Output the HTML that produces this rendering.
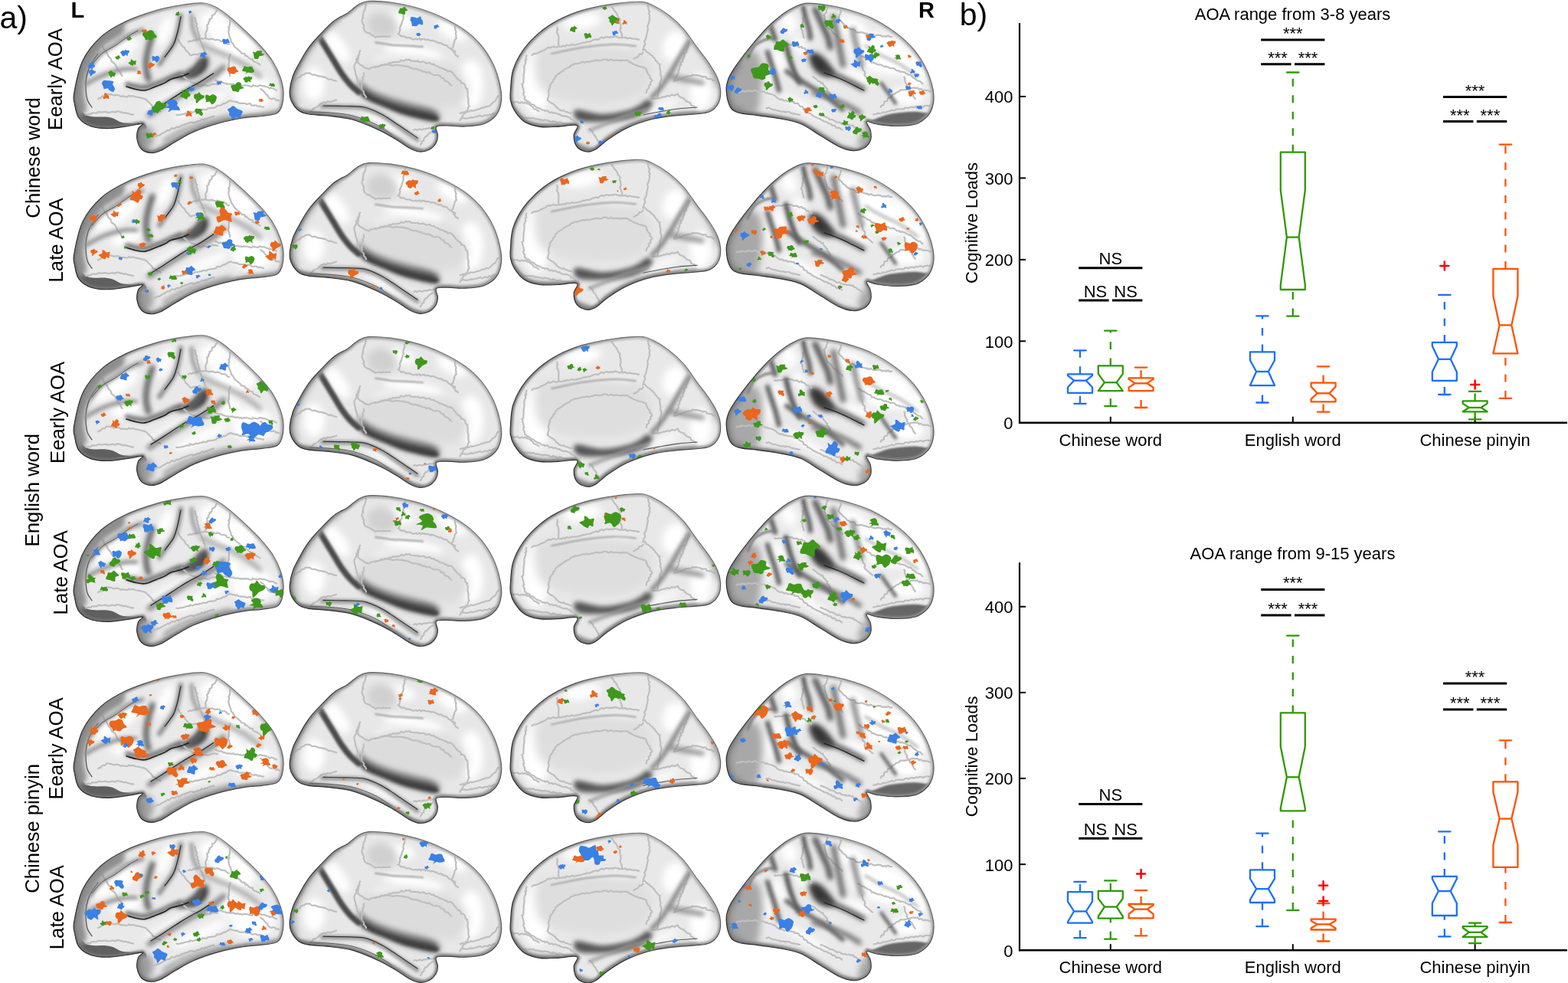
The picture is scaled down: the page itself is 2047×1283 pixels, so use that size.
<!DOCTYPE html>
<html><head><meta charset="utf-8"><title>AOA cognitive loads figure</title>
<style>html,body{margin:0;padding:0;background:#fff;overflow:hidden}svg{display:block}</style>
</head><body>
<svg width="2047" height="1283" viewBox="0 0 2047 1283">
<defs><linearGradient id="edgegrad" x1="0" y1="1" x2="1" y2="0"><stop offset="0" stop-color="#222"/><stop offset="0.55" stop-color="#444"/><stop offset="1" stop-color="#9a9a9a"/></linearGradient>
<linearGradient id="rimgrad" x1="0" y1="1" x2="1" y2="0"><stop offset="0" stop-color="#6a6a6a"/><stop offset="0.5" stop-color="#8a8a8a"/><stop offset="1" stop-color="#c8c8c8"/></linearGradient>
<path id="bt0" d="M0.249 -0.743C0.392 -0.748 0.577 -0.672 0.676 -0.579C0.775 -0.486 0.754 -0.321 0.844 -0.185C0.935 -0.049 1.237 0.138 1.221 0.238C1.205 0.338 0.889 0.332 0.747 0.414C0.605 0.496 0.511 0.696 0.368 0.730C0.224 0.764 0.017 0.621 -0.114 0.618C-0.244 0.616 -0.347 0.751 -0.417 0.716C-0.488 0.681 -0.457 0.536 -0.535 0.410C-0.614 0.283 -0.851 0.101 -0.890 -0.043C-0.928 -0.187 -0.833 -0.371 -0.766 -0.454C-0.698 -0.537 -0.582 -0.527 -0.484 -0.542C-0.387 -0.558 -0.303 -0.516 -0.181 -0.549C-0.059 -0.583 0.106 -0.738 0.249 -0.743Z"/>
<path id="bt1" d="M-0.880 -0.799C-0.719 -0.873 -0.424 -0.771 -0.230 -0.760C-0.035 -0.749 0.125 -0.771 0.288 -0.735C0.451 -0.698 0.704 -0.632 0.749 -0.542C0.793 -0.452 0.557 -0.309 0.556 -0.193C0.554 -0.077 0.677 0.020 0.740 0.151C0.803 0.282 0.955 0.434 0.934 0.592C0.914 0.749 0.774 1.064 0.619 1.096C0.464 1.127 0.145 0.883 0.003 0.783C-0.138 0.683 -0.094 0.527 -0.231 0.496C-0.368 0.466 -0.693 0.652 -0.817 0.600C-0.942 0.548 -0.914 0.335 -0.978 0.183C-1.041 0.031 -1.213 -0.149 -1.197 -0.312C-1.180 -0.476 -1.041 -0.724 -0.880 -0.799Z"/>
<path id="bt2" d="M-1.258 0.011C-1.189 -0.082 -0.720 -0.147 -0.606 -0.295C-0.492 -0.443 -0.632 -0.791 -0.573 -0.879C-0.514 -0.966 -0.384 -0.891 -0.251 -0.820C-0.117 -0.749 0.048 -0.495 0.227 -0.453C0.406 -0.412 0.727 -0.613 0.824 -0.572C0.920 -0.530 0.820 -0.331 0.805 -0.204C0.790 -0.078 0.754 0.054 0.734 0.189C0.714 0.325 0.777 0.567 0.684 0.609C0.591 0.651 0.294 0.404 0.175 0.440C0.057 0.475 0.090 0.785 -0.027 0.821C-0.143 0.858 -0.359 0.750 -0.524 0.657C-0.689 0.564 -0.896 0.371 -1.018 0.263C-1.141 0.155 -1.327 0.104 -1.258 0.011Z"/>
<path id="bt3" d="M0.468 0.564C0.269 0.564 0.119 0.438 -0.062 0.478C-0.243 0.517 -0.553 0.823 -0.616 0.800C-0.680 0.776 -0.324 0.450 -0.442 0.338C-0.560 0.226 -1.210 0.233 -1.325 0.126C-1.440 0.019 -1.210 -0.133 -1.129 -0.306C-1.049 -0.480 -0.999 -0.847 -0.842 -0.913C-0.685 -0.980 -0.383 -0.718 -0.189 -0.704C0.006 -0.691 0.154 -0.818 0.323 -0.832C0.493 -0.846 0.710 -0.868 0.828 -0.788C0.947 -0.708 0.954 -0.513 1.033 -0.352C1.111 -0.191 1.282 0.042 1.299 0.180C1.315 0.318 1.268 0.411 1.129 0.475C0.991 0.539 0.666 0.563 0.468 0.564Z"/>
<path id="bt4" d="M-1.200 0.150C-1.160 -0.007 -0.766 0.050 -0.699 -0.096C-0.633 -0.242 -0.844 -0.550 -0.802 -0.728C-0.759 -0.905 -0.596 -1.162 -0.442 -1.160C-0.289 -1.159 -0.010 -0.836 0.118 -0.718C0.245 -0.599 0.200 -0.518 0.323 -0.448C0.446 -0.379 0.791 -0.377 0.855 -0.301C0.918 -0.225 0.719 -0.121 0.702 0.007C0.686 0.135 0.742 0.341 0.758 0.468C0.773 0.596 0.917 0.757 0.794 0.773C0.672 0.789 0.204 0.600 0.023 0.566C-0.158 0.533 -0.134 0.524 -0.294 0.572C-0.454 0.619 -0.788 0.921 -0.939 0.850C-1.090 0.780 -1.240 0.308 -1.200 0.150Z"/>
<path id="bt5" d="M0.751 0.855C0.629 0.940 0.424 1.213 0.260 1.163C0.096 1.114 -0.015 0.635 -0.233 0.559C-0.452 0.483 -0.927 0.753 -1.053 0.708C-1.178 0.663 -0.967 0.459 -0.985 0.288C-1.003 0.117 -1.162 -0.112 -1.160 -0.319C-1.157 -0.526 -1.130 -0.885 -0.970 -0.953C-0.811 -1.021 -0.358 -0.757 -0.203 -0.727C-0.048 -0.698 -0.171 -0.727 -0.041 -0.776C0.089 -0.826 0.357 -1.063 0.576 -1.027C0.795 -0.990 1.165 -0.742 1.274 -0.556C1.383 -0.369 1.276 -0.107 1.229 0.094C1.182 0.295 1.070 0.524 0.991 0.651C0.911 0.778 0.873 0.769 0.751 0.855Z"/>
<path id="bt6" d="M0.008 -0.786C0.100 -0.796 0.180 -0.636 0.344 -0.591C0.509 -0.547 0.896 -0.620 0.995 -0.520C1.094 -0.420 1.004 -0.129 0.938 0.009C0.872 0.147 0.649 0.156 0.598 0.306C0.548 0.457 0.723 0.866 0.634 0.912C0.545 0.957 0.230 0.573 0.062 0.580C-0.106 0.586 -0.210 0.939 -0.375 0.952C-0.541 0.965 -0.834 0.749 -0.931 0.658C-1.029 0.566 -0.895 0.521 -0.961 0.403C-1.026 0.284 -1.365 0.105 -1.324 -0.054C-1.283 -0.214 -0.900 -0.474 -0.714 -0.554C-0.527 -0.633 -0.326 -0.493 -0.205 -0.532C-0.085 -0.571 -0.083 -0.776 0.008 -0.786Z"/>
<path id="bt7" d="M-0.987 -0.018C-0.959 -0.136 -0.906 -0.090 -0.845 -0.225C-0.784 -0.361 -0.747 -0.738 -0.624 -0.831C-0.500 -0.924 -0.277 -0.730 -0.105 -0.783C0.068 -0.836 0.273 -1.126 0.413 -1.147C0.552 -1.168 0.575 -1.053 0.732 -0.909C0.888 -0.766 1.351 -0.439 1.353 -0.285C1.354 -0.131 0.852 -0.126 0.740 0.013C0.629 0.152 0.710 0.408 0.684 0.549C0.658 0.690 0.691 0.819 0.583 0.858C0.476 0.897 0.193 0.824 0.039 0.782C-0.114 0.739 -0.160 0.652 -0.336 0.603C-0.512 0.554 -0.908 0.591 -1.016 0.487C-1.125 0.384 -1.016 0.101 -0.987 -0.018Z"/>
<path id="bt8" d="M-0.642 -0.153C-0.556 -0.248 -0.557 -0.275 -0.494 -0.377C-0.431 -0.479 -0.393 -0.675 -0.265 -0.764C-0.137 -0.854 0.139 -0.941 0.276 -0.914C0.413 -0.888 0.405 -0.671 0.558 -0.603C0.710 -0.535 1.066 -0.605 1.191 -0.508C1.316 -0.412 1.394 -0.183 1.310 -0.022C1.226 0.139 0.844 0.360 0.685 0.458C0.526 0.555 0.478 0.455 0.357 0.562C0.236 0.669 0.064 1.030 -0.040 1.100C-0.143 1.171 -0.126 1.037 -0.265 0.987C-0.405 0.936 -0.754 0.930 -0.879 0.798C-1.003 0.665 -1.053 0.350 -1.014 0.191C-0.975 0.033 -0.729 -0.059 -0.642 -0.153Z"/>
<path id="bt9" d="M-0.262 -0.652C-0.174 -0.725 -0.075 -1.002 0.093 -1.038C0.261 -1.074 0.631 -0.993 0.747 -0.868C0.862 -0.743 0.689 -0.437 0.786 -0.288C0.884 -0.139 1.380 -0.078 1.332 0.024C1.284 0.126 0.649 0.223 0.497 0.323C0.346 0.423 0.496 0.546 0.423 0.624C0.349 0.701 0.160 0.780 0.055 0.788C-0.051 0.795 -0.068 0.701 -0.210 0.668C-0.352 0.635 -0.669 0.672 -0.797 0.590C-0.925 0.507 -0.922 0.340 -0.979 0.174C-1.037 0.007 -1.233 -0.282 -1.142 -0.410C-1.052 -0.539 -0.585 -0.558 -0.438 -0.598C-0.291 -0.638 -0.351 -0.579 -0.262 -0.652Z"/>
<path id="bt10" d="M-0.302 -0.754C-0.124 -0.723 -0.078 -0.581 0.110 -0.608C0.297 -0.634 0.685 -0.942 0.821 -0.912C0.956 -0.883 0.862 -0.555 0.921 -0.429C0.980 -0.303 1.126 -0.334 1.173 -0.157C1.220 0.020 1.314 0.516 1.201 0.630C1.087 0.744 0.678 0.487 0.492 0.527C0.305 0.567 0.214 0.808 0.081 0.869C-0.053 0.929 -0.167 0.894 -0.310 0.890C-0.453 0.886 -0.677 0.967 -0.777 0.843C-0.877 0.720 -0.852 0.321 -0.908 0.148C-0.964 -0.026 -1.104 -0.042 -1.113 -0.199C-1.122 -0.355 -1.099 -0.699 -0.964 -0.791C-0.829 -0.884 -0.481 -0.785 -0.302 -0.754Z"/>
<path id="bt11" d="M0.991 0.504C0.919 0.585 0.570 0.527 0.384 0.526C0.198 0.526 0.055 0.458 -0.124 0.500C-0.303 0.542 -0.620 0.817 -0.689 0.778C-0.759 0.738 -0.449 0.367 -0.540 0.264C-0.632 0.161 -1.226 0.235 -1.238 0.158C-1.249 0.081 -0.659 -0.056 -0.608 -0.196C-0.558 -0.337 -1.016 -0.545 -0.934 -0.685C-0.852 -0.825 -0.344 -1.006 -0.117 -1.035C0.111 -1.064 0.300 -0.957 0.430 -0.859C0.560 -0.761 0.639 -0.558 0.665 -0.447C0.691 -0.335 0.562 -0.269 0.587 -0.188C0.612 -0.106 0.748 -0.073 0.815 0.042C0.883 0.158 1.063 0.423 0.991 0.504Z"/>
<path id="bt12" d="M0.924 0.053C0.944 0.165 0.768 0.429 0.686 0.511C0.604 0.593 0.516 0.463 0.432 0.543C0.347 0.624 0.324 0.971 0.181 0.994C0.038 1.018 -0.236 0.755 -0.428 0.682C-0.621 0.608 -0.911 0.666 -0.973 0.553C-1.035 0.440 -0.865 0.136 -0.801 0.003C-0.738 -0.130 -0.614 -0.116 -0.591 -0.245C-0.568 -0.374 -0.721 -0.730 -0.663 -0.771C-0.604 -0.812 -0.381 -0.458 -0.240 -0.491C-0.100 -0.524 0.032 -0.948 0.179 -0.971C0.327 -0.994 0.583 -0.763 0.647 -0.628C0.711 -0.494 0.520 -0.277 0.566 -0.163C0.612 -0.050 0.904 -0.060 0.924 0.053Z"/>
<path id="bt13" d="M1.128 0.116C1.129 0.201 0.825 0.302 0.671 0.350C0.518 0.397 0.327 0.308 0.206 0.401C0.085 0.494 0.094 0.828 -0.055 0.907C-0.204 0.987 -0.558 0.961 -0.687 0.880C-0.815 0.800 -0.793 0.571 -0.826 0.424C-0.860 0.278 -0.852 0.132 -0.887 0.000C-0.921 -0.132 -1.102 -0.316 -1.032 -0.366C-0.962 -0.417 -0.590 -0.278 -0.467 -0.304C-0.343 -0.330 -0.381 -0.478 -0.291 -0.524C-0.201 -0.570 -0.090 -0.571 0.073 -0.578C0.237 -0.584 0.591 -0.634 0.689 -0.565C0.787 -0.495 0.588 -0.274 0.661 -0.161C0.735 -0.047 1.126 0.031 1.128 0.116Z"/>
<path id="bt14" d="M-0.516 0.685C-0.619 0.531 -0.826 0.425 -0.880 0.299C-0.934 0.173 -0.798 0.071 -0.841 -0.072C-0.884 -0.215 -1.158 -0.438 -1.137 -0.559C-1.117 -0.679 -0.873 -0.701 -0.718 -0.795C-0.563 -0.889 -0.384 -1.134 -0.207 -1.124C-0.030 -1.114 0.198 -0.829 0.346 -0.734C0.494 -0.640 0.519 -0.637 0.682 -0.554C0.846 -0.472 1.267 -0.409 1.327 -0.240C1.387 -0.071 1.112 0.279 1.043 0.460C0.974 0.641 1.039 0.814 0.914 0.846C0.790 0.878 0.493 0.590 0.297 0.652C0.101 0.715 -0.124 1.217 -0.260 1.222C-0.395 1.227 -0.413 0.838 -0.516 0.685Z"/>
<path id="bt15" d="M0.264 0.597C0.159 0.695 0.043 0.863 -0.074 0.955C-0.192 1.047 -0.367 1.257 -0.442 1.151C-0.517 1.045 -0.474 0.478 -0.526 0.321C-0.577 0.164 -0.680 0.303 -0.750 0.208C-0.819 0.113 -0.947 -0.075 -0.945 -0.247C-0.943 -0.418 -0.873 -0.713 -0.738 -0.823C-0.604 -0.933 -0.284 -0.837 -0.138 -0.908C0.007 -0.979 -0.008 -1.288 0.136 -1.249C0.281 -1.210 0.530 -0.800 0.728 -0.676C0.927 -0.551 1.240 -0.612 1.326 -0.500C1.412 -0.387 1.375 -0.144 1.246 0.001C1.117 0.145 0.716 0.268 0.553 0.367C0.389 0.467 0.368 0.499 0.264 0.597Z"/>
<filter id="b0_5" filterUnits="userSpaceOnUse" x="-100" y="-100" width="1500" height="500"><feGaussianBlur stdDeviation="0.5"/></filter>
<filter id="b1" filterUnits="userSpaceOnUse" x="-100" y="-100" width="1500" height="500"><feGaussianBlur stdDeviation="1"/></filter>
<filter id="b1_2" filterUnits="userSpaceOnUse" x="-100" y="-100" width="1500" height="500"><feGaussianBlur stdDeviation="1.2"/></filter>
<filter id="b1_5" filterUnits="userSpaceOnUse" x="-100" y="-100" width="1500" height="500"><feGaussianBlur stdDeviation="1.5"/></filter>
<filter id="b2" filterUnits="userSpaceOnUse" x="-100" y="-100" width="1500" height="500"><feGaussianBlur stdDeviation="2"/></filter>
<filter id="b2_5" filterUnits="userSpaceOnUse" x="-100" y="-100" width="1500" height="500"><feGaussianBlur stdDeviation="2.5"/></filter>
<filter id="b3" filterUnits="userSpaceOnUse" x="-100" y="-100" width="1500" height="500"><feGaussianBlur stdDeviation="3"/></filter>
<filter id="b3_5" filterUnits="userSpaceOnUse" x="-100" y="-100" width="1500" height="500"><feGaussianBlur stdDeviation="3.5"/></filter>
<filter id="b4" filterUnits="userSpaceOnUse" x="-100" y="-100" width="1500" height="500"><feGaussianBlur stdDeviation="4"/></filter>
<filter id="b5" filterUnits="userSpaceOnUse" x="-100" y="-100" width="1500" height="500"><feGaussianBlur stdDeviation="5"/></filter>
<filter id="b6" filterUnits="userSpaceOnUse" x="-100" y="-100" width="1500" height="500"><feGaussianBlur stdDeviation="6"/></filter>
<clipPath id="clip_latL"><path d="M96.8 121.0C95.0 130.5 96.5 130.5 97.5 136.0C98.5 141.5 99.4 149.2 103.0 154.0C106.6 158.8 112.3 162.8 119.0 165.0C125.7 167.2 134.5 167.7 143.0 167.5C151.5 167.3 162.8 165.0 170.0 164.0C177.2 163.0 184.8 160.8 186.5 161.5C188.2 162.2 181.8 164.6 180.5 168.0C179.2 171.4 178.2 177.5 179.0 182.0C179.8 186.5 182.0 192.1 185.0 195.0C188.0 197.9 192.8 199.2 197.0 199.5C201.2 199.8 204.7 198.9 210.0 196.5C215.3 194.1 221.8 189.1 229.0 185.0C236.2 180.9 243.7 176.0 253.0 172.0C262.3 168.0 274.3 164.0 285.0 161.0C295.7 158.0 307.5 155.6 317.0 154.0C326.5 152.4 334.7 152.5 342.0 151.5C349.3 150.5 356.7 150.2 361.0 148.0C365.3 145.8 366.5 142.7 368.0 138.0C369.5 133.3 370.3 126.2 370.0 120.0C369.7 113.8 368.3 107.7 366.0 101.0C363.7 94.3 360.2 86.7 356.0 80.0C351.8 73.3 346.8 67.5 341.0 61.0C335.2 54.5 327.7 47.3 321.0 41.0C314.3 34.7 307.2 28.1 301.0 23.0C294.8 17.9 289.8 13.7 284.0 10.5C278.2 7.3 273.8 4.7 266.0 4.0C258.2 3.3 247.3 4.9 237.0 6.5C226.7 8.1 216.2 9.9 204.0 13.5C191.8 17.1 176.0 22.2 164.0 28.0C152.0 33.8 141.3 39.5 132.0 48.0C122.7 56.5 113.9 66.8 108.0 79.0C102.1 91.2 98.5 111.5 96.8 121.0Z"/></clipPath>
<path id="edge_latL" d="M96.8 121.0C95.0 130.5 96.5 130.5 97.5 136.0C98.5 141.5 99.4 149.2 103.0 154.0C106.6 158.8 112.3 162.8 119.0 165.0C125.7 167.2 134.5 167.7 143.0 167.5C151.5 167.3 162.8 165.0 170.0 164.0C177.2 163.0 184.8 160.8 186.5 161.5C188.2 162.2 181.8 164.6 180.5 168.0C179.2 171.4 178.2 177.5 179.0 182.0C179.8 186.5 182.0 192.1 185.0 195.0C188.0 197.9 192.8 199.2 197.0 199.5C201.2 199.8 204.7 198.9 210.0 196.5C215.3 194.1 221.8 189.1 229.0 185.0C236.2 180.9 243.7 176.0 253.0 172.0C262.3 168.0 274.3 164.0 285.0 161.0C295.7 158.0 307.5 155.6 317.0 154.0C326.5 152.4 334.7 152.5 342.0 151.5C349.3 150.5 356.7 150.2 361.0 148.0C365.3 145.8 366.5 142.7 368.0 138.0C369.5 133.3 370.3 126.2 370.0 120.0C369.7 113.8 368.3 107.7 366.0 101.0C363.7 94.3 360.2 86.7 356.0 80.0C351.8 73.3 346.8 67.5 341.0 61.0C335.2 54.5 327.7 47.3 321.0 41.0C314.3 34.7 307.2 28.1 301.0 23.0C294.8 17.9 289.8 13.7 284.0 10.5C278.2 7.3 273.8 4.7 266.0 4.0C258.2 3.3 247.3 4.9 237.0 6.5C226.7 8.1 216.2 9.9 204.0 13.5C191.8 17.1 176.0 22.2 164.0 28.0C152.0 33.8 141.3 39.5 132.0 48.0C122.7 56.5 113.9 66.8 108.0 79.0C102.1 91.2 98.5 111.5 96.8 121.0Z" fill="none" stroke="url(#edgegrad)" stroke-width="1.2"/>
<g id="body_latL">
<path d="M96.8 121.0C95.0 130.5 96.5 130.5 97.5 136.0C98.5 141.5 99.4 149.2 103.0 154.0C106.6 158.8 112.3 162.8 119.0 165.0C125.7 167.2 134.5 167.7 143.0 167.5C151.5 167.3 162.8 165.0 170.0 164.0C177.2 163.0 184.8 160.8 186.5 161.5C188.2 162.2 181.8 164.6 180.5 168.0C179.2 171.4 178.2 177.5 179.0 182.0C179.8 186.5 182.0 192.1 185.0 195.0C188.0 197.9 192.8 199.2 197.0 199.5C201.2 199.8 204.7 198.9 210.0 196.5C215.3 194.1 221.8 189.1 229.0 185.0C236.2 180.9 243.7 176.0 253.0 172.0C262.3 168.0 274.3 164.0 285.0 161.0C295.7 158.0 307.5 155.6 317.0 154.0C326.5 152.4 334.7 152.5 342.0 151.5C349.3 150.5 356.7 150.2 361.0 148.0C365.3 145.8 366.5 142.7 368.0 138.0C369.5 133.3 370.3 126.2 370.0 120.0C369.7 113.8 368.3 107.7 366.0 101.0C363.7 94.3 360.2 86.7 356.0 80.0C351.8 73.3 346.8 67.5 341.0 61.0C335.2 54.5 327.7 47.3 321.0 41.0C314.3 34.7 307.2 28.1 301.0 23.0C294.8 17.9 289.8 13.7 284.0 10.5C278.2 7.3 273.8 4.7 266.0 4.0C258.2 3.3 247.3 4.9 237.0 6.5C226.7 8.1 216.2 9.9 204.0 13.5C191.8 17.1 176.0 22.2 164.0 28.0C152.0 33.8 141.3 39.5 132.0 48.0C122.7 56.5 113.9 66.8 108.0 79.0C102.1 91.2 98.5 111.5 96.8 121.0Z" fill="#e9e9e9"/>
<ellipse cx="150.0" cy="70.0" rx="35.0" ry="12.0" transform="rotate(-30 150.0 70.0)" fill="#ffffff" filter="url(#b5)"/>
<ellipse cx="165.0" cy="100.0" rx="22.0" ry="9.0" transform="rotate(-20 165.0 100.0)" fill="#ffffff" filter="url(#b5)"/>
<ellipse cx="222.0" cy="128.0" rx="38.0" ry="7.0" transform="rotate(-30 222.0 128.0)" fill="#ffffff" filter="url(#b5)"/>
<ellipse cx="262.0" cy="137.0" rx="40.0" ry="7.0" transform="rotate(-25 262.0 137.0)" fill="#ffffff" filter="url(#b5)"/>
<ellipse cx="305.0" cy="55.0" rx="30.0" ry="20.0" transform="rotate(20 305.0 55.0)" fill="#ffffff" filter="url(#b5)"/>
<ellipse cx="330.0" cy="120.0" rx="28.0" ry="22.0" transform="rotate(0 330.0 120.0)" fill="#ffffff" filter="url(#b5)"/>
<ellipse cx="280.0" cy="30.0" rx="20.0" ry="15.0" transform="rotate(20 280.0 30.0)" fill="#ffffff" filter="url(#b5)"/>
<ellipse cx="215.0" cy="40.0" rx="8.0" ry="22.0" transform="rotate(25 215.0 40.0)" fill="#ffffff" filter="url(#b5)"/>
<ellipse cx="300.0" cy="100.0" rx="15.0" ry="15.0" transform="rotate(0 300.0 100.0)" fill="#ffffff" filter="url(#b5)"/>
<path d="M96.0 122.0C96.7 119.0 97.7 129.2 99.0 132.0C100.3 134.8 102.7 136.8 104.0 139.0C105.3 141.2 105.5 143.1 107.0 145.0C108.5 146.9 110.2 149.2 113.0 150.5C115.8 151.8 119.8 152.2 124.0 152.5C128.2 152.8 134.0 152.2 138.0 152.5C142.0 152.8 144.7 153.3 148.0 154.5C151.3 155.7 154.3 158.4 158.0 159.5C161.7 160.6 165.0 160.8 170.0 161.0C175.0 161.2 185.0 159.5 188.0 161.0C191.0 162.5 194.3 168.2 188.0 170.0C181.7 171.8 163.0 172.3 150.0 172.0C137.0 171.7 119.2 171.7 110.0 168.0C100.8 164.3 97.3 157.7 95.0 150.0C92.7 142.3 95.3 125.0 96.0 122.0Z" fill="#5f5f5f" filter="url(#b1_0)"/>
<path d="M178.0 170.0C180.3 166.3 186.3 162.7 190.0 163.0C193.7 163.3 198.7 167.5 200.0 172.0C201.3 176.5 200.5 185.3 198.0 190.0C195.5 194.7 188.7 200.8 185.0 200.0C181.3 199.2 177.2 190.0 176.0 185.0C174.8 180.0 175.7 173.7 178.0 170.0Z" fill="#a0a0a0" filter="url(#b4)"/>
<path d="M246.0 96.0C247.2 93.7 252.3 91.0 255.0 88.0C257.7 85.0 259.8 80.7 262.0 78.0C264.2 75.3 266.3 71.7 268.0 72.0C269.7 72.3 272.0 76.7 272.0 80.0C272.0 83.3 270.3 88.8 268.0 92.0C265.7 95.2 261.3 97.3 258.0 99.0C254.7 100.7 250.0 102.5 248.0 102.0C246.0 101.5 244.8 98.3 246.0 96.0Z" fill="#2e2e2e" filter="url(#b3_5)"/>
<path d="M228.0 101.0C228.8 99.0 240.3 94.8 245.0 92.0C249.7 89.2 253.2 86.7 256.0 84.0C258.8 81.3 260.3 76.0 262.0 76.0C263.7 76.0 266.7 80.7 266.0 84.0C265.3 87.3 262.3 92.7 258.0 96.0C253.7 99.3 245.0 103.2 240.0 104.0C235.0 104.8 227.2 103.0 228.0 101.0Z" fill="#5a5a5a" filter="url(#b3)"/>
<path d="M127.3 129.8L130.2 128.0L131.0 128.3L132.7 126.4L134.2 125.1L136.9 125.2L138.9 122.9L140.3 122.4L141.9 122.7L143.7 123.3L145.2 123.1L147.9 124.4L150.3 124.4L152.1 123.9L154.0 124.2L156.4 124.9L158.1 126.1L159.8 125.4L161.6 125.7L164.7 126.3L166.7 126.1L168.2 124.7L170.1 125.6L173.2 125.4L174.5 125.4L177.1 126.5L178.8 126.7L181.6 127.1L184.1 127.9L186.4 128.4L187.0 128.4L190.0 129.4L191.7 130.9L193.5 132.8L195.0 134.1L196.0 135.3L198.0 136.9L199.0 139.3L200.5 140.5L202.6 141.1L204.1 142.6L205.6 144.0L208.1 143.9L210.0 146.0" fill="none" stroke="#bfbfbf" stroke-width="2.2"/>
<path d="M110.8 149.9L112.2 149.4L114.4 149.5L115.2 148.9L118.6 149.1L119.7 147.6L121.8 147.3L123.2 147.5L126.1 147.6L128.6 145.9L129.8 146.1L131.9 146.5L134.9 146.2L136.6 145.9L139.1 146.0L139.5 146.7L142.0 146.8L144.6 146.3L147.0 145.8L149.2 146.4L150.3 146.8L152.8 145.2L155.8 145.7L157.4 146.6L158.8 146.2L161.4 147.6L163.5 146.9L165.3 147.8L166.4 147.9L169.1 148.7L171.6 149.5L173.2 149.4L175.0 150.0" fill="none" stroke="#bfbfbf" stroke-width="2.2"/>
<path d="M254.2 22.4L254.5 23.5L255.0 25.3L255.2 27.2L256.1 30.1L257.3 31.2L256.4 34.3L257.7 36.3L258.2 37.1L257.5 39.6L259.2 42.0L259.2 44.7L260.2 46.0L260.5 48.1L260.1 51.1L261.1 52.1L262.6 55.3L263.3 56.8L264.2 58.5L264.5 61.3L265.9 62.0L266.0 65.2L267.4 65.6L267.4 67.8L268.0 70.0" fill="none" stroke="#bfbfbf" stroke-width="2.2"/>
<path d="M283.7 11.6L283.2 13.8L281.8 15.3L280.8 17.6L278.8 19.5L276.9 19.8L276.7 22.8L275.7 24.3L273.5 25.3L273.9 26.7L272.2 28.9L272.5 30.8L270.1 32.8L270.8 35.2L270.4 37.6L270.1 40.2L269.4 40.6L268.1 44.3L268.7 46.6L268.5 48.7L268.0 50.0" fill="none" stroke="#bfbfbf" stroke-width="2.2"/>
<path d="M300.0 24.9L300.4 27.5L300.1 28.8L300.2 30.4L299.7 33.3L298.4 35.8L299.1 36.2L299.1 39.3L298.4 40.1L298.5 43.8L298.7 44.6L299.2 46.3L299.8 48.3L300.7 50.0L301.4 52.3L302.0 55.1L304.0 56.4L304.6 58.3L305.5 59.5L306.3 61.0L308.3 62.7L310.7 64.6L311.4 65.1L313.7 67.1L314.2 67.9L315.8 69.7L319.2 70.1L320.1 72.8L321.5 72.4L323.8 74.5L325.7 76.2L327.1 76.9L329.9 77.3L330.1 79.2L332.1 80.8L335.2 81.7L336.7 83.0L337.3 83.0L340.0 85.0" fill="none" stroke="#bfbfbf" stroke-width="2.2"/>
<path d="M280.6 104.3L282.3 105.3L284.1 105.8L285.8 106.8L288.6 106.4L290.5 107.7L292.0 108.3L294.5 108.8L296.0 109.6L298.5 109.5L299.4 109.6L301.6 110.0L304.8 109.7L306.4 110.7L307.6 111.1L309.8 110.5L312.3 111.5L314.5 111.3L316.1 112.2L318.6 111.3L319.9 111.5L321.3 111.3L324.6 111.8L325.9 112.6L329.0 112.8L329.9 111.3L331.7 111.8L335.1 112.6L336.9 112.6L338.9 111.4L340.0 111.3L342.3 112.3L345.1 112.2L346.8 113.0L348.9 113.7L350.5 114.1L351.7 115.4L354.3 114.8L356.8 115.4L357.8 116.1L359.3 117.1L362.0 118.0" fill="none" stroke="#bfbfbf" stroke-width="2.2"/>
<path d="M229.5 149.7L232.6 150.3L235.0 149.6L236.2 149.6L239.0 149.0L240.9 148.6L242.3 147.8L245.4 147.4L247.4 147.4L248.1 145.6L251.3 146.7L253.1 146.0L255.4 144.9L257.6 145.0L260.0 144.6L260.4 144.1L263.9 143.7L265.0 142.6L267.3 143.2L269.9 142.9L271.0 141.7L274.4 141.1L276.6 140.9L278.0 140.8L280.0 140.5L282.1 139.6L283.3 137.8L285.2 138.0L288.8 137.2L290.4 136.0L292.4 135.0L293.9 135.2L296.3 133.4L297.7 132.5L300.0 131.3L302.0 131.5L303.4 132.3L306.4 132.7L308.2 133.4L309.3 132.8L311.7 134.5L313.6 134.9L315.6 134.8L317.5 134.9L319.4 134.8L322.4 136.2L324.1 135.3L327.0 135.4L327.9 137.3L330.7 137.8L333.1 137.3L335.2 137.7L336.4 138.8L339.5 138.5L340.6 139.3L342.7 139.5L345.0 140.0" fill="none" stroke="#bfbfbf" stroke-width="2.2"/>
<path d="M199.3 179.8L201.0 178.3L204.0 177.9L205.6 176.5L208.4 176.6L209.6 175.4L211.0 174.6L213.9 173.0L214.7 172.6L216.6 171.5L218.8 170.0L220.9 170.4L223.2 168.4L224.2 167.3L227.8 167.9L229.0 166.9L231.4 165.5L233.2 166.1L234.2 165.3L236.2 164.6L238.0 163.1L241.3 162.6L241.8 162.0L244.2 161.3L245.3 161.0L248.0 159.7L250.9 159.3L252.0 160.3L254.5 159.6L256.8 158.7L258.1 158.0L259.6 158.1L261.9 157.2L263.4 155.5L266.1 156.6L267.9 154.8L269.8 155.5L271.5 154.0L274.3 153.2L275.9 152.5L278.6 151.8L280.0 152.0" fill="none" stroke="#bfbfbf" stroke-width="2.2"/>
<path d="M234.2 95.8L236.8 97.0L238.5 98.1L239.6 98.6L240.5 100.9L241.7 101.6L243.3 102.7L245.0 105.1L246.5 105.2L249.3 106.9L250.3 107.4L252.6 108.1L255.3 108.7L256.7 110.1L258.1 110.7L260.2 111.5L261.5 112.7L264.4 111.4L267.1 110.9L268.3 111.1L269.5 112.0L273.4 111.6L274.3 111.1L277.2 109.8L279.0 109.9L280.0 109.6L283.8 110.3L285.0 110.0" fill="none" stroke="#bfbfbf" stroke-width="2.2"/>
<path d="M244.9 54.9L246.8 54.1L248.3 53.2L250.3 54.2L252.7 52.3L255.9 52.7L256.8 51.4L259.8 51.8L261.8 50.5L263.6 50.4L265.0 50.9L267.7 49.6L268.2 50.2L271.6 51.0L273.3 51.4L274.9 50.9L277.2 50.7L279.5 51.7L281.5 52.3L283.8 51.6L284.6 52.0L286.5 52.2L288.2 53.7L289.9 54.2L293.1 54.2L294.6 55.0L296.4 57.1L297.4 57.8L300.0 58.0" fill="none" stroke="#bfbfbf" stroke-width="2.2"/>
<path d="M232.3 51.3L233.9 53.7L234.4 55.8L236.3 57.0L236.6 58.8L239.2 61.1L240.7 62.0L241.3 63.2L242.2 65.2L243.5 66.6L245.8 68.8L247.3 70.6L247.5 71.4L249.8 72.3L251.3 71.6L254.8 70.6L255.6 70.7L257.4 71.4L260.5 69.7L262.0 70.0" fill="none" stroke="#bfbfbf" stroke-width="2.2"/>
<path d="M300.5 69.9L300.5 71.7L299.6 74.2L298.7 75.7L299.3 78.6L298.7 81.3L298.8 82.4L298.4 85.8L299.0 86.3L298.0 88.6L298.0 90.9L299.3 93.2L299.4 95.6L300.3 97.0L300.0 100.0" fill="none" stroke="#bfbfbf" stroke-width="2.2"/>
<path d="M130.6 55.1L130.5 57.4L132.5 58.2L134.2 60.5L133.9 60.9L135.3 62.8L136.0 65.1L137.2 67.5L138.8 67.8L140.1 70.2L140.8 72.2L142.0 74.2L142.9 74.8L144.6 76.4L145.2 79.1L146.2 80.7L147.7 81.5L149.3 82.9L150.7 84.3L152.0 87.5L152.5 88.1L153.1 90.5L155.1 92.2L156.0 93.3L157.6 95.0L157.6 96.1L158.4 97.5L160.0 100.0" fill="none" stroke="#bfbfbf" stroke-width="2.2"/>
<path d="M339.4 115.8L340.6 116.3L343.9 118.6L344.4 119.3L345.4 120.7L348.2 123.7L349.3 124.0L349.9 126.5L351.9 128.4L355.0 129.3L356.2 128.4L359.3 129.3L360.3 130.9L362.7 130.6L365.0 132.0" fill="none" stroke="#bfbfbf" stroke-width="2.2"/>
<path d="M150.0 36.0C146.0 38.7 133.0 45.0 126.0 52.0C119.0 59.0 112.7 69.2 108.0 78.0C103.3 86.8 99.8 97.2 98.0 105.0C96.2 112.8 96.7 119.2 97.0 125.0C97.3 130.8 99.5 137.5 100.0 140.0" fill="none" stroke="#8e8e8e" stroke-width="26.0" stroke-linecap="round" filter="url(#b3)"/>
<path d="M128.0 70.0C126.3 72.5 120.5 80.0 118.0 85.0C115.5 90.0 114.0 95.0 113.0 100.0C112.0 105.0 111.8 110.0 112.0 115.0C112.2 120.0 112.7 125.8 114.0 130.0C115.3 134.2 119.0 138.3 120.0 140.0" fill="none" stroke="#5a5a5a" stroke-width="1.3" stroke-linecap="round" filter="url(#b0_5)"/>
<path d="M182.0 172.0C182.3 175.3 181.3 187.2 184.0 192.0C186.7 196.8 191.2 201.7 198.0 201.0C204.8 200.3 215.5 192.7 225.0 188.0C234.5 183.3 244.5 177.3 255.0 173.0C265.5 168.7 277.2 165.0 288.0 162.0C298.8 159.0 310.5 156.7 320.0 155.0C329.5 153.3 338.0 153.0 345.0 152.0C352.0 151.0 359.2 149.5 362.0 149.0" fill="none" stroke="#8c8c8c" stroke-width="9.0" stroke-linecap="round" filter="url(#b3)"/>
<path d="M199.0 46.0C198.2 48.7 195.3 56.7 194.0 62.0C192.7 67.3 191.5 73.0 191.0 78.0C190.5 83.0 190.5 87.7 191.0 92.0C191.5 96.3 193.5 102.0 194.0 104.0" fill="none" stroke="#5a5a5a" stroke-width="7.0" stroke-linecap="round" filter="url(#b3)"/>
<path d="M166.0 110.0C168.0 110.5 174.0 112.3 178.0 113.0C182.0 113.7 186.0 114.5 190.0 114.0C194.0 113.5 197.8 111.5 202.0 110.0C206.2 108.5 211.2 106.7 215.0 105.0C218.8 103.3 221.5 101.5 225.0 100.0C228.5 98.5 234.2 96.7 236.0 96.0" fill="none" stroke="#707070" stroke-width="6.0" stroke-linecap="round" filter="url(#b2_5)"/>
<path d="M165.0 113.0C166.8 113.5 172.1 115.5 176.0 116.3C179.9 117.1 184.4 118.4 188.6 118.0C192.8 117.6 197.1 115.3 201.4 113.7C205.7 112.1 210.7 110.3 214.3 108.6C217.9 106.9 219.4 104.8 223.0 103.4C226.6 102.0 231.9 101.2 235.7 100.0C239.5 98.8 244.3 96.7 246.0 96.0" fill="none" stroke="#1e1e1e" stroke-width="1.6" stroke-linecap="round"/>
<path d="M236.0 20.0C235.5 23.0 234.2 32.7 233.0 38.0C231.8 43.3 230.7 47.8 229.0 52.0C227.3 56.2 225.3 59.3 223.0 63.0C220.7 66.7 217.5 70.5 215.0 74.0C212.5 77.5 209.2 82.3 208.0 84.0" fill="none" stroke="#888" stroke-width="6.0" stroke-linecap="round" filter="url(#b2_5)"/>
<path d="M236.0 22.0C235.4 25.0 233.8 34.1 232.3 40.0C230.8 45.9 229.1 52.5 227.1 57.1C225.1 61.7 222.3 64.5 220.3 67.4C218.3 70.3 216.0 73.2 215.1 74.3" fill="none" stroke="#2a2a2a" stroke-width="1.3" stroke-linecap="round"/>
<path d="M195.0 150.0C198.0 148.0 206.5 142.2 213.0 138.0C219.5 133.8 228.0 128.7 234.0 125.0C240.0 121.3 244.3 118.7 249.0 116.0C253.7 113.3 256.8 112.0 262.0 109.0C267.2 106.0 275.0 101.5 280.0 98.0C285.0 94.5 290.0 89.7 292.0 88.0" fill="none" stroke="#7a7a7a" stroke-width="7.0" stroke-linecap="round" filter="url(#b3)"/>
<path d="M197.0 146.3C200.0 144.4 208.6 139.2 215.0 135.0C221.4 130.8 229.9 125.1 235.7 121.4C241.5 117.7 245.7 115.4 250.0 113.0C254.3 110.6 256.6 109.8 261.4 106.9C266.2 104.0 275.7 97.6 278.6 95.7" fill="none" stroke="#2a2a2a" stroke-width="1.3" stroke-linecap="round"/>
<path d="M118.0 86.0C120.3 83.3 126.7 74.7 132.0 70.0C137.3 65.3 144.0 62.0 150.0 58.0C156.0 54.0 162.0 49.2 168.0 46.0C174.0 42.8 183.0 40.2 186.0 39.0" fill="none" stroke="#8a8a8a" stroke-width="5.0" stroke-linecap="round" filter="url(#b2_5)"/>
<path d="M120.0 84.0C122.3 81.5 129.0 73.0 134.0 69.0C139.0 65.0 144.3 63.4 150.0 59.7C155.7 56.0 163.0 50.3 168.0 47.0C173.0 43.7 178.0 41.2 180.0 40.0" fill="none" stroke="#555" stroke-width="1.0" stroke-linecap="round"/>
<path d="M112.0 110.0C114.7 108.5 122.3 103.7 128.0 101.0C133.7 98.3 140.0 95.8 146.0 94.0C152.0 92.2 158.7 90.7 164.0 90.0C169.3 89.3 175.7 90.0 178.0 90.0" fill="none" stroke="#8e8e8e" stroke-width="5.0" stroke-linecap="round" filter="url(#b2_5)"/>
<path d="M250.0 20.0C250.3 23.0 250.7 32.7 252.0 38.0C253.3 43.3 257.0 49.7 258.0 52.0" fill="none" stroke="#999" stroke-width="5.0" stroke-linecap="round" filter="url(#b2_5)"/>
<path d="M262.0 58.0C265.0 59.3 273.7 63.3 280.0 66.0C286.3 68.7 293.0 70.7 300.0 74.0C307.0 77.3 315.3 81.7 322.0 86.0C328.7 90.3 337.0 97.7 340.0 100.0" fill="none" stroke="#a0a0a0" stroke-width="5.0" stroke-linecap="round" filter="url(#b3)"/>
<path d="M215.0 184.0C219.2 181.7 230.8 174.0 240.0 170.0C249.2 166.0 260.0 163.0 270.0 160.0C280.0 157.0 295.0 153.3 300.0 152.0" fill="none" stroke="#999" stroke-width="5.0" stroke-linecap="round" filter="url(#b3)"/>
<path d="M96.8 121.0C95.0 130.5 96.5 130.5 97.5 136.0C98.5 141.5 99.4 149.2 103.0 154.0C106.6 158.8 112.3 162.8 119.0 165.0C125.7 167.2 134.5 167.7 143.0 167.5C151.5 167.3 162.8 165.0 170.0 164.0C177.2 163.0 184.8 160.8 186.5 161.5C188.2 162.2 181.8 164.6 180.5 168.0C179.2 171.4 178.2 177.5 179.0 182.0C179.8 186.5 182.0 192.1 185.0 195.0C188.0 197.9 192.8 199.2 197.0 199.5C201.2 199.8 204.7 198.9 210.0 196.5C215.3 194.1 221.8 189.1 229.0 185.0C236.2 180.9 243.7 176.0 253.0 172.0C262.3 168.0 274.3 164.0 285.0 161.0C295.7 158.0 307.5 155.6 317.0 154.0C326.5 152.4 334.7 152.5 342.0 151.5C349.3 150.5 356.7 150.2 361.0 148.0C365.3 145.8 366.5 142.7 368.0 138.0C369.5 133.3 370.3 126.2 370.0 120.0C369.7 113.8 368.3 107.7 366.0 101.0C363.7 94.3 360.2 86.7 356.0 80.0C351.8 73.3 346.8 67.5 341.0 61.0C335.2 54.5 327.7 47.3 321.0 41.0C314.3 34.7 307.2 28.1 301.0 23.0C294.8 17.9 289.8 13.7 284.0 10.5C278.2 7.3 273.8 4.7 266.0 4.0C258.2 3.3 247.3 4.9 237.0 6.5C226.7 8.1 216.2 9.9 204.0 13.5C191.8 17.1 176.0 22.2 164.0 28.0C152.0 33.8 141.3 39.5 132.0 48.0C122.7 56.5 113.9 66.8 108.0 79.0C102.1 91.2 98.5 111.5 96.8 121.0Z" fill="none" stroke="url(#rimgrad)" stroke-width="6" filter="url(#b1_5)"/>
</g>
<clipPath id="clip_latR"><path d="M948.2 117.8C947.9 111.5 949.3 107.0 951.5 101.5C953.7 96.0 957.2 91.1 961.3 85.1C965.4 79.1 970.8 72.0 976.0 65.5C981.2 59.0 986.7 52.1 992.4 45.8C998.1 39.5 1004.1 33.2 1010.4 27.8C1016.7 22.4 1023.2 17.0 1030.0 13.1C1036.8 9.2 1043.1 5.4 1051.3 4.3C1059.5 3.2 1070.4 5.3 1079.1 6.5C1087.8 7.7 1094.2 8.8 1103.7 11.5C1113.2 14.2 1125.5 17.7 1136.4 22.9C1147.3 28.1 1159.5 35.5 1169.1 42.6C1178.6 49.7 1186.9 57.3 1193.7 65.5C1200.5 73.7 1205.9 83.0 1210.0 91.7C1214.1 100.4 1216.8 110.4 1218.2 117.8C1219.6 125.2 1219.3 130.3 1218.2 135.8C1217.1 141.3 1215.5 146.2 1211.7 150.6C1207.9 155.0 1202.4 159.7 1195.3 162.0C1188.2 164.3 1177.5 164.5 1169.1 164.5C1160.6 164.5 1150.9 162.9 1144.6 162.0C1138.3 161.1 1132.9 157.4 1131.5 158.8C1130.1 160.2 1135.6 166.1 1136.4 170.2C1137.2 174.3 1137.8 179.5 1136.4 183.3C1135.0 187.1 1132.0 190.9 1128.2 193.1C1124.4 195.3 1119.0 196.9 1113.5 196.6C1108.0 196.3 1102.6 194.8 1095.5 191.5C1088.4 188.2 1079.1 181.7 1070.9 176.8C1062.7 171.9 1054.6 165.6 1046.4 162.0C1038.2 158.4 1031.3 157.4 1021.8 155.5C1012.2 153.6 998.6 152.0 989.1 150.6C979.6 149.2 970.5 149.2 964.5 147.3C958.5 145.4 955.8 144.0 953.1 139.1C950.4 134.2 948.5 124.1 948.2 117.8Z"/></clipPath>
<path id="edge_latR" d="M948.2 117.8C947.9 111.5 949.3 107.0 951.5 101.5C953.7 96.0 957.2 91.1 961.3 85.1C965.4 79.1 970.8 72.0 976.0 65.5C981.2 59.0 986.7 52.1 992.4 45.8C998.1 39.5 1004.1 33.2 1010.4 27.8C1016.7 22.4 1023.2 17.0 1030.0 13.1C1036.8 9.2 1043.1 5.4 1051.3 4.3C1059.5 3.2 1070.4 5.3 1079.1 6.5C1087.8 7.7 1094.2 8.8 1103.7 11.5C1113.2 14.2 1125.5 17.7 1136.4 22.9C1147.3 28.1 1159.5 35.5 1169.1 42.6C1178.6 49.7 1186.9 57.3 1193.7 65.5C1200.5 73.7 1205.9 83.0 1210.0 91.7C1214.1 100.4 1216.8 110.4 1218.2 117.8C1219.6 125.2 1219.3 130.3 1218.2 135.8C1217.1 141.3 1215.5 146.2 1211.7 150.6C1207.9 155.0 1202.4 159.7 1195.3 162.0C1188.2 164.3 1177.5 164.5 1169.1 164.5C1160.6 164.5 1150.9 162.9 1144.6 162.0C1138.3 161.1 1132.9 157.4 1131.5 158.8C1130.1 160.2 1135.6 166.1 1136.4 170.2C1137.2 174.3 1137.8 179.5 1136.4 183.3C1135.0 187.1 1132.0 190.9 1128.2 193.1C1124.4 195.3 1119.0 196.9 1113.5 196.6C1108.0 196.3 1102.6 194.8 1095.5 191.5C1088.4 188.2 1079.1 181.7 1070.9 176.8C1062.7 171.9 1054.6 165.6 1046.4 162.0C1038.2 158.4 1031.3 157.4 1021.8 155.5C1012.2 153.6 998.6 152.0 989.1 150.6C979.6 149.2 970.5 149.2 964.5 147.3C958.5 145.4 955.8 144.0 953.1 139.1C950.4 134.2 948.5 124.1 948.2 117.8Z" fill="none" stroke="url(#edgegrad)" stroke-width="1.2"/>
<g id="body_latR">
<path d="M948.2 117.8C947.9 111.5 949.3 107.0 951.5 101.5C953.7 96.0 957.2 91.1 961.3 85.1C965.4 79.1 970.8 72.0 976.0 65.5C981.2 59.0 986.7 52.1 992.4 45.8C998.1 39.5 1004.1 33.2 1010.4 27.8C1016.7 22.4 1023.2 17.0 1030.0 13.1C1036.8 9.2 1043.1 5.4 1051.3 4.3C1059.5 3.2 1070.4 5.3 1079.1 6.5C1087.8 7.7 1094.2 8.8 1103.7 11.5C1113.2 14.2 1125.5 17.7 1136.4 22.9C1147.3 28.1 1159.5 35.5 1169.1 42.6C1178.6 49.7 1186.9 57.3 1193.7 65.5C1200.5 73.7 1205.9 83.0 1210.0 91.7C1214.1 100.4 1216.8 110.4 1218.2 117.8C1219.6 125.2 1219.3 130.3 1218.2 135.8C1217.1 141.3 1215.5 146.2 1211.7 150.6C1207.9 155.0 1202.4 159.7 1195.3 162.0C1188.2 164.3 1177.5 164.5 1169.1 164.5C1160.6 164.5 1150.9 162.9 1144.6 162.0C1138.3 161.1 1132.9 157.4 1131.5 158.8C1130.1 160.2 1135.6 166.1 1136.4 170.2C1137.2 174.3 1137.8 179.5 1136.4 183.3C1135.0 187.1 1132.0 190.9 1128.2 193.1C1124.4 195.3 1119.0 196.9 1113.5 196.6C1108.0 196.3 1102.6 194.8 1095.5 191.5C1088.4 188.2 1079.1 181.7 1070.9 176.8C1062.7 171.9 1054.6 165.6 1046.4 162.0C1038.2 158.4 1031.3 157.4 1021.8 155.5C1012.2 153.6 998.6 152.0 989.1 150.6C979.6 149.2 970.5 149.2 964.5 147.3C958.5 145.4 955.8 144.0 953.1 139.1C950.4 134.2 948.5 124.1 948.2 117.8Z" fill="#e9e9e9"/>
<ellipse cx="1150.0" cy="70.0" rx="45.0" ry="25.0" transform="rotate(20 1150.0 70.0)" fill="#ffffff" filter="url(#b5)"/>
<ellipse cx="1110.0" cy="35.0" rx="22.0" ry="12.0" transform="rotate(15 1110.0 35.0)" fill="#ffffff" filter="url(#b5)"/>
<ellipse cx="1185.0" cy="125.0" rx="22.0" ry="12.0" transform="rotate(0 1185.0 125.0)" fill="#ffffff" filter="url(#b5)"/>
<ellipse cx="1085.0" cy="130.0" rx="35.0" ry="5.0" transform="rotate(30 1085.0 130.0)" fill="#ffffff" filter="url(#b5)"/>
<ellipse cx="1050.0" cy="140.0" rx="35.0" ry="5.0" transform="rotate(30 1050.0 140.0)" fill="#ffffff" filter="url(#b5)"/>
<ellipse cx="985.0" cy="110.0" rx="14.0" ry="20.0" transform="rotate(0 985.0 110.0)" fill="#ffffff" filter="url(#b5)"/>
<ellipse cx="1030.0" cy="30.0" rx="10.0" ry="14.0" transform="rotate(-20 1030.0 30.0)" fill="#ffffff" filter="url(#b5)"/>
<ellipse cx="1120.0" cy="100.0" rx="20.0" ry="6.0" transform="rotate(25 1120.0 100.0)" fill="#ffffff" filter="url(#b5)"/>
<ellipse cx="1018.0" cy="80.0" rx="6.0" ry="18.0" transform="rotate(-20 1018.0 80.0)" fill="#ffffff" filter="url(#b5)"/>
<ellipse cx="1002.0" cy="100.0" rx="5.0" ry="16.0" transform="rotate(-20 1002.0 100.0)" fill="#ffffff" filter="url(#b5)"/>
<ellipse cx="1044.0" cy="60.0" rx="6.0" ry="14.0" transform="rotate(-25 1044.0 60.0)" fill="#ffffff" filter="url(#b5)"/>
<ellipse cx="1195.0" cy="95.0" rx="14.0" ry="20.0" transform="rotate(0 1195.0 95.0)" fill="#ffffff" filter="url(#b5)"/>
<path d="M1131.5 154.9C1131.8 153.8 1133.0 157.7 1138.0 156.7C1143.0 155.7 1152.3 150.7 1161.4 148.9C1170.5 147.1 1183.9 146.1 1192.5 145.8C1201.1 145.5 1208.2 148.3 1212.8 147.3C1217.4 146.3 1219.1 138.2 1220.0 140.0C1220.9 141.8 1219.9 154.3 1218.0 158.0C1216.1 161.7 1213.8 160.7 1208.4 162.0C1203.0 163.3 1193.4 165.3 1185.5 166.0C1177.6 166.7 1169.2 166.5 1161.0 166.0C1152.8 165.5 1141.3 164.8 1136.4 163.0C1131.5 161.2 1131.2 156.0 1131.5 154.9Z" fill="#666666" filter="url(#b1_2)"/>
<path d="M1057.0 70.0C1058.7 68.0 1064.5 68.7 1068.0 70.0C1071.5 71.3 1075.0 75.0 1078.0 78.0C1081.0 81.0 1084.0 84.8 1086.0 88.0C1088.0 91.2 1091.0 95.0 1090.0 97.0C1089.0 99.0 1084.0 100.5 1080.0 100.0C1076.0 99.5 1069.7 97.0 1066.0 94.0C1062.3 91.0 1059.5 86.0 1058.0 82.0C1056.5 78.0 1055.3 72.0 1057.0 70.0Z" fill="#353535" filter="url(#b3_5)"/>
<path d="M1128.0 168.0C1131.0 163.8 1136.0 162.2 1138.0 165.0C1140.0 167.8 1141.3 179.8 1140.0 185.0C1138.7 190.2 1133.3 195.2 1130.0 196.0C1126.7 196.8 1120.3 194.7 1120.0 190.0C1119.7 185.3 1125.0 172.2 1128.0 168.0Z" fill="#a5a5a5" filter="url(#b4)"/>
<path d="M948.0 100.0C949.7 91.3 954.0 85.7 958.0 80.0C962.0 74.3 966.7 67.3 972.0 66.0C977.3 64.7 986.0 66.3 990.0 72.0C994.0 77.7 995.5 90.7 996.0 100.0C996.5 109.3 994.8 119.7 993.0 128.0C991.2 136.3 990.5 146.7 985.0 150.0C979.5 153.3 966.2 151.0 960.0 148.0C953.8 145.0 950.0 140.0 948.0 132.0C946.0 124.0 946.3 108.7 948.0 100.0Z" fill="#a8a8a8" filter="url(#b5)"/>
<path d="M1047.5 5.7L1048.8 8.7L1049.5 10.4L1048.8 12.9L1049.8 14.6L1049.9 16.7L1049.5 18.3L1050.8 20.3L1050.1 22.9L1048.2 23.7L1048.7 27.3L1047.9 29.1L1047.6 30.6L1047.1 33.3L1046.8 35.4L1045.7 37.5L1047.7 39.7L1047.3 41.2L1048.0 44.2L1049.1 46.6L1048.7 47.9L1050.0 50.0" fill="none" stroke="#bfbfbf" stroke-width="2.2"/>
<path d="M1081.3 7.8L1080.1 9.3L1080.2 11.7L1078.8 13.3L1078.7 16.3L1077.0 18.1L1075.4 20.2L1077.0 21.6L1076.5 24.3L1077.1 26.3L1077.9 27.8L1078.6 31.3L1079.5 32.3L1079.2 34.3L1082.3 36.9L1083.0 37.9L1084.9 38.6L1086.2 41.3L1086.8 42.6L1088.2 43.9L1089.6 44.5L1092.3 45.9L1092.4 47.4L1094.3 48.7L1094.9 50.5L1097.1 51.3L1099.4 52.9L1100.0 55.0" fill="none" stroke="#bfbfbf" stroke-width="2.2"/>
<path d="M1097.2 12.8L1097.9 14.8L1097.6 16.5L1096.8 17.8L1095.8 20.8L1095.0 22.3L1094.7 24.1L1096.5 26.5L1097.5 27.2L1099.8 29.7L1100.4 30.7L1102.2 32.1L1104.4 33.4L1105.3 35.4L1106.7 36.2L1108.9 37.0L1110.1 38.4L1112.8 38.1L1115.3 38.6L1116.3 39.9L1117.3 41.9L1120.9 42.5L1121.8 42.6L1124.5 41.9L1126.2 42.6L1127.2 42.9L1130.9 44.1L1131.7 43.7L1133.9 45.3L1136.8 44.3L1137.4 44.8L1140.7 46.2L1141.8 46.3L1143.8 46.1L1146.6 45.7L1148.7 45.9L1150.1 46.3L1152.1 47.5L1155.5 47.2L1156.7 47.9L1159.4 46.6L1161.6 48.2L1162.7 48.0L1165.0 48.0" fill="none" stroke="#bfbfbf" stroke-width="2.2"/>
<path d="M1119.9 69.9L1121.6 70.7L1122.9 71.4L1124.8 74.0L1126.9 73.7L1130.0 75.7L1130.8 75.9L1133.5 78.0L1135.3 78.2L1137.0 79.7L1138.2 81.8L1140.7 81.4L1141.2 82.4L1144.6 83.6L1146.3 84.4L1147.9 84.3L1150.2 84.5L1152.5 85.9L1154.5 86.9L1156.8 86.6L1157.6 87.4L1159.6 87.5L1161.3 88.8L1163.1 89.2L1166.4 89.0L1167.9 89.7L1169.8 91.7L1170.8 92.2L1174.1 92.5L1174.7 93.8L1177.5 93.5L1180.0 94.3L1181.8 94.7L1182.4 95.7L1184.1 96.3L1186.6 98.0L1188.4 97.5L1190.8 99.8L1190.8 100.4L1193.2 102.1L1194.2 102.5L1196.3 104.3L1198.7 105.7L1200.9 105.9L1202.1 107.1L1204.2 109.3L1205.0 110.0" fill="none" stroke="#bfbfbf" stroke-width="2.2"/>
<path d="M1010.3 59.3L1012.6 59.9L1013.8 60.0L1016.3 59.4L1017.2 59.3L1020.5 59.7L1022.7 58.8L1023.9 58.1L1025.5 58.2L1027.5 57.8L1030.5 58.1L1032.6 58.8L1033.5 58.2L1035.8 59.9L1037.3 59.9L1040.8 59.7L1041.6 60.6L1043.4 61.9L1046.5 60.9L1047.2 62.5L1050.1 62.9L1050.6 63.5L1052.9 66.2L1054.9 66.0L1056.1 67.9L1057.9 68.6L1060.0 70.0" fill="none" stroke="#bfbfbf" stroke-width="2.2"/>
<path d="M1060.5 99.9L1062.5 100.6L1063.5 102.1L1064.6 102.6L1067.1 104.5L1068.5 106.1L1070.5 106.2L1072.0 108.6L1074.1 108.1L1074.4 109.3L1075.3 111.2L1077.4 113.0L1078.3 114.8L1080.0 115.8L1079.7 118.7L1080.9 119.1L1083.4 122.2L1083.5 124.2L1085.0 125.0" fill="none" stroke="#bfbfbf" stroke-width="2.2"/>
<path d="M960.6 120.1L961.5 120.6L964.4 119.5L967.1 120.0L967.8 118.6L970.2 118.7L971.9 119.1L974.0 119.6L976.6 118.1L978.9 118.7L980.6 118.9L982.7 119.1L984.6 117.8L987.1 118.1L988.6 119.5L990.5 119.9L992.9 119.4L995.4 119.5L997.7 119.7L999.8 121.7L1001.3 121.0L1002.7 122.1L1005.6 122.6L1007.3 123.0L1009.6 124.0L1010.4 124.5L1012.0 125.1L1014.5 127.8L1016.5 128.8L1017.8 129.9L1020.1 129.6L1021.7 130.0L1023.5 131.6L1026.1 131.1L1028.7 132.4L1030.7 132.4L1032.9 132.7L1034.5 133.2L1036.5 133.2L1037.2 134.9L1040.7 134.9L1042.4 135.4L1043.2 137.3L1044.6 138.7L1047.4 139.3L1048.8 141.2L1049.4 143.3L1052.2 144.1L1053.7 145.2L1054.2 146.9L1056.3 147.7L1058.7 148.8L1060.4 150.6L1062.4 151.6L1064.4 152.7L1066.1 153.3L1066.9 154.1L1069.8 155.0L1070.7 155.3L1073.3 157.2L1075.1 157.4L1075.7 158.8L1078.3 158.9L1080.7 160.0L1081.0 161.0L1084.3 161.3L1085.7 162.9L1086.9 164.0L1089.2 163.7L1090.6 165.3L1092.0 166.9L1095.4 166.7L1096.5 167.3L1099.0 169.4L1100.0 170.0" fill="none" stroke="#bfbfbf" stroke-width="2.2"/>
<path d="M1149.4 140.8L1150.6 138.0L1153.7 136.9L1154.2 134.3L1155.1 132.3L1157.8 132.0L1158.9 129.0L1159.4 128.1L1161.6 127.3L1164.1 126.4L1164.8 123.8L1167.4 122.8L1168.0 122.7L1169.9 120.6L1172.5 119.8L1174.0 119.1L1175.1 117.6L1176.6 117.1L1178.3 117.5L1181.9 116.9L1182.2 117.3L1185.6 116.0L1187.9 116.6L1188.4 115.2L1191.7 114.8L1192.1 114.5L1195.1 114.9L1197.8 114.7L1199.9 116.7L1200.5 116.1L1203.0 116.4L1205.3 118.2L1207.5 117.6L1209.0 118.1L1211.2 118.1L1212.7 118.8L1215.0 120.0" fill="none" stroke="#bfbfbf" stroke-width="2.2"/>
<path d="M1139.5 149.7L1142.2 149.0L1144.7 148.8L1145.5 147.6L1148.8 148.3L1150.5 148.0L1152.4 146.5L1154.7 146.7L1156.4 146.4L1158.4 145.7L1159.2 145.5L1162.2 144.7L1164.1 143.5L1165.3 144.3L1168.0 144.0L1169.6 142.6L1171.7 142.6L1174.2 142.3L1176.6 142.3L1177.7 142.7L1180.3 142.2L1181.3 140.8L1184.0 140.5L1186.1 141.3L1187.8 140.3L1190.5 139.5L1191.2 139.7L1193.4 140.4L1195.5 139.0L1198.5 139.5L1200.6 138.5L1202.6 138.4L1205.2 139.7L1206.8 138.2L1208.9 138.2L1210.8 137.7L1212.2 138.1L1215.0 138.0" fill="none" stroke="#bfbfbf" stroke-width="2.2"/>
<path d="M999.6 140.4L1001.2 141.4L1003.3 140.4L1005.5 141.5L1007.2 142.4L1009.7 143.3L1012.0 143.3L1013.6 144.0L1015.8 144.7L1017.7 144.7L1019.5 145.8L1022.5 145.3L1025.0 146.5L1025.4 145.9L1027.7 146.1L1030.2 146.2L1032.8 147.7L1034.9 148.3L1036.7 148.2L1038.1 149.0L1041.2 149.2L1042.0 149.7L1045.0 150.0" fill="none" stroke="#bfbfbf" stroke-width="2.2"/>
<path d="M1070.6 150.2L1071.9 150.0L1074.2 151.2L1076.1 151.7L1078.2 152.7L1079.7 153.4L1082.1 154.7L1083.4 156.2L1084.8 155.8L1086.9 156.3L1088.9 157.4L1090.4 158.2L1092.8 160.1L1095.7 159.5L1097.5 160.5L1098.2 161.5L1100.7 162.3L1103.8 162.2L1105.0 163.1L1107.3 163.0L1108.9 162.8L1111.1 163.9L1113.7 163.7L1114.6 165.7L1117.0 166.1L1118.0 167.0L1120.4 168.9L1121.8 169.3L1122.9 170.3L1125.4 172.2L1127.1 172.2L1128.1 173.7L1130.0 175.0" fill="none" stroke="#bfbfbf" stroke-width="2.2"/>
<path d="M1179.9 99.7L1181.5 102.6L1180.9 103.9L1181.4 106.0L1182.9 109.4L1184.4 111.1L1183.6 112.6L1185.7 115.9L1185.7 116.1L1187.4 118.0L1188.0 119.9L1190.1 120.8L1191.3 123.6L1192.2 124.4L1192.6 126.6L1194.1 127.7L1195.0 130.0" fill="none" stroke="#bfbfbf" stroke-width="2.2"/>
<path d="M1125.5 84.5L1125.3 86.6L1126.5 89.8L1126.4 91.5L1128.7 93.0L1129.4 96.2L1128.4 97.3L1129.4 99.3L1131.6 101.2L1132.8 102.3L1135.3 104.5L1137.2 106.1L1138.2 107.1L1140.0 108.0" fill="none" stroke="#bfbfbf" stroke-width="2.2"/>
<path d="M961.0 85.0C959.3 87.7 953.2 95.5 951.0 101.0C948.8 106.5 947.7 111.7 948.0 118.0C948.3 124.3 950.2 134.0 953.0 139.0C955.8 144.0 963.0 146.5 965.0 148.0" fill="none" stroke="#8c8c8c" stroke-width="14.0" stroke-linecap="round" filter="url(#b3_5)"/>
<path d="M964.5 149.0C968.6 149.5 979.4 150.7 989.0 152.0C998.6 153.3 1012.5 155.0 1022.0 157.0C1031.5 159.0 1037.8 160.5 1046.0 164.0C1054.2 167.5 1062.8 173.2 1071.0 178.0C1079.2 182.8 1088.0 189.7 1095.0 193.0C1102.0 196.3 1110.0 197.2 1113.0 198.0" fill="none" stroke="#8a8a8a" stroke-width="8.0" stroke-linecap="round" filter="url(#b3)"/>
<path d="M1004.0 30.0C1004.7 31.7 1006.7 36.3 1008.0 40.0C1009.3 43.7 1011.3 50.0 1012.0 52.0" fill="none" stroke="#555" stroke-width="6.0" stroke-linecap="round" filter="url(#b2_5)"/>
<path d="M976.0 76.0C977.5 73.3 981.3 64.0 985.0 60.0C988.7 56.0 993.8 53.7 998.0 52.0C1002.2 50.3 1008.0 50.3 1010.0 50.0" fill="none" stroke="#777" stroke-width="3.0" stroke-linecap="round" filter="url(#b1_5)"/>
<path d="M1026.0 58.0C1026.7 60.7 1028.5 68.8 1030.0 74.0C1031.5 79.2 1033.3 84.5 1035.0 89.0C1036.7 93.5 1038.5 97.8 1040.0 101.0C1041.5 104.2 1043.3 106.8 1044.0 108.0" fill="none" stroke="#4a4a4a" stroke-width="6.0" stroke-linecap="round" filter="url(#b2_5)"/>
<path d="M1048.5 9.0C1049.1 11.5 1050.8 19.3 1052.0 24.0C1053.2 28.7 1055.0 32.7 1056.0 37.0C1057.0 41.3 1057.7 47.8 1058.0 50.0" fill="none" stroke="#5a5a5a" stroke-width="6.0" stroke-linecap="round" filter="url(#b2_5)"/>
<path d="M1064.0 12.0C1065.0 14.2 1068.0 20.7 1070.0 25.0C1072.0 29.3 1074.2 34.0 1076.0 38.0C1077.8 42.0 1079.7 45.0 1081.0 49.0C1082.3 53.0 1083.5 59.8 1084.0 62.0" fill="none" stroke="#4a4a4a" stroke-width="7.0" stroke-linecap="round" filter="url(#b3)"/>
<path d="M1002.0 68.0C1002.8 70.7 1005.3 78.8 1007.0 84.0C1008.7 89.2 1010.3 93.3 1012.0 99.0C1013.7 104.7 1016.2 114.8 1017.0 118.0" fill="none" stroke="#5a5a5a" stroke-width="6.0" stroke-linecap="round" filter="url(#b2_5)"/>
<path d="M1027.0 93.0C1030.0 95.0 1038.7 101.0 1045.0 105.0C1051.3 109.0 1059.7 113.8 1065.0 117.0C1070.3 120.2 1071.2 119.7 1077.0 124.0C1082.8 128.3 1096.2 139.8 1100.0 143.0" fill="none" stroke="#606060" stroke-width="6.0" stroke-linecap="round" filter="url(#b2_5)"/>
<path d="M1075.6 92.8C1078.8 94.0 1088.9 97.5 1095.0 100.0C1101.1 102.5 1106.7 105.3 1112.0 108.0C1117.3 110.7 1124.5 114.8 1127.0 116.2" fill="none" stroke="#4a4a4a" stroke-width="6.0" stroke-linecap="round" filter="url(#b3)"/>
<path d="M1076.0 95.0C1079.2 96.2 1089.0 99.5 1095.0 102.0C1101.0 104.5 1106.5 107.3 1112.0 110.0C1117.5 112.7 1125.3 116.7 1128.0 118.0" fill="none" stroke="#222" stroke-width="1.3" stroke-linecap="round"/>
<path d="M1088.0 22.6C1089.0 27.8 1092.2 43.4 1094.3 53.8C1096.4 64.2 1099.5 79.8 1100.5 85.0" fill="none" stroke="#6a6a6a" stroke-width="7.0" stroke-linecap="round" filter="url(#b3)"/>
<path d="M1113.0 38.0C1113.8 41.7 1116.0 52.2 1118.0 60.0C1120.0 67.8 1123.8 80.8 1125.0 85.0" fill="none" stroke="#7a7a7a" stroke-width="6.0" stroke-linecap="round" filter="url(#b3)"/>
<path d="M1150.4 108.4C1152.0 110.7 1156.9 117.6 1160.0 122.0C1163.1 126.4 1167.7 132.8 1169.2 134.9" fill="none" stroke="#555" stroke-width="4.0" stroke-linecap="round" filter="url(#b2)"/>
<path d="M1062.0 121.0C1065.8 122.2 1077.8 125.3 1085.0 128.0C1092.2 130.7 1098.8 133.8 1105.0 137.0C1111.2 140.2 1119.2 145.3 1122.0 147.0" fill="none" stroke="#6a6a6a" stroke-width="6.0" stroke-linecap="round" filter="url(#b3)"/>
<path d="M1130.0 60.0C1133.3 62.0 1142.5 68.0 1150.0 72.0C1157.5 76.0 1167.0 79.3 1175.0 84.0C1183.0 88.7 1194.2 97.3 1198.0 100.0" fill="none" stroke="#aaa" stroke-width="3.0" stroke-linecap="round" filter="url(#b2)"/>
<path d="M948.2 117.8C947.9 111.5 949.3 107.0 951.5 101.5C953.7 96.0 957.2 91.1 961.3 85.1C965.4 79.1 970.8 72.0 976.0 65.5C981.2 59.0 986.7 52.1 992.4 45.8C998.1 39.5 1004.1 33.2 1010.4 27.8C1016.7 22.4 1023.2 17.0 1030.0 13.1C1036.8 9.2 1043.1 5.4 1051.3 4.3C1059.5 3.2 1070.4 5.3 1079.1 6.5C1087.8 7.7 1094.2 8.8 1103.7 11.5C1113.2 14.2 1125.5 17.7 1136.4 22.9C1147.3 28.1 1159.5 35.5 1169.1 42.6C1178.6 49.7 1186.9 57.3 1193.7 65.5C1200.5 73.7 1205.9 83.0 1210.0 91.7C1214.1 100.4 1216.8 110.4 1218.2 117.8C1219.6 125.2 1219.3 130.3 1218.2 135.8C1217.1 141.3 1215.5 146.2 1211.7 150.6C1207.9 155.0 1202.4 159.7 1195.3 162.0C1188.2 164.3 1177.5 164.5 1169.1 164.5C1160.6 164.5 1150.9 162.9 1144.6 162.0C1138.3 161.1 1132.9 157.4 1131.5 158.8C1130.1 160.2 1135.6 166.1 1136.4 170.2C1137.2 174.3 1137.8 179.5 1136.4 183.3C1135.0 187.1 1132.0 190.9 1128.2 193.1C1124.4 195.3 1119.0 196.9 1113.5 196.6C1108.0 196.3 1102.6 194.8 1095.5 191.5C1088.4 188.2 1079.1 181.7 1070.9 176.8C1062.7 171.9 1054.6 165.6 1046.4 162.0C1038.2 158.4 1031.3 157.4 1021.8 155.5C1012.2 153.6 998.6 152.0 989.1 150.6C979.6 149.2 970.5 149.2 964.5 147.3C958.5 145.4 955.8 144.0 953.1 139.1C950.4 134.2 948.5 124.1 948.2 117.8Z" fill="none" stroke="url(#rimgrad)" stroke-width="6" filter="url(#b1_5)"/>
</g>
<clipPath id="clip_medL"><path d="M481.0 1.5C488.0 1.0 499.8 1.7 510.0 3.0C520.2 4.3 531.2 6.4 542.0 9.5C552.8 12.6 564.2 16.5 575.0 21.5C585.8 26.5 598.2 33.2 607.0 39.5C615.8 45.8 621.8 51.6 628.0 59.0C634.2 66.4 639.9 75.5 644.0 84.0C648.1 92.5 650.8 102.2 652.5 110.0C654.2 117.8 655.2 124.3 654.5 131.0C653.8 137.7 651.8 144.9 648.0 150.0C644.2 155.1 638.8 159.0 632.0 161.5C625.2 164.0 615.2 164.6 607.0 165.0C598.8 165.4 589.2 163.9 583.0 164.0C576.8 164.1 571.4 163.3 569.5 165.5C567.6 167.7 571.6 173.4 571.5 177.0C571.4 180.6 570.9 183.9 569.0 187.0C567.1 190.1 563.7 193.7 560.0 195.5C556.3 197.3 551.3 198.4 547.0 198.0C542.7 197.6 539.0 195.7 534.0 193.0C529.0 190.3 523.8 186.0 517.0 182.0C510.2 178.0 502.5 173.3 493.0 169.0C483.5 164.7 471.0 159.0 460.0 156.0C449.0 153.0 436.5 152.2 427.0 151.0C417.5 149.8 409.2 150.2 403.0 149.0C396.8 147.8 393.3 147.0 389.5 144.0C385.7 141.0 381.9 135.3 380.0 131.0C378.1 126.7 377.9 123.3 378.3 118.0C378.7 112.7 380.4 105.0 382.5 99.0C384.6 93.0 388.2 87.2 391.0 82.0C393.8 76.8 396.3 72.2 399.0 68.0C401.7 63.8 403.7 61.0 407.0 57.0C410.3 53.0 414.6 48.6 419.0 44.0C423.4 39.4 429.5 32.9 433.6 29.3C437.7 25.7 440.2 24.4 443.4 22.5C446.6 20.6 448.9 20.4 453.0 17.6C457.1 14.9 463.3 8.7 468.0 6.0C472.7 3.3 474.0 2.0 481.0 1.5Z"/></clipPath>
<path id="edge_medL" d="M481.0 1.5C488.0 1.0 499.8 1.7 510.0 3.0C520.2 4.3 531.2 6.4 542.0 9.5C552.8 12.6 564.2 16.5 575.0 21.5C585.8 26.5 598.2 33.2 607.0 39.5C615.8 45.8 621.8 51.6 628.0 59.0C634.2 66.4 639.9 75.5 644.0 84.0C648.1 92.5 650.8 102.2 652.5 110.0C654.2 117.8 655.2 124.3 654.5 131.0C653.8 137.7 651.8 144.9 648.0 150.0C644.2 155.1 638.8 159.0 632.0 161.5C625.2 164.0 615.2 164.6 607.0 165.0C598.8 165.4 589.2 163.9 583.0 164.0C576.8 164.1 571.4 163.3 569.5 165.5C567.6 167.7 571.6 173.4 571.5 177.0C571.4 180.6 570.9 183.9 569.0 187.0C567.1 190.1 563.7 193.7 560.0 195.5C556.3 197.3 551.3 198.4 547.0 198.0C542.7 197.6 539.0 195.7 534.0 193.0C529.0 190.3 523.8 186.0 517.0 182.0C510.2 178.0 502.5 173.3 493.0 169.0C483.5 164.7 471.0 159.0 460.0 156.0C449.0 153.0 436.5 152.2 427.0 151.0C417.5 149.8 409.2 150.2 403.0 149.0C396.8 147.8 393.3 147.0 389.5 144.0C385.7 141.0 381.9 135.3 380.0 131.0C378.1 126.7 377.9 123.3 378.3 118.0C378.7 112.7 380.4 105.0 382.5 99.0C384.6 93.0 388.2 87.2 391.0 82.0C393.8 76.8 396.3 72.2 399.0 68.0C401.7 63.8 403.7 61.0 407.0 57.0C410.3 53.0 414.6 48.6 419.0 44.0C423.4 39.4 429.5 32.9 433.6 29.3C437.7 25.7 440.2 24.4 443.4 22.5C446.6 20.6 448.9 20.4 453.0 17.6C457.1 14.9 463.3 8.7 468.0 6.0C472.7 3.3 474.0 2.0 481.0 1.5Z" fill="none" stroke="url(#edgegrad)" stroke-width="1.2"/>
<g id="body_medL">
<path d="M481.0 1.5C488.0 1.0 499.8 1.7 510.0 3.0C520.2 4.3 531.2 6.4 542.0 9.5C552.8 12.6 564.2 16.5 575.0 21.5C585.8 26.5 598.2 33.2 607.0 39.5C615.8 45.8 621.8 51.6 628.0 59.0C634.2 66.4 639.9 75.5 644.0 84.0C648.1 92.5 650.8 102.2 652.5 110.0C654.2 117.8 655.2 124.3 654.5 131.0C653.8 137.7 651.8 144.9 648.0 150.0C644.2 155.1 638.8 159.0 632.0 161.5C625.2 164.0 615.2 164.6 607.0 165.0C598.8 165.4 589.2 163.9 583.0 164.0C576.8 164.1 571.4 163.3 569.5 165.5C567.6 167.7 571.6 173.4 571.5 177.0C571.4 180.6 570.9 183.9 569.0 187.0C567.1 190.1 563.7 193.7 560.0 195.5C556.3 197.3 551.3 198.4 547.0 198.0C542.7 197.6 539.0 195.7 534.0 193.0C529.0 190.3 523.8 186.0 517.0 182.0C510.2 178.0 502.5 173.3 493.0 169.0C483.5 164.7 471.0 159.0 460.0 156.0C449.0 153.0 436.5 152.2 427.0 151.0C417.5 149.8 409.2 150.2 403.0 149.0C396.8 147.8 393.3 147.0 389.5 144.0C385.7 141.0 381.9 135.3 380.0 131.0C378.1 126.7 377.9 123.3 378.3 118.0C378.7 112.7 380.4 105.0 382.5 99.0C384.6 93.0 388.2 87.2 391.0 82.0C393.8 76.8 396.3 72.2 399.0 68.0C401.7 63.8 403.7 61.0 407.0 57.0C410.3 53.0 414.6 48.6 419.0 44.0C423.4 39.4 429.5 32.9 433.6 29.3C437.7 25.7 440.2 24.4 443.4 22.5C446.6 20.6 448.9 20.4 453.0 17.6C457.1 14.9 463.3 8.7 468.0 6.0C472.7 3.3 474.0 2.0 481.0 1.5Z" fill="#e7e7e7"/>
<ellipse cx="535.0" cy="95.0" rx="50.0" ry="20.0" transform="rotate(12 535.0 95.0)" fill="#ffffff" filter="url(#b5)"/>
<ellipse cx="540.0" cy="68.0" rx="40.0" ry="8.0" transform="rotate(10 540.0 68.0)" fill="#ffffff" filter="url(#b5)"/>
<ellipse cx="615.0" cy="110.0" rx="16.0" ry="32.0" transform="rotate(0 615.0 110.0)" fill="#ffffff" filter="url(#b5)"/>
<ellipse cx="410.0" cy="110.0" rx="14.0" ry="22.0" transform="rotate(0 410.0 110.0)" fill="#ffffff" filter="url(#b5)"/>
<ellipse cx="440.0" cy="60.0" rx="10.0" ry="25.0" transform="rotate(-35 440.0 60.0)" fill="#ffffff" filter="url(#b5)"/>
<ellipse cx="500.0" cy="160.0" rx="30.0" ry="4.0" transform="rotate(30 500.0 160.0)" fill="#ffffff" filter="url(#b5)"/>
<ellipse cx="520.0" cy="28.0" rx="22.0" ry="10.0" transform="rotate(8 520.0 28.0)" fill="#ffffff" filter="url(#b5)"/>
<ellipse cx="590.0" cy="40.0" rx="22.0" ry="10.0" transform="rotate(30 590.0 40.0)" fill="#ffffff" filter="url(#b5)"/>
<path d="M468.2 105.1C470.4 104.0 477.8 111.9 484.6 114.9C491.4 117.9 500.9 120.6 509.1 123.1C517.3 125.5 525.5 127.1 533.7 129.6C541.9 132.1 551.9 135.1 558.2 137.8C564.5 140.5 569.1 142.7 571.3 146.0C573.5 149.3 574.8 156.1 571.3 157.5C567.8 158.9 557.6 155.8 550.0 154.2C542.4 152.5 533.7 150.3 525.5 147.6C517.3 144.9 508.3 140.8 500.9 137.8C493.5 134.8 486.2 132.3 481.3 129.6C476.4 126.9 473.7 125.6 471.5 121.5C469.3 117.4 466.0 106.2 468.2 105.1Z" fill="#5c5c5c" filter="url(#b4)"/>
<path d="M474.0 118.0C477.0 118.3 484.0 123.5 490.0 126.0C496.0 128.5 502.5 130.5 510.0 133.0C517.5 135.5 526.7 138.5 535.0 141.0C543.3 143.5 553.8 146.0 560.0 148.0C566.2 150.0 570.3 151.3 572.0 153.0C573.7 154.7 573.7 157.7 570.0 158.0C566.3 158.3 557.4 156.6 550.0 155.0C542.6 153.4 533.7 151.3 525.5 148.6C517.3 145.9 508.3 141.8 500.9 138.8C493.5 135.8 486.1 133.1 481.3 130.6C476.5 128.1 473.2 126.1 472.0 124.0C470.8 121.9 471.0 117.7 474.0 118.0Z" fill="#3e3e3e" filter="url(#b2)"/>
<path d="M482.0 22.0C485.3 18.7 494.5 15.7 500.0 16.0C505.5 16.3 512.0 20.0 515.0 24.0C518.0 28.0 519.7 36.0 518.0 40.0C516.3 44.0 510.0 47.0 505.0 48.0C500.0 49.0 492.2 48.0 488.0 46.0C483.8 44.0 481.0 40.0 480.0 36.0C479.0 32.0 478.7 25.3 482.0 22.0Z" fill="#d0d0d0" filter="url(#b5)"/>
<path d="M470.0 90.0C473.3 84.3 488.3 80.3 500.0 78.0C511.7 75.7 526.7 74.8 540.0 76.0C553.3 77.2 569.2 81.0 580.0 85.0C590.8 89.0 600.0 93.3 605.0 100.0C610.0 106.7 612.5 118.3 610.0 125.0C607.5 131.7 600.0 137.8 590.0 140.0C580.0 142.2 563.3 140.0 550.0 138.0C536.7 136.0 521.7 132.3 510.0 128.0C498.3 123.7 486.7 118.3 480.0 112.0C473.3 105.7 466.7 95.7 470.0 90.0Z" fill="#dcdcdc" filter="url(#b6)"/>
<path d="M478.2 4.3L477.5 6.1L477.7 7.5L476.9 10.1L476.1 13.1L474.5 15.6L474.3 18.1L474.0 20.2L473.4 21.9L474.4 22.8L472.6 25.2L472.5 28.5L473.4 29.3L473.9 31.5L475.2 33.2L474.5 36.6L475.2 37.2L475.9 40.0L477.5 41.5L479.6 42.7L481.8 43.4L482.2 43.3L484.8 45.1L486.1 46.3L488.1 46.7L490.0 48.8L492.5 47.6L494.2 48.0L495.6 47.4L498.6 48.2L500.8 47.1L501.2 47.7L504.9 47.6L505.9 47.8L508.2 47.3L510.0 48.0" fill="none" stroke="#bfbfbf" stroke-width="2.2"/>
<path d="M528.9 7.2L529.1 10.7L527.7 11.8L528.5 13.7L527.9 15.8L526.7 18.5L526.4 21.4L526.8 23.5L526.5 24.4L525.4 27.0L524.8 28.3L524.2 31.8L522.9 33.2L523.1 34.4L521.7 36.3L522.4 38.6L521.6 41.6L520.7 43.6L519.8 44.2L521.3 45.0L523.6 47.3L525.7 47.0L527.7 47.5L530.6 49.3L533.3 49.2L534.9 49.2L537.0 50.3L538.7 51.1L540.4 51.3L543.1 50.4L544.9 51.6L547.7 50.2L549.4 52.0L550.8 51.0L554.1 50.8L555.1 51.8L558.0 51.6L559.6 51.9L562.6 53.2L563.4 52.6L566.2 53.0L568.2 54.3L569.3 54.2L572.8 56.4L573.6 56.1L576.2 56.2L578.5 58.3L579.3 58.2L581.9 59.0L583.6 59.5L585.5 62.1L587.0 62.9L588.9 64.1L589.5 64.4L592.4 66.2L593.8 66.6L595.0 68.0" fill="none" stroke="#bfbfbf" stroke-width="2.2"/>
<path d="M594.5 31.8L594.0 34.6L593.9 35.2L594.3 37.8L594.9 40.5L595.5 41.2L595.0 44.5L595.4 46.4L595.3 48.8L595.9 49.7L594.5 51.5L593.5 53.0L592.9 56.2L592.0 58.3L591.6 60.1L591.3 61.8L589.8 62.6L590.1 65.2L591.8 65.8L592.0 68.0L593.6 69.2L595.1 72.3L597.6 73.2L598.0 75.0" fill="none" stroke="#bfbfbf" stroke-width="2.2"/>
<path d="M470.3 65.2L469.8 67.0L468.7 69.2L469.4 70.7L468.0 73.0L468.0 74.8L467.4 78.2L467.1 79.2L467.7 82.5L469.5 83.6L470.1 84.8L472.7 85.6L474.0 86.7L476.2 88.5L478.7 89.4L479.8 89.4L481.3 90.3L484.4 88.6L485.3 88.0L487.4 87.7L490.3 86.9L492.7 87.2L494.2 86.4L495.8 86.3L497.6 84.6L500.3 85.2L502.0 83.8L504.2 84.1L505.6 84.3L507.3 82.7L509.1 82.0L511.4 82.3L513.3 80.8L515.6 81.4L518.6 80.7L519.3 80.8L521.3 80.6L524.0 78.5L525.3 79.4L527.9 79.2L530.0 77.8L531.4 78.4L534.7 77.8L536.1 79.2L537.1 79.6L540.8 79.7L542.9 79.9L544.5 79.8L545.6 79.5L547.2 81.0L550.5 80.8L551.6 80.4L553.7 80.7L555.6 82.2L558.5 82.3L560.5 81.5L562.5 83.3L564.4 84.0L566.1 83.5L566.9 84.6L568.6 85.8L571.1 86.2L573.6 88.2L575.8 88.6L576.1 88.9L578.8 89.8L581.3 91.3L582.4 91.0L584.8 93.4L586.9 92.7L588.8 93.5L590.9 94.6L592.1 96.7L592.4 97.1L594.8 99.8L595.7 101.3L596.8 101.9L597.7 103.7L600.2 104.6L602.3 107.3L602.0 108.6L604.6 108.7L606.2 109.9L607.5 112.4L607.7 114.5L609.9 115.9L609.3 116.3L610.5 118.9L610.6 121.8L610.6 123.4L610.5 125.6L611.1 127.9L611.8 130.5L611.3 131.1L611.4 134.1L611.7 136.4L612.6 138.7L611.4 139.6L611.0 141.8L610.3 143.5L608.8 146.2L607.4 148.0L605.6 148.2L603.9 151.4L603.2 152.9L602.4 153.7L601.4 155.6L600.0 158.0" fill="none" stroke="#bfbfbf" stroke-width="2.2"/>
<path d="M475.1 94.3L474.7 97.9L475.2 99.0L473.2 101.5L474.0 103.2L473.8 104.5L472.4 106.3L472.5 109.3L472.6 110.7L471.7 112.2L472.3 114.9L472.3 117.7L474.3 119.0L474.9 120.4L474.9 122.6L477.0 124.8L477.9 126.4L478.0 128.0" fill="none" stroke="#bfbfbf" stroke-width="2.2"/>
<path d="M384.0 105.8L386.0 104.2L386.9 103.5L388.5 101.7L391.7 100.9L392.4 99.3L394.5 97.8L397.1 97.2L398.1 95.9L400.2 95.3L402.7 95.5L404.1 95.2L406.7 97.3L408.1 97.6L410.4 97.5L412.4 97.8L414.6 99.1L416.1 99.2L417.5 99.7L419.9 99.6L422.1 100.7L423.5 100.5L425.7 101.4L427.5 102.7L430.2 103.9L431.7 103.2L434.9 104.6L435.5 105.0L437.2 105.3L440.0 106.0" fill="none" stroke="#bfbfbf" stroke-width="2.2"/>
<path d="M405.2 144.9L406.9 144.6L409.0 142.2L409.5 141.1L410.9 141.1L413.8 139.7L415.2 138.6L417.3 136.6L418.7 135.3L419.9 134.7L421.7 133.8L423.2 133.3L425.3 134.3L427.4 132.5L430.1 132.9L432.5 132.7L433.2 132.0L436.3 131.4L437.3 131.1L440.0 130.0" fill="none" stroke="#bfbfbf" stroke-width="2.2"/>
<path d="M599.8 147.4L601.2 148.0L604.2 146.5L605.9 147.3L607.8 145.5L610.6 146.0L612.3 145.6L614.9 144.1L616.4 144.6L619.6 144.1L621.8 143.3L623.9 142.6L625.7 142.3L627.4 141.6L630.0 140.4L632.2 140.3L633.9 139.1L636.4 138.9L638.0 138.8L639.3 138.2L641.9 135.6L643.1 134.1L645.3 132.4L646.6 132.1L647.5 130.4L648.2 128.2L650.0 125.7L652.0 125.0" fill="none" stroke="#bfbfbf" stroke-width="2.2"/>
<path d="M600.9 154.5L602.4 154.7L603.9 153.9L606.5 154.1L607.8 154.7L610.3 154.4L613.1 154.0L615.0 153.0L615.9 153.8L619.0 153.0L621.5 152.3L622.6 152.4L624.2 151.6L626.9 150.7L629.0 152.1L631.0 151.5L633.0 150.2L635.0 150.6L636.8 150.6L638.8 149.1L641.8 149.8L644.0 147.9L646.1 148.0L648.0 148.0" fill="none" stroke="#bfbfbf" stroke-width="2.2"/>
<path d="M467.8 71.1L466.6 74.8L466.8 76.9L465.1 77.2L465.5 80.7L464.1 82.5L463.1 84.6L462.4 85.5L462.6 87.8L463.0 90.5L463.6 92.6L464.1 94.0L464.2 97.1L465.2 98.6L465.7 100.7L466.2 102.3L466.9 105.8L467.4 107.8L466.5 109.2L468.0 110.8L468.2 112.9L469.5 115.4L470.0 118.0" fill="none" stroke="#bfbfbf" stroke-width="2.2"/>
<path d="M489.2 88.3L492.2 86.8L494.1 86.6L497.1 85.9L498.4 85.0L501.3 84.9L502.8 84.6L504.7 83.8L507.2 84.6L509.4 84.7L511.5 85.5L512.3 85.6L515.6 85.2L517.0 84.9L519.3 85.0L520.8 85.2L523.0 85.4L525.9 85.5L526.7 86.2L528.3 86.2L531.9 86.9L533.3 87.1L536.1 88.9L537.4 89.2L538.8 89.9L541.2 89.9L543.0 89.9L545.6 90.5L547.1 91.8L549.3 91.4L551.2 93.3L553.6 93.3L555.4 93.9L556.8 94.9L560.1 94.2L561.5 95.5L563.1 96.2L565.5 97.8L568.1 98.1L569.6 97.7L570.7 98.1L573.7 98.6L575.5 100.6L576.2 101.9L579.2 102.0L579.4 103.4L581.2 106.0L584.2 106.5L585.9 108.3L587.2 109.4L588.9 111.5L590.0 112.0" fill="none" stroke="#bfbfbf" stroke-width="2.2"/>
<path d="M539.3 169.8L542.6 168.8L543.9 170.0L546.0 169.0L547.9 168.5L551.0 169.4L553.5 168.0L555.3 168.4L557.1 167.9L559.1 167.8L560.7 166.9L563.6 167.4L566.2 166.8L568.0 166.0" fill="none" stroke="#bfbfbf" stroke-width="2.2"/>
<path d="M548.8 189.9L549.3 188.1L550.7 186.8L550.6 185.0L553.2 183.8L553.5 181.0L554.7 179.4L555.2 178.3L557.6 177.5L559.6 174.8L560.3 174.1L561.8 173.1L564.2 171.5L565.0 170.0" fill="none" stroke="#bfbfbf" stroke-width="2.2"/>
<path d="M414.0 44.0C415.7 46.7 420.5 54.3 424.0 60.0C427.5 65.7 431.3 72.0 435.0 78.0C438.7 84.0 442.3 90.7 446.0 96.0C449.7 101.3 453.3 106.0 457.0 110.0C460.7 114.0 466.2 118.3 468.0 120.0" fill="none" stroke="#4c4c4c" stroke-width="8.0" stroke-linecap="round" filter="url(#b1_5)"/>
<path d="M440.0 22.0C436.3 25.3 424.7 34.7 418.0 42.0C411.3 49.3 405.3 57.7 400.0 66.0C394.7 74.3 389.3 83.3 386.0 92.0C382.7 100.7 380.3 110.3 380.0 118.0C379.7 125.7 383.3 134.7 384.0 138.0" fill="none" stroke="#a5a5a5" stroke-width="10.0" stroke-linecap="round" filter="url(#b4)"/>
<path d="M389.0 146.0C395.3 147.0 415.2 150.2 427.0 152.0C438.8 153.8 449.0 154.0 460.0 157.0C471.0 160.0 483.5 165.7 493.0 170.0C502.5 174.3 510.2 179.0 517.0 183.0C523.8 187.0 528.8 191.3 534.0 194.0C539.2 196.7 545.7 198.2 548.0 199.0" fill="none" stroke="#7a7a7a" stroke-width="8.0" stroke-linecap="round" filter="url(#b2_5)"/>
<path d="M420.0 139.0C425.0 139.1 440.8 139.2 450.0 139.5C459.2 139.8 467.0 139.2 475.0 141.0C483.0 142.8 490.5 146.0 498.0 150.0C505.5 154.0 512.2 159.7 520.0 165.0C527.8 170.3 540.8 179.2 545.0 182.0" fill="none" stroke="#8a8a8a" stroke-width="5.0" stroke-linecap="round" filter="url(#b2)"/>
<path d="M422.0 138.0C426.7 138.1 441.0 138.2 450.0 138.5C459.0 138.8 468.0 138.2 476.0 140.0C484.0 141.8 490.7 145.2 498.0 149.0C505.3 152.8 512.2 157.8 520.0 163.0C527.8 168.2 540.8 177.2 545.0 180.0" fill="none" stroke="#333" stroke-width="1.2" stroke-linecap="round"/>
<path d="M404.0 146.0C408.3 146.2 420.7 146.2 430.0 147.0C439.3 147.8 450.0 148.5 460.0 151.0C470.0 153.5 481.3 157.8 490.0 162.0C498.7 166.2 508.3 173.7 512.0 176.0" fill="none" stroke="#555" stroke-width="1.0" stroke-linecap="round"/>
<path d="M490.0 55.5C493.3 56.0 503.3 57.8 510.0 58.5C516.7 59.2 523.0 59.1 530.0 59.5C537.0 59.9 548.3 60.8 552.0 61.0" fill="none" stroke="#9a9a9a" stroke-width="2.0" stroke-linecap="round" filter="url(#b1)"/>
<path d="M575.0 164.0C580.0 164.3 595.5 166.3 605.0 166.0C614.5 165.7 624.8 164.7 632.0 162.0C639.2 159.3 645.3 152.0 648.0 150.0" fill="none" stroke="#9a9a9a" stroke-width="6.0" stroke-linecap="round" filter="url(#b2_5)"/>
<path d="M481.0 1.5C488.0 1.0 499.8 1.7 510.0 3.0C520.2 4.3 531.2 6.4 542.0 9.5C552.8 12.6 564.2 16.5 575.0 21.5C585.8 26.5 598.2 33.2 607.0 39.5C615.8 45.8 621.8 51.6 628.0 59.0C634.2 66.4 639.9 75.5 644.0 84.0C648.1 92.5 650.8 102.2 652.5 110.0C654.2 117.8 655.2 124.3 654.5 131.0C653.8 137.7 651.8 144.9 648.0 150.0C644.2 155.1 638.8 159.0 632.0 161.5C625.2 164.0 615.2 164.6 607.0 165.0C598.8 165.4 589.2 163.9 583.0 164.0C576.8 164.1 571.4 163.3 569.5 165.5C567.6 167.7 571.6 173.4 571.5 177.0C571.4 180.6 570.9 183.9 569.0 187.0C567.1 190.1 563.7 193.7 560.0 195.5C556.3 197.3 551.3 198.4 547.0 198.0C542.7 197.6 539.0 195.7 534.0 193.0C529.0 190.3 523.8 186.0 517.0 182.0C510.2 178.0 502.5 173.3 493.0 169.0C483.5 164.7 471.0 159.0 460.0 156.0C449.0 153.0 436.5 152.2 427.0 151.0C417.5 149.8 409.2 150.2 403.0 149.0C396.8 147.8 393.3 147.0 389.5 144.0C385.7 141.0 381.9 135.3 380.0 131.0C378.1 126.7 377.9 123.3 378.3 118.0C378.7 112.7 380.4 105.0 382.5 99.0C384.6 93.0 388.2 87.2 391.0 82.0C393.8 76.8 396.3 72.2 399.0 68.0C401.7 63.8 403.7 61.0 407.0 57.0C410.3 53.0 414.6 48.6 419.0 44.0C423.4 39.4 429.5 32.9 433.6 29.3C437.7 25.7 440.2 24.4 443.4 22.5C446.6 20.6 448.9 20.4 453.0 17.6C457.1 14.9 463.3 8.7 468.0 6.0C472.7 3.3 474.0 2.0 481.0 1.5Z" fill="none" stroke="url(#rimgrad)" stroke-width="6" filter="url(#b1_5)"/>
</g>
<clipPath id="clip_medR"><path d="M666.5 117.8C667.0 111.3 667.0 100.4 669.7 91.7C672.4 83.0 677.1 73.7 682.8 65.5C688.5 57.3 696.5 49.1 704.1 42.6C711.7 36.1 719.1 31.1 728.6 26.2C738.1 21.3 749.1 16.6 761.4 13.1C773.7 9.6 790.0 6.7 802.3 4.9C814.6 3.1 826.8 2.0 835.0 2.3C843.2 2.6 845.1 3.6 851.4 6.5C857.7 9.4 865.9 14.4 872.7 19.6C879.5 24.8 886.0 30.5 892.3 37.6C898.6 44.7 904.8 54.8 910.3 62.2C915.8 69.6 920.6 75.2 925.0 81.8C929.4 88.3 933.9 95.5 936.5 101.5C939.1 107.5 940.3 112.3 940.6 117.8C940.9 123.2 940.4 129.5 938.1 134.2C935.8 138.8 931.9 143.2 926.7 145.7C921.5 148.1 914.1 148.1 907.0 148.9C899.9 149.7 893.4 149.5 884.1 150.6C874.8 151.7 862.3 152.8 851.4 155.5C840.5 158.2 828.2 162.5 818.7 166.9C809.2 171.3 800.9 177.0 794.1 181.7C787.3 186.3 782.3 192.1 777.7 194.8C773.1 197.5 770.4 198.6 766.3 198.0C762.2 197.4 756.1 195.0 753.2 191.5C750.3 188.0 749.1 181.4 749.1 176.8C749.1 172.2 756.6 165.6 753.2 163.7C749.8 161.8 736.8 165.0 728.6 165.3C720.4 165.6 711.5 166.4 704.1 165.3C696.8 164.2 690.0 162.4 684.5 158.8C679.0 155.2 674.4 148.7 671.4 144.0C668.4 139.3 667.3 135.3 666.5 130.9C665.7 126.5 666.0 124.3 666.5 117.8Z"/></clipPath>
<path id="edge_medR" d="M666.5 117.8C667.0 111.3 667.0 100.4 669.7 91.7C672.4 83.0 677.1 73.7 682.8 65.5C688.5 57.3 696.5 49.1 704.1 42.6C711.7 36.1 719.1 31.1 728.6 26.2C738.1 21.3 749.1 16.6 761.4 13.1C773.7 9.6 790.0 6.7 802.3 4.9C814.6 3.1 826.8 2.0 835.0 2.3C843.2 2.6 845.1 3.6 851.4 6.5C857.7 9.4 865.9 14.4 872.7 19.6C879.5 24.8 886.0 30.5 892.3 37.6C898.6 44.7 904.8 54.8 910.3 62.2C915.8 69.6 920.6 75.2 925.0 81.8C929.4 88.3 933.9 95.5 936.5 101.5C939.1 107.5 940.3 112.3 940.6 117.8C940.9 123.2 940.4 129.5 938.1 134.2C935.8 138.8 931.9 143.2 926.7 145.7C921.5 148.1 914.1 148.1 907.0 148.9C899.9 149.7 893.4 149.5 884.1 150.6C874.8 151.7 862.3 152.8 851.4 155.5C840.5 158.2 828.2 162.5 818.7 166.9C809.2 171.3 800.9 177.0 794.1 181.7C787.3 186.3 782.3 192.1 777.7 194.8C773.1 197.5 770.4 198.6 766.3 198.0C762.2 197.4 756.1 195.0 753.2 191.5C750.3 188.0 749.1 181.4 749.1 176.8C749.1 172.2 756.6 165.6 753.2 163.7C749.8 161.8 736.8 165.0 728.6 165.3C720.4 165.6 711.5 166.4 704.1 165.3C696.8 164.2 690.0 162.4 684.5 158.8C679.0 155.2 674.4 148.7 671.4 144.0C668.4 139.3 667.3 135.3 666.5 130.9C665.7 126.5 666.0 124.3 666.5 117.8Z" fill="none" stroke="url(#edgegrad)" stroke-width="1.2"/>
<g id="body_medR">
<path d="M666.5 117.8C667.0 111.3 667.0 100.4 669.7 91.7C672.4 83.0 677.1 73.7 682.8 65.5C688.5 57.3 696.5 49.1 704.1 42.6C711.7 36.1 719.1 31.1 728.6 26.2C738.1 21.3 749.1 16.6 761.4 13.1C773.7 9.6 790.0 6.7 802.3 4.9C814.6 3.1 826.8 2.0 835.0 2.3C843.2 2.6 845.1 3.6 851.4 6.5C857.7 9.4 865.9 14.4 872.7 19.6C879.5 24.8 886.0 30.5 892.3 37.6C898.6 44.7 904.8 54.8 910.3 62.2C915.8 69.6 920.6 75.2 925.0 81.8C929.4 88.3 933.9 95.5 936.5 101.5C939.1 107.5 940.3 112.3 940.6 117.8C940.9 123.2 940.4 129.5 938.1 134.2C935.8 138.8 931.9 143.2 926.7 145.7C921.5 148.1 914.1 148.1 907.0 148.9C899.9 149.7 893.4 149.5 884.1 150.6C874.8 151.7 862.3 152.8 851.4 155.5C840.5 158.2 828.2 162.5 818.7 166.9C809.2 171.3 800.9 177.0 794.1 181.7C787.3 186.3 782.3 192.1 777.7 194.8C773.1 197.5 770.4 198.6 766.3 198.0C762.2 197.4 756.1 195.0 753.2 191.5C750.3 188.0 749.1 181.4 749.1 176.8C749.1 172.2 756.6 165.6 753.2 163.7C749.8 161.8 736.8 165.0 728.6 165.3C720.4 165.6 711.5 166.4 704.1 165.3C696.8 164.2 690.0 162.4 684.5 158.8C679.0 155.2 674.4 148.7 671.4 144.0C668.4 139.3 667.3 135.3 666.5 130.9C665.7 126.5 666.0 124.3 666.5 117.8Z" fill="#e8e8e8"/>
<ellipse cx="790.0" cy="95.0" rx="50.0" ry="20.0" transform="rotate(-10 790.0 95.0)" fill="#ffffff" filter="url(#b5)"/>
<ellipse cx="700.0" cy="110.0" rx="18.0" ry="40.0" transform="rotate(0 700.0 110.0)" fill="#ffffff" filter="url(#b5)"/>
<ellipse cx="915.0" cy="120.0" rx="14.0" ry="25.0" transform="rotate(0 915.0 120.0)" fill="#ffffff" filter="url(#b5)"/>
<ellipse cx="785.0" cy="68.0" rx="40.0" ry="8.0" transform="rotate(-8 785.0 68.0)" fill="#ffffff" filter="url(#b5)"/>
<ellipse cx="880.0" cy="60.0" rx="15.0" ry="20.0" transform="rotate(20 880.0 60.0)" fill="#ffffff" filter="url(#b5)"/>
<ellipse cx="760.0" cy="28.0" rx="25.0" ry="10.0" transform="rotate(-10 760.0 28.0)" fill="#ffffff" filter="url(#b5)"/>
<ellipse cx="860.0" cy="140.0" rx="30.0" ry="4.0" transform="rotate(-20 860.0 140.0)" fill="#ffffff" filter="url(#b5)"/>
<path d="M753.0 143.0C759.0 142.5 775.0 148.8 786.0 149.0C797.0 149.2 810.8 146.0 819.0 144.0C827.2 142.0 830.7 139.3 835.0 137.0C839.3 134.7 842.2 130.2 845.0 130.0C847.8 129.8 853.2 132.8 852.0 136.0C850.8 139.2 844.7 145.5 838.0 149.0C831.3 152.5 821.7 155.3 812.0 157.0C802.3 158.7 789.0 158.8 780.0 159.0C771.0 159.2 763.0 159.2 758.0 158.0C753.0 156.8 750.8 154.5 750.0 152.0C749.2 149.5 747.0 143.5 753.0 143.0Z" fill="#555555" filter="url(#b3)"/>
<path d="M700.0 70.0C705.8 60.8 725.0 62.0 740.0 60.0C755.0 58.0 775.0 57.2 790.0 58.0C805.0 58.8 820.0 60.5 830.0 65.0C840.0 69.5 847.5 76.7 850.0 85.0C852.5 93.3 850.0 107.5 845.0 115.0C840.0 122.5 830.8 126.7 820.0 130.0C809.2 133.3 793.3 135.0 780.0 135.0C766.7 135.0 752.5 133.3 740.0 130.0C727.5 126.7 711.7 125.0 705.0 115.0C698.3 105.0 694.2 79.2 700.0 70.0Z" fill="#dedede" filter="url(#b6)"/>
<path d="M727.2 34.7L727.5 37.5L728.2 38.3L727.2 40.3L727.2 43.4L728.7 45.1L728.7 47.1L729.4 48.3L729.4 50.1L729.2 52.7L729.2 54.3L729.0 56.3L729.4 59.8L730.3 61.0" fill="none" stroke="#bfbfbf" stroke-width="2.2"/>
<path d="M731.7 60.4L733.1 61.1L736.1 59.7L737.8 60.6L739.6 58.8L742.5 59.5L744.1 59.2L746.7 57.8L748.3 58.6L751.5 58.3L753.8 57.8L755.8 57.3L757.6 57.1L759.3 56.5L761.9 55.5L764.0 55.6L765.6 54.6L768.1 54.6L769.7 54.6L770.9 54.0L774.1 52.4L775.8 51.9L778.6 51.2L780.4 52.0L781.9 51.2L783.0 50.0L785.4 48.6L787.9 50.0L789.7 48.6L792.7 48.1L793.9 48.2L795.5 49.1L798.4 47.9L800.2 48.8L801.7 47.7L803.8 47.6L806.7 48.4L809.0 49.4L809.6 48.9L812.8 49.2L814.4 49.3L816.1 48.5L818.9 50.3L821.1 49.7L822.2 49.6L825.1 50.3L827.7 50.7L829.4 50.6L831.4 50.9L832.8 51.9L835.0 51.2" fill="none" stroke="#bfbfbf" stroke-width="2.2"/>
<path d="M693.5 72.0L694.8 71.7L696.0 70.4L698.4 70.0L699.5 70.1L701.8 69.3L704.4 68.4L706.0 66.9L706.8 67.2L709.5 65.8L711.9 64.7L712.7 64.2L714.1 62.9L716.6 61.6L718.4 62.6L720.2 61.6L722.4 60.6L724.6 61.4L726.6 61.8L728.8 60.6L731.9 61.0" fill="none" stroke="#bfbfbf" stroke-width="2.2"/>
<path d="M687.5 71.6L686.6 75.5L687.1 77.8L685.6 78.3L686.3 82.0L685.2 84.0L684.6 86.2L684.1 87.3L684.6 89.8L684.3 92.4L684.2 94.3L684.0 95.6L683.4 98.6L683.7 100.0L683.5 101.9L683.3 103.4L683.3 106.8L683.0 108.6L681.2 109.8L682.3 111.3L682.1 113.2L683.1 115.6L683.5 118.4L684.1 120.9L683.2 121.4L683.4 124.0L685.1 126.6L684.9 128.6L685.3 130.0L686.3 130.4L688.6 132.9L689.5 132.4L691.9 133.9L692.8 136.0L694.5 136.0L696.9 136.9L698.1 138.3L699.7 139.5L702.8 141.1L704.1 141.1L705.8 142.2L707.7 143.5L710.9 144.0L711.5 145.0L714.0 144.1L715.7 145.0L717.2 147.0L720.5 146.5L722.6 147.9L724.5 147.1L726.9 148.3L728.4 149.2L730.4 148.9L731.2 150.0L733.5 151.0L736.6 151.9L738.2 151.5L739.5 151.9L742.4 153.3L744.4 153.6L745.5 156.2L746.7 155.9L749.8 157.6L750.9 159.3L753.0 160.0" fill="none" stroke="#bfbfbf" stroke-width="2.2"/>
<path d="M717.2 112.3L719.2 109.6L720.1 108.2L722.0 106.3L722.2 104.1L724.1 102.9L724.6 101.3L725.4 99.3L727.1 98.1L728.4 96.3L730.3 95.9L731.0 94.8L734.2 93.2L735.4 91.7L737.5 90.6L738.9 89.6L740.9 88.6L743.7 87.5L744.2 86.7L745.6 85.2L748.9 84.4L750.1 83.1L752.6 83.4L754.0 82.9L755.3 82.8L757.8 82.0L759.5 81.1L762.1 81.0L763.5 81.5L765.8 80.2L767.7 81.1L770.3 80.3L772.2 79.9L773.8 80.0L777.3 78.4L778.8 78.8L780.5 78.5L783.0 79.2L785.8 78.5L787.5 77.6L788.6 77.5L791.8 77.4L793.7 78.9L794.8 78.9L798.2 77.7L798.8 77.9L801.1 79.2L804.4 78.4L806.5 78.9L808.2 78.7L810.4 79.6L812.1 78.3L813.1 79.0L815.6 79.0L818.3 78.7L820.4 79.7L821.9 81.4L824.2 81.6L824.8 82.8L827.7 84.1L828.8 84.6L831.9 85.6L833.9 86.6L835.1 86.9L838.0 87.4L838.6 87.9L841.3 88.4L843.7 90.1L843.6 91.1L845.2 94.5L845.1 95.1L847.0 97.7L848.5 98.8L848.5 101.9L850.6 103.4L851.4 105.6L849.3 106.9L849.1 109.5L849.2 110.4L846.6 112.1L847.5 114.7L845.0 117.0L844.3 117.7L843.8 120.5L843.0 122.0" fill="none" stroke="#bfbfbf" stroke-width="2.2"/>
<path d="M717.3 111.8L718.2 113.1L716.9 116.6L716.5 117.8L716.0 119.7L716.6 122.9L716.6 123.7L715.9 126.4L715.3 128.3L714.7 130.5L715.8 131.4L718.3 133.6L720.3 134.8L721.8 135.3L723.3 136.7L725.4 138.4L726.7 140.6L728.1 141.0L729.5 142.9L732.4 144.1L734.3 144.6L735.6 143.9L737.4 145.5L740.3 146.1L741.5 146.7L744.0 147.7L745.6 147.7L748.0 148.0" fill="none" stroke="#bfbfbf" stroke-width="2.2"/>
<path d="M798.2 8.5L799.2 10.0L801.1 12.1L801.5 13.6L804.2 16.2L804.6 17.1L806.0 19.1L806.7 21.7L808.9 24.2L809.6 24.9L809.1 27.6L809.3 30.0L810.4 31.7L810.2 33.5L810.8 35.6L809.4 38.4L810.0 40.5L810.9 42.4L811.6 44.4L812.2 47.5L812.1 49.5" fill="none" stroke="#bfbfbf" stroke-width="2.2"/>
<path d="M845.7 5.7L845.8 6.8L846.2 8.6L846.2 10.5L847.0 13.4L848.0 14.5L847.0 17.7L848.1 19.7L848.4 20.5L847.6 23.0L848.4 25.3L847.3 27.9L847.3 29.1L846.7 31.1L845.3 34.0L845.3 34.9L845.9 38.0L845.4 39.7L845.1 41.5L844.3 44.5L844.5 45.4L843.4 48.8L843.7 49.3L842.6 51.7L841.1 54.0L842.1 56.4L842.1 58.3L840.9 59.8L840.2 62.3L839.4 64.9L841.9 64.6L843.6 66.8L844.1 67.7L846.4 69.0L848.4 70.2L849.5 71.9L851.7 72.8L852.8 75.0L854.0 75.2L855.2 77.8L856.2 79.0L857.8 80.6L859.4 83.0L861.5 84.0L860.9 85.3L861.7 89.0L861.4 89.7L862.2 92.6L862.6 93.8L861.9 97.3L862.9 98.4L863.1 101.7L863.6 103.1L862.6 105.4L862.5 106.4L861.4 108.5L861.9 112.0L862.0 112.7L860.1 115.2L860.7 117.0L859.9 119.0L859.3 120.8L858.7 123.7L858.9 125.6L857.6 128.2L858.0 129.7" fill="none" stroke="#bfbfbf" stroke-width="2.2"/>
<path d="M826.5 77.0L829.0 76.3L830.6 74.9L832.5 74.3L833.5 73.2L834.7 70.7L837.4 70.8L838.9 69.1L840.0 67.5" fill="none" stroke="#bfbfbf" stroke-width="2.2"/>
<path d="M668.1 132.9L670.9 133.7L673.0 133.2L675.5 133.0L677.3 134.0L678.4 134.7L681.5 133.3L683.8 134.6L685.6 133.5L688.0 135.4L690.1 135.4L691.3 136.3L692.7 137.6L694.3 138.6L695.8 140.1L697.1 142.2L700.0 142.8L701.3 144.0L702.9 144.5L704.1 146.1" fill="none" stroke="#bfbfbf" stroke-width="2.2"/>
<path d="M672.0 150.3L673.7 151.1L675.6 151.5L677.4 152.3L680.2 151.7L682.1 152.8L683.6 153.2L686.2 153.5L687.7 154.1L690.3 153.8L691.2 153.8L693.5 154.2L696.7 154.1L698.4 155.2L699.6 155.7L701.8 155.2L704.4 156.3L706.6 156.2L708.3 157.2L710.8 156.4L712.2 156.7L713.5 156.8L716.8 157.6L718.1 158.7L721.1 159.2L721.9 158.0L723.8 158.8L727.1 159.9L728.9 160.2L730.9 159.3L731.9 159.5L734.1 160.8L736.9 161.0L738.8 161.4L741.1 161.6L742.7 161.5L744.1 162.4L746.9 161.3L749.5 161.5L750.7 161.7L753.2 162.5" fill="none" stroke="#bfbfbf" stroke-width="2.2"/>
<path d="M900.0 52.5L900.3 55.5L899.9 57.1L898.3 59.5L898.3 61.2L897.3 63.2L896.0 64.8L896.3 66.7L895.4 69.1L893.3 69.7L893.7 73.1L892.7 74.7L892.2 76.0L891.6 78.5L891.2 80.4L888.7 82.2L889.4 84.3L887.8 85.5L887.2 88.4L887.0 90.5L885.3 91.6L885.9 93.4L885.3 95.6L883.9 97.8L883.0 99.9L882.5 101.8L880.9 102.7L880.1 105.6L883.6 105.0L885.3 104.1L887.2 103.2L888.8 103.6L891.1 102.0L892.5 101.4L894.8 100.4L896.8 99.7L898.1 99.7L901.2 99.1L902.9 99.0L904.0 97.5L906.4 98.3L908.3 97.8L910.3 98.1L912.3 98.6L914.2 98.8L917.2 100.5L918.8 99.9L921.7 100.3L922.6 102.4L925.3 103.1L927.7 102.9L929.8 103.6L930.8 104.9L933.2 105.2" fill="none" stroke="#bfbfbf" stroke-width="2.2"/>
<path d="M850.7 129.5L852.5 128.6L855.7 128.6L857.3 127.8L860.3 128.4L861.6 127.7L863.1 127.4L866.2 126.3L867.1 126.5L869.1 125.9L871.4 124.8L873.6 125.8L876.0 124.3L877.2 123.7L880.9 124.5L882.2 123.7L884.7 122.5L886.2 125.0L887.0 126.0L888.7 127.1L890.2 127.5L893.2 128.7L893.5 130.0L895.6 131.1L896.4 132.5L898.8 133.1L901.4 134.5L902.2 137.2L904.3 138.3L906.2 139.1L907.2 140.1L908.7 141.2" fill="none" stroke="#bfbfbf" stroke-width="2.2"/>
<path d="M768.8 168.2L771.3 169.9L772.9 171.4L774.0 172.4L774.8 175.2L775.9 176.4L777.4 177.9L778.8 180.7L779.4 181.9L781.3 184.7L781.5 186.2L782.9 188.0L784.7 189.7L785.2 192.1L785.9 193.6" fill="none" stroke="#bfbfbf" stroke-width="2.2"/>
<path d="M900.5 52.8C898.2 56.5 891.4 67.6 887.0 75.0C882.6 82.4 878.5 90.3 874.3 97.0C870.1 103.7 865.8 110.1 862.0 115.0C858.2 119.9 853.2 124.6 851.4 126.5" fill="none" stroke="#888" stroke-width="6.0" stroke-linecap="round" filter="url(#b2_5)"/>
<path d="M875.0 100.0C878.3 100.7 888.0 102.7 895.0 104.0C902.0 105.3 913.3 107.3 917.0 108.0" fill="none" stroke="#8a8a8a" stroke-width="6.0" stroke-linecap="round" filter="url(#b3)"/>
<path d="M753.0 190.0C757.0 191.2 770.2 198.3 777.0 197.0C783.8 195.7 787.0 187.0 794.0 182.0C801.0 177.0 809.5 171.3 819.0 167.0C828.5 162.7 840.2 158.7 851.0 156.0C861.8 153.3 874.7 152.2 884.0 151.0C893.3 149.8 903.2 149.3 907.0 149.0" fill="none" stroke="#8a8a8a" stroke-width="7.0" stroke-linecap="round" filter="url(#b2_5)"/>
<path d="M671.0 144.0C673.3 146.5 679.5 155.5 685.0 159.0C690.5 162.5 696.7 164.0 704.0 165.0C711.3 166.0 724.8 165.0 729.0 165.0" fill="none" stroke="#a0a0a0" stroke-width="8.0" stroke-linecap="round" filter="url(#b3)"/>
<path d="M720.0 70.0C726.7 68.7 746.7 64.0 760.0 62.0C773.3 60.0 788.3 58.3 800.0 58.0C811.7 57.7 825.0 59.7 830.0 60.0" fill="none" stroke="#a0a0a0" stroke-width="2.0" stroke-linecap="round" filter="url(#b1)"/>
<path d="M840.0 150.0C843.3 149.3 852.5 147.3 860.0 146.0C867.5 144.7 876.7 143.0 885.0 142.0C893.3 141.0 905.8 140.3 910.0 140.0" fill="none" stroke="#555" stroke-width="1.1" stroke-linecap="round"/>
<path d="M770.0 170.0C774.2 168.3 786.7 163.3 795.0 160.0C803.3 156.7 811.7 152.8 820.0 150.0C828.3 147.2 840.8 144.2 845.0 143.0" fill="none" stroke="#999" stroke-width="4.0" stroke-linecap="round" filter="url(#b2)"/>
<path d="M900.0 40.0C902.5 43.7 910.0 54.5 915.0 62.0C920.0 69.5 926.2 77.0 930.0 85.0C933.8 93.0 936.7 105.8 938.0 110.0" fill="none" stroke="#a8a8a8" stroke-width="8.0" stroke-linecap="round" filter="url(#b4)"/>
<path d="M666.5 117.8C667.0 111.3 667.0 100.4 669.7 91.7C672.4 83.0 677.1 73.7 682.8 65.5C688.5 57.3 696.5 49.1 704.1 42.6C711.7 36.1 719.1 31.1 728.6 26.2C738.1 21.3 749.1 16.6 761.4 13.1C773.7 9.6 790.0 6.7 802.3 4.9C814.6 3.1 826.8 2.0 835.0 2.3C843.2 2.6 845.1 3.6 851.4 6.5C857.7 9.4 865.9 14.4 872.7 19.6C879.5 24.8 886.0 30.5 892.3 37.6C898.6 44.7 904.8 54.8 910.3 62.2C915.8 69.6 920.6 75.2 925.0 81.8C929.4 88.3 933.9 95.5 936.5 101.5C939.1 107.5 940.3 112.3 940.6 117.8C940.9 123.2 940.4 129.5 938.1 134.2C935.8 138.8 931.9 143.2 926.7 145.7C921.5 148.1 914.1 148.1 907.0 148.9C899.9 149.7 893.4 149.5 884.1 150.6C874.8 151.7 862.3 152.8 851.4 155.5C840.5 158.2 828.2 162.5 818.7 166.9C809.2 171.3 800.9 177.0 794.1 181.7C787.3 186.3 782.3 192.1 777.7 194.8C773.1 197.5 770.4 198.6 766.3 198.0C762.2 197.4 756.1 195.0 753.2 191.5C750.3 188.0 749.1 181.4 749.1 176.8C749.1 172.2 756.6 165.6 753.2 163.7C749.8 161.8 736.8 165.0 728.6 165.3C720.4 165.6 711.5 166.4 704.1 165.3C696.8 164.2 690.0 162.4 684.5 158.8C679.0 155.2 674.4 148.7 671.4 144.0C668.4 139.3 667.3 135.3 666.5 130.9C665.7 126.5 666.0 124.3 666.5 117.8Z" fill="none" stroke="url(#rimgrad)" stroke-width="6" filter="url(#b1_5)"/>
</g></defs>
<g transform="translate(0 0.0)">
<g clip-path="url(#clip_latL)">
<use href="#body_latL"/>
<use href="#bt0" transform="matrix(9.00 0 0 9.00 194.0 46.0)" fill="#3f981b"/>
<use href="#bt3" transform="matrix(3.00 0 0 3.00 188.3 40.9)" fill="#ea671d"/>
<use href="#bt6" transform="matrix(5.00 0 0 5.00 163.7 68.7)" fill="#3b80e4"/>
<use href="#bt9" transform="matrix(3.00 0 0 3.00 153.9 75.3)" fill="#3f981b"/>
<use href="#bt12" transform="matrix(5.00 0 0 5.00 119.5 85.1)" fill="#3b80e4"/>
<use href="#bt15" transform="matrix(4.00 0 0 4.00 119.5 95.0)" fill="#3b80e4"/>
<use href="#bt2" transform="matrix(5.00 0 0 5.00 173.6 81.8)" fill="#3f981b"/>
<use href="#bt5" transform="matrix(4.00 0 0 4.00 203.0 76.9)" fill="#3b80e4"/>
<use href="#bt8" transform="matrix(4.00 0 0 4.00 196.5 85.1)" fill="#ea671d"/>
<use href="#bt11" transform="matrix(3.00 0 0 3.00 181.7 95.0)" fill="#ea671d"/>
<use href="#bt14" transform="matrix(4.00 0 0 4.00 145.7 96.6)" fill="#3f981b"/>
<use href="#bt1" transform="matrix(8.00 0 0 8.00 142.5 111.3)" fill="#3b80e4"/>
<use href="#bt4" transform="matrix(4.00 0 0 4.00 139.2 126.0)" fill="#ea671d"/>
<use href="#bt7" transform="matrix(4.00 0 0 4.00 265.2 72.0)" fill="#3b80e4"/>
<use href="#bt10" transform="matrix(4.00 0 0 4.00 294.7 54.0)" fill="#3b80e4"/>
<use href="#bt13" transform="matrix(7.00 0 0 7.00 337.2 70.4)" fill="#3f981b"/>
<use href="#bt0" transform="matrix(7.00 0 0 7.00 302.9 91.7)" fill="#ea671d"/>
<use href="#bt3" transform="matrix(6.00 0 0 6.00 324.1 91.7)" fill="#3f981b"/>
<use href="#bt6" transform="matrix(5.00 0 0 5.00 324.1 103.1)" fill="#3f981b"/>
<use href="#bt9" transform="matrix(7.00 0 0 7.00 309.4 114.6)" fill="#3f981b"/>
<use href="#bt12" transform="matrix(7.00 0 0 7.00 242.3 122.7)" fill="#3f981b"/>
<use href="#bt15" transform="matrix(6.00 0 0 6.00 258.7 127.7)" fill="#3f981b"/>
<use href="#bt2" transform="matrix(4.00 0 0 4.00 250.5 116.2)" fill="#3b80e4"/>
<use href="#bt5" transform="matrix(6.00 0 0 6.00 275.0 129.3)" fill="#3f981b"/>
<use href="#bt8" transform="matrix(8.00 0 0 8.00 206.3 139.1)" fill="#3f981b"/>
<use href="#bt11" transform="matrix(9.00 0 0 9.00 225.9 139.1)" fill="#3b80e4"/>
<use href="#bt14" transform="matrix(8.00 0 0 8.00 306.1 147.3)" fill="#3b80e4"/>
<use href="#bt1" transform="matrix(5.00 0 0 5.00 260.3 145.7)" fill="#3f981b"/>
<use href="#bt4" transform="matrix(4.00 0 0 4.00 247.2 148.9)" fill="#ea671d"/>
<use href="#bt7" transform="matrix(4.00 0 0 4.00 196.5 147.3)" fill="#3b80e4"/>
<use href="#bt10" transform="matrix(4.00 0 0 4.00 194.8 176.8)" fill="#3f981b"/>
<use href="#bt13" transform="matrix(3.00 0 0 3.00 201.4 175.1)" fill="#ea671d"/>
<use href="#bt0" transform="matrix(3.00 0 0 3.00 340.5 130.9)" fill="#ea671d"/>
<use href="#bt3" transform="matrix(3.00 0 0 3.00 355.2 111.3)" fill="#3f981b"/>
<use href="#bt6" transform="matrix(3.00 0 0 3.00 286.5 108.0)" fill="#3b80e4"/>
<use href="#bt9" transform="matrix(3.00 0 0 3.00 168.6 50.7)" fill="#3f981b"/>
<use href="#bt12" transform="matrix(3.00 0 0 3.00 232.0 18.0)" fill="#3f981b"/>
<use href="#bt15" transform="matrix(2.00 0 0 2.00 248.0 16.0)" fill="#3b80e4"/>
</g>
<use href="#edge_latL"/>
</g>
<g transform="translate(0 0.0)">
<g clip-path="url(#clip_medL)">
<use href="#body_medL"/>
<use href="#bt7" transform="matrix(5.00 0 0 5.00 525.5 14.7)" fill="#3f981b"/>
<use href="#bt10" transform="matrix(7.00 0 0 7.00 543.5 27.8)" fill="#3b80e4"/>
<use href="#bt13" transform="matrix(3.50 0 0 3.50 569.7 34.4)" fill="#3b80e4"/>
<use href="#bt0" transform="matrix(3.00 0 0 3.00 546.0 45.0)" fill="#3b80e4"/>
<use href="#bt3" transform="matrix(5.00 0 0 5.00 476.4 156.3)" fill="#3f981b"/>
<use href="#bt6" transform="matrix(4.00 0 0 4.00 499.3 164.5)" fill="#3f981b"/>
<use href="#bt9" transform="matrix(3.00 0 0 3.00 567.2 171.8)" fill="#3b80e4"/>
<use href="#bt12" transform="matrix(2.50 0 0 2.50 564.8 167.0)" fill="#3f981b"/>
</g>
<use href="#edge_medL"/>
</g>
<g transform="translate(0 0.0)">
<g clip-path="url(#clip_medR)">
<use href="#body_medR"/>
<use href="#bt14" transform="matrix(6.00 0 0 6.00 800.7 26.2)" fill="#3f981b"/>
<use href="#bt1" transform="matrix(2.50 0 0 2.50 806.4 28.6)" fill="#ea671d"/>
<use href="#bt4" transform="matrix(3.00 0 0 3.00 816.2 29.5)" fill="#ea671d"/>
<use href="#bt7" transform="matrix(4.00 0 0 4.00 748.3 38.5)" fill="#3f981b"/>
<use href="#bt10" transform="matrix(4.00 0 0 4.00 767.1 46.6)" fill="#3f981b"/>
<use href="#bt13" transform="matrix(4.00 0 0 4.00 803.1 42.6)" fill="#3b80e4"/>
<use href="#bt0" transform="matrix(3.00 0 0 3.00 789.2 10.6)" fill="#3f981b"/>
<use href="#bt3" transform="matrix(3.00 0 0 3.00 862.9 142.4)" fill="#3b80e4"/>
<use href="#bt6" transform="matrix(4.00 0 0 4.00 833.4 148.1)" fill="#3f981b"/>
<use href="#bt9" transform="matrix(5.00 0 0 5.00 859.6 153.0)" fill="#3b80e4"/>
<use href="#bt12" transform="matrix(3.00 0 0 3.00 872.7 146.5)" fill="#3f981b"/>
<use href="#bt15" transform="matrix(4.00 0 0 4.00 753.2 181.7)" fill="#3b80e4"/>
<use href="#bt2" transform="matrix(2.50 0 0 2.50 767.9 186.6)" fill="#ea671d"/>
<use href="#bt5" transform="matrix(5.00 0 0 5.00 787.6 188.2)" fill="#3b80e4"/>
<use href="#bt8" transform="matrix(3.00 0 0 3.00 799.0 178.4)" fill="#ea671d"/>
<use href="#bt11" transform="matrix(2.50 0 0 2.50 759.7 159.6)" fill="#3b80e4"/>
</g>
<use href="#edge_medR"/>
</g>
<g transform="translate(0 0.0)">
<g clip-path="url(#clip_latR)">
<use href="#body_latR"/>
<use href="#bt5" transform="matrix(4.00 0 0 4.00 1072.6 10.6)" fill="#3f981b"/>
<use href="#bt8" transform="matrix(4.00 0 0 4.00 1022.7 40.1)" fill="#3b80e4"/>
<use href="#bt11" transform="matrix(3.00 0 0 3.00 1047.2 34.4)" fill="#3f981b"/>
<use href="#bt14" transform="matrix(3.00 0 0 3.00 1003.0 48.3)" fill="#3f981b"/>
<use href="#bt1" transform="matrix(6.00 0 0 6.00 1083.2 31.1)" fill="#3f981b"/>
<use href="#bt4" transform="matrix(3.00 0 0 3.00 1088.9 21.3)" fill="#3f981b"/>
<use href="#bt7" transform="matrix(3.00 0 0 3.00 1093.8 27.8)" fill="#3b80e4"/>
<use href="#bt10" transform="matrix(2.50 0 0 2.50 1103.7 35.2)" fill="#ea671d"/>
<use href="#bt13" transform="matrix(6.00 0 0 6.00 1136.4 47.5)" fill="#3b80e4"/>
<use href="#bt0" transform="matrix(3.00 0 0 3.00 1133.1 47.5)" fill="#ea671d"/>
<use href="#bt3" transform="matrix(3.00 0 0 3.00 1098.8 54.0)" fill="#ea671d"/>
<use href="#bt6" transform="matrix(5.00 0 0 5.00 1164.2 56.5)" fill="#ea671d"/>
<use href="#bt9" transform="matrix(2.00 0 0 2.00 1151.1 60.6)" fill="#3b80e4"/>
<use href="#bt12" transform="matrix(6.00 0 0 6.00 1138.0 64.6)" fill="#3f981b"/>
<use href="#bt15" transform="matrix(6.00 0 0 6.00 1120.0 68.7)" fill="#3b80e4"/>
<use href="#bt2" transform="matrix(6.00 0 0 6.00 1118.4 83.5)" fill="#3b80e4"/>
<use href="#bt5" transform="matrix(5.00 0 0 5.00 1134.8 75.3)" fill="#3b80e4"/>
<use href="#bt8" transform="matrix(4.00 0 0 4.00 1143.0 72.0)" fill="#3f981b"/>
<use href="#bt11" transform="matrix(4.00 0 0 4.00 1172.4 75.3)" fill="#3f981b"/>
<use href="#bt14" transform="matrix(2.00 0 0 2.00 1187.1 73.6)" fill="#ea671d"/>
<use href="#bt1" transform="matrix(4.00 0 0 4.00 1200.2 83.5)" fill="#3b80e4"/>
<use href="#bt4" transform="matrix(3.00 0 0 3.00 1192.0 93.3)" fill="#3b80e4"/>
<use href="#bt7" transform="matrix(8.00 0 0 8.00 1018.6 60.6)" fill="#3f981b"/>
<use href="#bt10" transform="matrix(4.00 0 0 4.00 1038.2 57.3)" fill="#3b80e4"/>
<use href="#bt13" transform="matrix(3.00 0 0 3.00 1031.7 75.3)" fill="#3f981b"/>
<use href="#bt0" transform="matrix(3.00 0 0 3.00 1051.3 69.6)" fill="#ea671d"/>
<use href="#bt3" transform="matrix(4.00 0 0 4.00 1057.8 67.9)" fill="#3b80e4"/>
<use href="#bt6" transform="matrix(3.00 0 0 3.00 1049.7 78.6)" fill="#3b80e4"/>
<use href="#bt9" transform="matrix(12.00 0 0 12.00 994.0 94.9)" fill="#3f981b"/>
<use href="#bt12" transform="matrix(5.00 0 0 5.00 1008.7 93.3)" fill="#3b80e4"/>
<use href="#bt15" transform="matrix(5.00 0 0 5.00 1002.2 112.1)" fill="#3f981b"/>
<use href="#bt2" transform="matrix(4.00 0 0 4.00 956.4 101.5)" fill="#3b80e4"/>
<use href="#bt5" transform="matrix(4.00 0 0 4.00 953.1 114.6)" fill="#3b80e4"/>
<use href="#bt8" transform="matrix(4.00 0 0 4.00 962.9 117.8)" fill="#3b80e4"/>
<use href="#bt11" transform="matrix(2.50 0 0 2.50 977.6 73.6)" fill="#3f981b"/>
<use href="#bt14" transform="matrix(3.00 0 0 3.00 1031.7 130.1)" fill="#3f981b"/>
<use href="#bt1" transform="matrix(4.00 0 0 4.00 1073.4 117.0)" fill="#3f981b"/>
<use href="#bt4" transform="matrix(3.00 0 0 3.00 1052.9 120.3)" fill="#3b80e4"/>
<use href="#bt7" transform="matrix(4.00 0 0 4.00 1069.3 124.4)" fill="#3b80e4"/>
<use href="#bt10" transform="matrix(4.00 0 0 4.00 1087.3 126.0)" fill="#3b80e4"/>
<use href="#bt13" transform="matrix(5.00 0 0 5.00 1054.6 143.2)" fill="#ea671d"/>
<use href="#bt0" transform="matrix(3.00 0 0 3.00 1064.4 139.1)" fill="#3f981b"/>
<use href="#bt3" transform="matrix(3.00 0 0 3.00 1072.6 149.8)" fill="#3f981b"/>
<use href="#bt6" transform="matrix(3.00 0 0 3.00 1088.9 144.0)" fill="#3b80e4"/>
<use href="#bt9" transform="matrix(3.00 0 0 3.00 1099.6 139.1)" fill="#3f981b"/>
<use href="#bt12" transform="matrix(6.00 0 0 6.00 1111.8 150.6)" fill="#3f981b"/>
<use href="#bt15" transform="matrix(4.00 0 0 4.00 1124.9 153.8)" fill="#3f981b"/>
<use href="#bt2" transform="matrix(4.00 0 0 4.00 1103.7 160.4)" fill="#3f981b"/>
<use href="#bt5" transform="matrix(3.00 0 0 3.00 1106.9 167.8)" fill="#3b80e4"/>
<use href="#bt8" transform="matrix(5.00 0 0 5.00 1118.4 170.2)" fill="#3f981b"/>
<use href="#bt11" transform="matrix(5.00 0 0 5.00 1129.9 176.8)" fill="#3f981b"/>
<use href="#bt14" transform="matrix(5.00 0 0 5.00 1136.4 104.7)" fill="#3f981b"/>
<use href="#bt1" transform="matrix(5.00 0 0 5.00 1143.0 106.4)" fill="#3f981b"/>
<use href="#bt4" transform="matrix(3.00 0 0 3.00 1162.6 118.7)" fill="#3b80e4"/>
<use href="#bt7" transform="matrix(2.00 0 0 2.00 1187.1 109.7)" fill="#ea671d"/>
<use href="#bt10" transform="matrix(3.00 0 0 3.00 1185.5 114.6)" fill="#3b80e4"/>
<use href="#bt13" transform="matrix(5.00 0 0 5.00 1190.4 121.1)" fill="#ea671d"/>
<use href="#bt0" transform="matrix(4.00 0 0 4.00 1203.5 121.1)" fill="#ea671d"/>
<use href="#bt3" transform="matrix(3.00 0 0 3.00 1200.2 140.8)" fill="#3b80e4"/>
<use href="#bt6" transform="matrix(3.00 0 0 3.00 1197.0 98.2)" fill="#3b80e4"/>
</g>
<use href="#edge_latR"/>
</g>
<g transform="translate(0 210.2)">
<g clip-path="url(#clip_latL)">
<use href="#body_latL"/>
<use href="#bt12" transform="matrix(9.00 0 0 9.00 178.5 45.5)" fill="#ea671d"/>
<use href="#bt15" transform="matrix(4.00 0 0 4.00 183.4 32.4)" fill="#ea671d"/>
<use href="#bt2" transform="matrix(5.00 0 0 5.00 150.6 69.3)" fill="#ea671d"/>
<use href="#bt5" transform="matrix(4.00 0 0 4.00 121.2 75.0)" fill="#ea671d"/>
<use href="#bt8" transform="matrix(2.50 0 0 2.50 155.5 57.0)" fill="#ea671d"/>
<use href="#bt11" transform="matrix(3.00 0 0 3.00 174.8 79.1)" fill="#3b80e4"/>
<use href="#bt14" transform="matrix(3.00 0 0 3.00 178.8 79.1)" fill="#3f981b"/>
<use href="#bt1" transform="matrix(5.00 0 0 5.00 229.2 31.6)" fill="#3b80e4"/>
<use href="#bt4" transform="matrix(2.50 0 0 2.50 234.9 27.5)" fill="#3f981b"/>
<use href="#bt7" transform="matrix(2.00 0 0 2.00 229.2 19.3)" fill="#ea671d"/>
<use href="#bt10" transform="matrix(2.00 0 0 2.00 249.6 21.8)" fill="#ea671d"/>
<use href="#bt13" transform="matrix(6.00 0 0 6.00 211.2 73.3)" fill="#ea671d"/>
<use href="#bt0" transform="matrix(3.00 0 0 3.00 193.2 89.7)" fill="#3f981b"/>
<use href="#bt3" transform="matrix(3.00 0 0 3.00 196.5 97.9)" fill="#3f981b"/>
<use href="#bt6" transform="matrix(4.00 0 0 4.00 186.6 109.3)" fill="#ea671d"/>
<use href="#bt9" transform="matrix(2.00 0 0 2.00 160.5 99.5)" fill="#3f981b"/>
<use href="#bt12" transform="matrix(2.00 0 0 2.00 163.7 112.6)" fill="#3f981b"/>
<use href="#bt15" transform="matrix(4.00 0 0 4.00 122.0 119.2)" fill="#ea671d"/>
<use href="#bt2" transform="matrix(7.00 0 0 7.00 137.5 122.4)" fill="#ea671d"/>
<use href="#bt5" transform="matrix(2.00 0 0 2.00 157.2 127.3)" fill="#3b80e4"/>
<use href="#bt8" transform="matrix(2.50 0 0 2.50 247.2 54.5)" fill="#ea671d"/>
<use href="#bt11" transform="matrix(6.00 0 0 6.00 261.9 73.3)" fill="#3f981b"/>
<use href="#bt14" transform="matrix(3.00 0 0 3.00 258.6 70.1)" fill="#3b80e4"/>
<use href="#bt1" transform="matrix(6.00 0 0 6.00 288.1 57.0)" fill="#3f981b"/>
<use href="#bt4" transform="matrix(10.00 0 0 10.00 294.6 71.7)" fill="#ea671d"/>
<use href="#bt7" transform="matrix(7.00 0 0 7.00 286.5 91.3)" fill="#ea671d"/>
<use href="#bt10" transform="matrix(3.00 0 0 3.00 309.4 68.4)" fill="#ea671d"/>
<use href="#bt13" transform="matrix(8.00 0 0 8.00 338.8 70.1)" fill="#3b80e4"/>
<use href="#bt0" transform="matrix(3.00 0 0 3.00 335.5 79.9)" fill="#ea671d"/>
<use href="#bt3" transform="matrix(3.00 0 0 3.00 348.6 88.1)" fill="#3f981b"/>
<use href="#bt6" transform="matrix(6.00 0 0 6.00 325.7 101.2)" fill="#3f981b"/>
<use href="#bt9" transform="matrix(7.00 0 0 7.00 297.9 109.3)" fill="#3b80e4"/>
<use href="#bt12" transform="matrix(4.00 0 0 4.00 304.5 114.3)" fill="#3f981b"/>
<use href="#bt15" transform="matrix(6.00 0 0 6.00 358.5 111.0)" fill="#ea671d"/>
<use href="#bt2" transform="matrix(7.00 0 0 7.00 355.2 124.1)" fill="#ea671d"/>
<use href="#bt5" transform="matrix(5.00 0 0 5.00 325.7 129.0)" fill="#3f981b"/>
<use href="#bt8" transform="matrix(3.00 0 0 3.00 319.2 137.2)" fill="#ea671d"/>
<use href="#bt11" transform="matrix(4.00 0 0 4.00 327.4 145.3)" fill="#ea671d"/>
<use href="#bt14" transform="matrix(5.00 0 0 5.00 249.6 116.7)" fill="#3f981b"/>
<use href="#bt1" transform="matrix(2.00 0 0 2.00 245.5 120.8)" fill="#3b80e4"/>
<use href="#bt4" transform="matrix(2.00 0 0 2.00 247.2 91.3)" fill="#ea671d"/>
<use href="#bt7" transform="matrix(6.00 0 0 6.00 247.2 143.7)" fill="#3b80e4"/>
<use href="#bt10" transform="matrix(3.00 0 0 3.00 240.6 145.3)" fill="#ea671d"/>
<use href="#bt13" transform="matrix(3.00 0 0 3.00 258.6 150.3)" fill="#3b80e4"/>
<use href="#bt0" transform="matrix(2.00 0 0 2.00 273.4 148.6)" fill="#3b80e4"/>
<use href="#bt3" transform="matrix(4.00 0 0 4.00 225.9 152.7)" fill="#3f981b"/>
<use href="#bt6" transform="matrix(3.00 0 0 3.00 196.5 147.0)" fill="#3f981b"/>
<use href="#bt9" transform="matrix(2.00 0 0 2.00 207.9 154.3)" fill="#3f981b"/>
<use href="#bt12" transform="matrix(3.00 0 0 3.00 212.8 165.0)" fill="#ea671d"/>
<use href="#bt15" transform="matrix(2.00 0 0 2.00 220.2 163.3)" fill="#3b80e4"/>
<use href="#bt2" transform="matrix(2.00 0 0 2.00 237.4 159.3)" fill="#3f981b"/>
<use href="#bt5" transform="matrix(2.00 0 0 2.00 191.5 169.9)" fill="#3b80e4"/>
<use href="#bt8" transform="matrix(2.00 0 0 2.00 272.5 111.8)" fill="#3b80e4"/>
</g>
<use href="#edge_latL"/>
</g>
<g transform="translate(0 211.2)">
<g clip-path="url(#clip_medL)">
<use href="#body_medL"/>
<use href="#bt3" transform="matrix(4.00 0 0 4.00 528.8 15.1)" fill="#ea671d"/>
<use href="#bt6" transform="matrix(7.00 0 0 7.00 538.6 28.2)" fill="#ea671d"/>
<use href="#bt9" transform="matrix(3.00 0 0 3.00 544.3 41.3)" fill="#ea671d"/>
<use href="#bt12" transform="matrix(2.50 0 0 2.50 573.8 50.3)" fill="#ea671d"/>
<use href="#bt15" transform="matrix(6.00 0 0 6.00 460.0 146.0)" fill="#ea671d"/>
<use href="#bt2" transform="matrix(1.50 0 0 1.50 437.1 149.3)" fill="#ea671d"/>
<use href="#bt5" transform="matrix(3.00 0 0 3.00 384.7 110.8)" fill="#3f981b"/>
<use href="#bt8" transform="matrix(2.00 0 0 2.00 391.3 88.7)" fill="#3b80e4"/>
<use href="#bt11" transform="matrix(2.00 0 0 2.00 497.7 165.6)" fill="#3b80e4"/>
<use href="#bt14" transform="matrix(2.00 0 0 2.00 487.0 164.0)" fill="#ea671d"/>
</g>
<use href="#edge_medL"/>
</g>
<g transform="translate(0 206.2)">
<g clip-path="url(#clip_medR)">
<use href="#body_medR"/>
<use href="#bt10" transform="matrix(5.00 0 0 5.00 736.8 30.7)" fill="#ea671d"/>
<use href="#bt13" transform="matrix(6.00 0 0 6.00 787.6 27.4)" fill="#ea671d"/>
<use href="#bt0" transform="matrix(3.00 0 0 3.00 772.8 14.3)" fill="#3f981b"/>
<use href="#bt3" transform="matrix(1.50 0 0 1.50 781.8 15.2)" fill="#3f981b"/>
<use href="#bt6" transform="matrix(2.50 0 0 2.50 802.3 30.7)" fill="#3f981b"/>
<use href="#bt9" transform="matrix(2.00 0 0 2.00 816.2 40.5)" fill="#ea671d"/>
<use href="#bt12" transform="matrix(1.20 0 0 1.20 806.4 43.0)" fill="#ea671d"/>
<use href="#bt15" transform="matrix(6.00 0 0 6.00 753.2 173.9)" fill="#ea671d"/>
<use href="#bt2" transform="matrix(3.00 0 0 3.00 872.7 147.7)" fill="#ea671d"/>
<use href="#bt5" transform="matrix(2.50 0 0 2.50 887.4 152.6)" fill="#ea671d"/>
<use href="#bt8" transform="matrix(2.00 0 0 2.00 895.6 146.1)" fill="#3f981b"/>
<use href="#bt11" transform="matrix(2.00 0 0 2.00 797.4 180.5)" fill="#ea671d"/>
<use href="#bt14" transform="matrix(1.50 0 0 1.50 810.5 174.7)" fill="#3b80e4"/>
</g>
<use href="#edge_medR"/>
</g>
<g transform="translate(0 208.9)">
<g clip-path="url(#clip_latR)">
<use href="#body_latR"/>
<use href="#bt1" transform="matrix(3.00 0 0 3.00 994.8 47.7)" fill="#3b80e4"/>
<use href="#bt4" transform="matrix(3.00 0 0 3.00 1010.4 53.4)" fill="#3b80e4"/>
<use href="#bt7" transform="matrix(4.00 0 0 4.00 1007.1 63.2)" fill="#ea671d"/>
<use href="#bt10" transform="matrix(3.00 0 0 3.00 1000.6 63.2)" fill="#ea671d"/>
<use href="#bt13" transform="matrix(10.00 0 0 10.00 1020.2 92.7)" fill="#ea671d"/>
<use href="#bt0" transform="matrix(5.00 0 0 5.00 1031.7 114.8)" fill="#3f981b"/>
<use href="#bt3" transform="matrix(4.00 0 0 4.00 1035.7 124.6)" fill="#3f981b"/>
<use href="#bt6" transform="matrix(5.00 0 0 5.00 1046.4 75.5)" fill="#ea671d"/>
<use href="#bt9" transform="matrix(6.00 0 0 6.00 1061.1 79.6)" fill="#ea671d"/>
<use href="#bt12" transform="matrix(4.00 0 0 4.00 1031.7 71.4)" fill="#3f981b"/>
<use href="#bt15" transform="matrix(5.00 0 0 5.00 971.1 99.2)" fill="#3b80e4"/>
<use href="#bt2" transform="matrix(2.50 0 0 2.50 961.3 91.8)" fill="#ea671d"/>
<use href="#bt5" transform="matrix(3.00 0 0 3.00 984.2 94.3)" fill="#ea671d"/>
<use href="#bt8" transform="matrix(2.00 0 0 2.00 997.3 90.2)" fill="#3f981b"/>
<use href="#bt11" transform="matrix(2.00 0 0 2.00 1007.1 100.8)" fill="#ea671d"/>
<use href="#bt14" transform="matrix(3.00 0 0 3.00 995.6 121.3)" fill="#ea671d"/>
<use href="#bt1" transform="matrix(4.00 0 0 4.00 1007.1 122.9)" fill="#3f981b"/>
<use href="#bt4" transform="matrix(2.50 0 0 2.50 991.6 128.7)" fill="#3f981b"/>
<use href="#bt7" transform="matrix(3.00 0 0 3.00 977.6 136.9)" fill="#3b80e4"/>
<use href="#bt10" transform="matrix(1.50 0 0 1.50 966.2 141.8)" fill="#3f981b"/>
<use href="#bt13" transform="matrix(6.00 0 0 6.00 1069.3 133.6)" fill="#ea671d"/>
<use href="#bt0" transform="matrix(2.00 0 0 2.00 1040.7 135.2)" fill="#3b80e4"/>
<use href="#bt3" transform="matrix(1.50 0 0 1.50 1071.8 116.4)" fill="#3b80e4"/>
<use href="#bt6" transform="matrix(3.00 0 0 3.00 1052.9 106.6)" fill="#3f981b"/>
<use href="#bt9" transform="matrix(8.00 0 0 8.00 1108.6 148.3)" fill="#ea671d"/>
<use href="#bt12" transform="matrix(5.00 0 0 5.00 1103.7 154.9)" fill="#ea671d"/>
<use href="#bt15" transform="matrix(2.50 0 0 2.50 1096.3 166.3)" fill="#3f981b"/>
<use href="#bt2" transform="matrix(5.00 0 0 5.00 1070.9 18.2)" fill="#ea671d"/>
<use href="#bt5" transform="matrix(2.50 0 0 2.50 1064.4 14.9)" fill="#ea671d"/>
<use href="#bt8" transform="matrix(2.00 0 0 2.00 1090.6 22.3)" fill="#ea671d"/>
<use href="#bt11" transform="matrix(7.00 0 0 7.00 1089.8 46.8)" fill="#ea671d"/>
<use href="#bt14" transform="matrix(4.00 0 0 4.00 1121.7 38.7)" fill="#ea671d"/>
<use href="#bt1" transform="matrix(2.00 0 0 2.00 1143.0 35.4)" fill="#ea671d"/>
<use href="#bt4" transform="matrix(3.50 0 0 3.50 1154.4 59.9)" fill="#3b80e4"/>
<use href="#bt7" transform="matrix(3.50 0 0 3.50 1126.6 66.5)" fill="#3f981b"/>
<use href="#bt10" transform="matrix(7.00 0 0 7.00 1149.5 87.8)" fill="#ea671d"/>
<use href="#bt13" transform="matrix(2.50 0 0 2.50 1138.9 85.3)" fill="#3f981b"/>
<use href="#bt0" transform="matrix(2.50 0 0 2.50 1144.6 94.3)" fill="#3f981b"/>
<use href="#bt3" transform="matrix(3.00 0 0 3.00 1128.2 100.8)" fill="#ea671d"/>
<use href="#bt6" transform="matrix(3.00 0 0 3.00 1154.4 102.5)" fill="#ea671d"/>
<use href="#bt9" transform="matrix(3.50 0 0 3.50 1177.3 77.9)" fill="#ea671d"/>
<use href="#bt12" transform="matrix(2.50 0 0 2.50 1197.0 77.9)" fill="#ea671d"/>
<use href="#bt15" transform="matrix(2.00 0 0 2.00 1201.9 83.7)" fill="#3b80e4"/>
<use href="#bt2" transform="matrix(2.00 0 0 2.00 1185.5 89.4)" fill="#ea671d"/>
<use href="#bt5" transform="matrix(7.00 0 0 7.00 1188.8 113.9)" fill="#ea671d"/>
<use href="#bt8" transform="matrix(2.50 0 0 2.50 1195.3 122.1)" fill="#3b80e4"/>
<use href="#bt11" transform="matrix(3.50 0 0 3.50 1162.6 118.9)" fill="#3f981b"/>
<use href="#bt14" transform="matrix(2.00 0 0 2.00 1173.2 109.0)" fill="#3f981b"/>
<use href="#bt1" transform="matrix(2.00 0 0 2.00 1120.0 86.9)" fill="#ea671d"/>
<use href="#bt4" transform="matrix(1.50 0 0 1.50 1118.4 92.7)" fill="#ea671d"/>
<use href="#bt7" transform="matrix(3.00 0 0 3.00 1106.9 10.8)" fill="#3f981b"/>
<use href="#bt10" transform="matrix(2.00 0 0 2.00 1085.7 9.2)" fill="#3b80e4"/>
<use href="#bt13" transform="matrix(2.00 0 0 2.00 1061.1 5.9)" fill="#ea671d"/>
</g>
<use href="#edge_latR"/>
</g>
<g transform="translate(0 433.9)">
<g clip-path="url(#clip_latL)">
<use href="#body_latL"/>
<use href="#bt8" transform="matrix(4.00 0 0 4.00 190.9 33.5)" fill="#3b80e4"/>
<use href="#bt11" transform="matrix(3.00 0 0 3.00 194.1 39.1)" fill="#ea671d"/>
<use href="#bt14" transform="matrix(3.00 0 0 3.00 206.9 35.9)" fill="#3b80e4"/>
<use href="#bt1" transform="matrix(5.00 0 0 5.00 224.5 29.5)" fill="#3f981b"/>
<use href="#bt4" transform="matrix(3.00 0 0 3.00 227.7 10.3)" fill="#3f981b"/>
<use href="#bt7" transform="matrix(5.00 0 0 5.00 162.1 58.2)" fill="#3b80e4"/>
<use href="#bt10" transform="matrix(3.00 0 0 3.00 192.5 58.2)" fill="#3f981b"/>
<use href="#bt13" transform="matrix(3.00 0 0 3.00 130.2 70.2)" fill="#3f981b"/>
<use href="#bt0" transform="matrix(5.00 0 0 5.00 155.7 85.4)" fill="#3b80e4"/>
<use href="#bt3" transform="matrix(2.50 0 0 2.50 166.9 82.2)" fill="#ea671d"/>
<use href="#bt6" transform="matrix(5.00 0 0 5.00 168.5 91.8)" fill="#3f981b"/>
<use href="#bt9" transform="matrix(3.00 0 0 3.00 135.0 107.8)" fill="#ea671d"/>
<use href="#bt12" transform="matrix(6.00 0 0 6.00 150.9 119.0)" fill="#ea671d"/>
<use href="#bt15" transform="matrix(2.50 0 0 2.50 127.0 117.4)" fill="#3b80e4"/>
<use href="#bt2" transform="matrix(2.50 0 0 2.50 210.1 48.6)" fill="#3b80e4"/>
<use href="#bt5" transform="matrix(2.50 0 0 2.50 240.4 58.2)" fill="#3f981b"/>
<use href="#bt8" transform="matrix(5.00 0 0 5.00 256.4 75.0)" fill="#3b80e4"/>
<use href="#bt11" transform="matrix(5.00 0 0 5.00 273.2 79.0)" fill="#ea671d"/>
<use href="#bt14" transform="matrix(4.00 0 0 4.00 242.0 88.6)" fill="#ea671d"/>
<use href="#bt1" transform="matrix(3.00 0 0 3.00 278.8 91.0)" fill="#ea671d"/>
<use href="#bt4" transform="matrix(2.50 0 0 2.50 264.4 62.2)" fill="#3b80e4"/>
<use href="#bt7" transform="matrix(5.00 0 0 5.00 291.6 45.4)" fill="#3b80e4"/>
<use href="#bt10" transform="matrix(5.00 0 0 5.00 275.6 101.4)" fill="#3f981b"/>
<use href="#bt13" transform="matrix(7.00 0 0 7.00 282.0 112.6)" fill="#3f981b"/>
<use href="#bt0" transform="matrix(4.00 0 0 4.00 296.4 114.2)" fill="#3f981b"/>
<use href="#bt3" transform="matrix(9.00 0 0 9.00 254.8 117.4)" fill="#3b80e4"/>
<use href="#bt6" transform="matrix(3.00 0 0 3.00 237.2 122.2)" fill="#3f981b"/>
<use href="#bt9" transform="matrix(2.50 0 0 2.50 253.2 131.8)" fill="#3f981b"/>
<use href="#bt12" transform="matrix(3.00 0 0 3.00 291.6 91.8)" fill="#3f981b"/>
<use href="#bt15" transform="matrix(3.00 0 0 3.00 304.4 101.4)" fill="#3f981b"/>
<use href="#bt2" transform="matrix(3.00 0 0 3.00 286.8 134.9)" fill="#3b80e4"/>
<use href="#bt5" transform="matrix(10.00 0 0 10.00 326.7 127.0)" fill="#3b80e4"/>
<use href="#bt8" transform="matrix(9.00 0 0 9.00 344.3 125.4)" fill="#3b80e4"/>
<use href="#bt11" transform="matrix(5.00 0 0 5.00 328.3 139.7)" fill="#3b80e4"/>
<use href="#bt14" transform="matrix(7.00 0 0 7.00 342.7 71.0)" fill="#3f981b"/>
<use href="#bt1" transform="matrix(3.00 0 0 3.00 353.9 117.4)" fill="#3f981b"/>
<use href="#bt4" transform="matrix(2.00 0 0 2.00 323.5 77.4)" fill="#ea671d"/>
<use href="#bt7" transform="matrix(6.00 0 0 6.00 197.3 176.5)" fill="#3b80e4"/>
<use href="#bt10" transform="matrix(2.50 0 0 2.50 216.5 149.3)" fill="#3b80e4"/>
<use href="#bt13" transform="matrix(2.00 0 0 2.00 222.9 157.3)" fill="#ea671d"/>
<use href="#bt0" transform="matrix(3.00 0 0 3.00 299.6 149.3)" fill="#3f981b"/>
</g>
<use href="#edge_latL"/>
</g>
<g transform="translate(0 438.2)">
<g clip-path="url(#clip_medL)">
<use href="#body_medL"/>
<use href="#bt15" transform="matrix(7.00 0 0 7.00 548.4 36.0)" fill="#3f981b"/>
<use href="#bt2" transform="matrix(3.00 0 0 3.00 532.0 27.0)" fill="#3f981b"/>
<use href="#bt5" transform="matrix(2.50 0 0 2.50 515.7 21.3)" fill="#3f981b"/>
<use href="#bt8" transform="matrix(3.00 0 0 3.00 532.0 8.2)" fill="#3f981b"/>
<use href="#bt11" transform="matrix(1.50 0 0 1.50 566.4 18.0)" fill="#3b80e4"/>
<use href="#bt14" transform="matrix(5.00 0 0 5.00 463.3 144.0)" fill="#3f981b"/>
<use href="#bt1" transform="matrix(4.00 0 0 4.00 440.4 145.6)" fill="#3f981b"/>
<use href="#bt4" transform="matrix(2.50 0 0 2.50 419.1 145.6)" fill="#3b80e4"/>
<use href="#bt7" transform="matrix(2.50 0 0 2.50 489.5 148.9)" fill="#ea671d"/>
<use href="#bt10" transform="matrix(5.00 0 0 5.00 564.8 173.5)" fill="#3b80e4"/>
<use href="#bt13" transform="matrix(1.50 0 0 1.50 554.9 166.9)" fill="#ea671d"/>
<use href="#bt0" transform="matrix(2.00 0 0 2.00 535.3 180.0)" fill="#3b80e4"/>
<use href="#bt3" transform="matrix(2.00 0 0 2.00 532.0 186.6)" fill="#ea671d"/>
<use href="#bt6" transform="matrix(2.00 0 0 2.00 389.6 90.0)" fill="#3b80e4"/>
</g>
<use href="#edge_medL"/>
</g>
<g transform="translate(0 437.1)">
<g clip-path="url(#clip_medR)">
<use href="#body_medR"/>
<use href="#bt6" transform="matrix(5.00 0 0 5.00 764.7 17.4)" fill="#3b80e4"/>
<use href="#bt9" transform="matrix(4.00 0 0 4.00 745.0 42.0)" fill="#3f981b"/>
<use href="#bt12" transform="matrix(3.00 0 0 3.00 756.5 44.5)" fill="#3f981b"/>
<use href="#bt15" transform="matrix(2.50 0 0 2.50 763.0 46.1)" fill="#3f981b"/>
<use href="#bt2" transform="matrix(3.00 0 0 3.00 781.0 42.8)" fill="#ea671d"/>
<use href="#bt5" transform="matrix(3.50 0 0 3.50 825.2 158.2)" fill="#3b80e4"/>
<use href="#bt8" transform="matrix(3.50 0 0 3.50 835.0 159.8)" fill="#3f981b"/>
<use href="#bt11" transform="matrix(1.50 0 0 1.50 853.9 148.4)" fill="#ea671d"/>
<use href="#bt14" transform="matrix(4.00 0 0 4.00 758.1 169.7)" fill="#3f981b"/>
<use href="#bt1" transform="matrix(2.50 0 0 2.50 766.3 181.1)" fill="#3f981b"/>
<use href="#bt4" transform="matrix(3.50 0 0 3.50 779.4 186.0)" fill="#3f981b"/>
</g>
<use href="#edge_medR"/>
</g>
<g transform="translate(0 436.8)">
<g clip-path="url(#clip_latR)">
<use href="#body_latR"/>
<use href="#bt13" transform="matrix(7.00 0 0 7.00 1020.2 43.1)" fill="#3f981b"/>
<use href="#bt0" transform="matrix(4.00 0 0 4.00 982.6 58.7)" fill="#3f981b"/>
<use href="#bt3" transform="matrix(5.00 0 0 5.00 967.8 84.9)" fill="#3b80e4"/>
<use href="#bt6" transform="matrix(10.00 0 0 10.00 982.6 102.9)" fill="#ea671d"/>
<use href="#bt9" transform="matrix(5.00 0 0 5.00 989.1 117.6)" fill="#3f981b"/>
<use href="#bt12" transform="matrix(3.00 0 0 3.00 985.0 86.5)" fill="#3f981b"/>
<use href="#bt15" transform="matrix(4.00 0 0 4.00 962.1 101.2)" fill="#3b80e4"/>
<use href="#bt2" transform="matrix(5.00 0 0 5.00 976.0 143.8)" fill="#3f981b"/>
<use href="#bt5" transform="matrix(3.00 0 0 3.00 989.9 135.6)" fill="#3f981b"/>
<use href="#bt8" transform="matrix(2.00 0 0 2.00 1046.4 34.9)" fill="#3b80e4"/>
<use href="#bt11" transform="matrix(2.50 0 0 2.50 1052.9 48.0)" fill="#3b80e4"/>
<use href="#bt14" transform="matrix(2.00 0 0 2.00 1060.3 50.5)" fill="#ea671d"/>
<use href="#bt1" transform="matrix(4.00 0 0 4.00 1020.2 75.9)" fill="#ea671d"/>
<use href="#bt4" transform="matrix(4.50 0 0 4.50 1047.2 76.7)" fill="#3f981b"/>
<use href="#bt7" transform="matrix(4.00 0 0 4.00 1081.6 78.3)" fill="#ea671d"/>
<use href="#bt10" transform="matrix(5.00 0 0 5.00 1040.7 97.9)" fill="#3b80e4"/>
<use href="#bt13" transform="matrix(3.00 0 0 3.00 1056.2 106.1)" fill="#3b80e4"/>
<use href="#bt0" transform="matrix(3.00 0 0 3.00 1070.9 106.1)" fill="#3b80e4"/>
<use href="#bt3" transform="matrix(3.50 0 0 3.50 1025.1 125.8)" fill="#3b80e4"/>
<use href="#bt6" transform="matrix(6.00 0 0 6.00 1043.1 130.7)" fill="#3f981b"/>
<use href="#bt9" transform="matrix(7.00 0 0 7.00 1072.6 129.0)" fill="#3f981b"/>
<use href="#bt12" transform="matrix(10.00 0 0 10.00 1087.3 148.7)" fill="#3b80e4"/>
<use href="#bt15" transform="matrix(4.00 0 0 4.00 1100.4 163.4)" fill="#ea671d"/>
<use href="#bt2" transform="matrix(4.00 0 0 4.00 1106.9 161.8)" fill="#3f981b"/>
<use href="#bt5" transform="matrix(2.50 0 0 2.50 1118.4 155.2)" fill="#3f981b"/>
<use href="#bt8" transform="matrix(3.00 0 0 3.00 1133.1 178.1)" fill="#ea671d"/>
<use href="#bt11" transform="matrix(3.00 0 0 3.00 1033.3 155.2)" fill="#3b80e4"/>
<use href="#bt14" transform="matrix(2.00 0 0 2.00 1082.4 28.4)" fill="#ea671d"/>
<use href="#bt1" transform="matrix(3.00 0 0 3.00 1106.9 34.1)" fill="#ea671d"/>
<use href="#bt4" transform="matrix(5.00 0 0 5.00 1121.7 39.8)" fill="#3b80e4"/>
<use href="#bt7" transform="matrix(4.00 0 0 4.00 1108.6 43.9)" fill="#3f981b"/>
<use href="#bt10" transform="matrix(3.50 0 0 3.50 1143.0 42.3)" fill="#3f981b"/>
<use href="#bt13" transform="matrix(3.00 0 0 3.00 1129.9 16.9)" fill="#3b80e4"/>
<use href="#bt0" transform="matrix(8.00 0 0 8.00 1133.1 60.3)" fill="#ea671d"/>
<use href="#bt3" transform="matrix(5.00 0 0 5.00 1147.9 75.9)" fill="#3f981b"/>
<use href="#bt6" transform="matrix(2.00 0 0 2.00 1158.5 73.4)" fill="#3f981b"/>
<use href="#bt9" transform="matrix(5.00 0 0 5.00 1154.4 95.5)" fill="#3f981b"/>
<use href="#bt12" transform="matrix(5.00 0 0 5.00 1134.8 104.5)" fill="#ea671d"/>
<use href="#bt15" transform="matrix(7.00 0 0 7.00 1144.6 107.8)" fill="#3f981b"/>
<use href="#bt2" transform="matrix(9.00 0 0 9.00 1174.0 119.2)" fill="#3b80e4"/>
<use href="#bt5" transform="matrix(4.00 0 0 4.00 1188.0 97.9)" fill="#3b80e4"/>
<use href="#bt8" transform="matrix(3.00 0 0 3.00 1195.3 109.4)" fill="#3f981b"/>
<use href="#bt11" transform="matrix(2.00 0 0 2.00 1191.2 106.1)" fill="#3b80e4"/>
<use href="#bt14" transform="matrix(2.00 0 0 2.00 1203.5 87.3)" fill="#3f981b"/>
<use href="#bt1" transform="matrix(2.00 0 0 2.00 1162.6 84.0)" fill="#3f981b"/>
<use href="#bt4" transform="matrix(2.00 0 0 2.00 1057.8 115.1)" fill="#ea671d"/>
<use href="#bt7" transform="matrix(2.00 0 0 2.00 1048.0 119.2)" fill="#3b80e4"/>
</g>
<use href="#edge_latR"/>
</g>
<g transform="translate(0 643.8)">
<g clip-path="url(#clip_latL)">
<use href="#body_latL"/>
<use href="#bt4" transform="matrix(5.00 0 0 5.00 219.4 11.7)" fill="#3f981b"/>
<use href="#bt7" transform="matrix(4.00 0 0 4.00 191.5 35.5)" fill="#3b80e4"/>
<use href="#bt10" transform="matrix(6.00 0 0 6.00 193.2 45.3)" fill="#3b80e4"/>
<use href="#bt13" transform="matrix(5.00 0 0 5.00 209.5 48.6)" fill="#3f981b"/>
<use href="#bt0" transform="matrix(8.00 0 0 8.00 160.5 56.7)" fill="#3b80e4"/>
<use href="#bt3" transform="matrix(4.00 0 0 4.00 171.9 56.7)" fill="#3f981b"/>
<use href="#bt6" transform="matrix(2.00 0 0 2.00 170.3 45.3)" fill="#ea671d"/>
<use href="#bt9" transform="matrix(1.50 0 0 1.50 168.6 38.7)" fill="#ea671d"/>
<use href="#bt12" transform="matrix(4.00 0 0 4.00 180.1 68.2)" fill="#3f981b"/>
<use href="#bt15" transform="matrix(5.00 0 0 5.00 171.1 79.7)" fill="#ea671d"/>
<use href="#bt2" transform="matrix(11.00 0 0 11.00 201.4 76.4)" fill="#3f981b"/>
<use href="#bt5" transform="matrix(5.00 0 0 5.00 152.3 79.7)" fill="#3b80e4"/>
<use href="#bt8" transform="matrix(6.00 0 0 6.00 149.0 89.5)" fill="#3f981b"/>
<use href="#bt11" transform="matrix(5.00 0 0 5.00 126.1 78.0)" fill="#3b80e4"/>
<use href="#bt14" transform="matrix(4.00 0 0 4.00 132.6 92.7)" fill="#3b80e4"/>
<use href="#bt1" transform="matrix(3.00 0 0 3.00 134.3 102.6)" fill="#ea671d"/>
<use href="#bt4" transform="matrix(6.00 0 0 6.00 119.5 112.4)" fill="#3f981b"/>
<use href="#bt7" transform="matrix(7.00 0 0 7.00 145.7 109.1)" fill="#3f981b"/>
<use href="#bt10" transform="matrix(5.00 0 0 5.00 163.7 107.5)" fill="#3f981b"/>
<use href="#bt13" transform="matrix(4.00 0 0 4.00 173.5 110.8)" fill="#3f981b"/>
<use href="#bt0" transform="matrix(3.00 0 0 3.00 183.4 110.8)" fill="#ea671d"/>
<use href="#bt3" transform="matrix(4.00 0 0 4.00 135.9 125.5)" fill="#3f981b"/>
<use href="#bt6" transform="matrix(5.00 0 0 5.00 255.4 71.5)" fill="#3f981b"/>
<use href="#bt9" transform="matrix(4.00 0 0 4.00 252.1 87.8)" fill="#3f981b"/>
<use href="#bt12" transform="matrix(5.00 0 0 5.00 270.1 87.8)" fill="#ea671d"/>
<use href="#bt15" transform="matrix(3.00 0 0 3.00 258.6 97.7)" fill="#3b80e4"/>
<use href="#bt2" transform="matrix(4.00 0 0 4.00 266.8 104.2)" fill="#3b80e4"/>
<use href="#bt5" transform="matrix(3.00 0 0 3.00 276.6 73.1)" fill="#3b80e4"/>
<use href="#bt8" transform="matrix(4.00 0 0 4.00 276.6 35.5)" fill="#3b80e4"/>
<use href="#bt11" transform="matrix(5.00 0 0 5.00 271.7 43.7)" fill="#ea671d"/>
<use href="#bt14" transform="matrix(3.00 0 0 3.00 275.0 53.5)" fill="#3f981b"/>
<use href="#bt1" transform="matrix(11.00 0 0 11.00 293.0 97.7)" fill="#3b80e4"/>
<use href="#bt4" transform="matrix(10.00 0 0 10.00 289.7 115.7)" fill="#3f981b"/>
<use href="#bt7" transform="matrix(4.00 0 0 4.00 281.6 92.7)" fill="#3f981b"/>
<use href="#bt10" transform="matrix(5.00 0 0 5.00 275.0 120.6)" fill="#3b80e4"/>
<use href="#bt13" transform="matrix(3.00 0 0 3.00 296.3 128.7)" fill="#3b80e4"/>
<use href="#bt0" transform="matrix(7.00 0 0 7.00 312.6 73.1)" fill="#3f981b"/>
<use href="#bt3" transform="matrix(5.00 0 0 5.00 327.4 69.8)" fill="#3b80e4"/>
<use href="#bt6" transform="matrix(6.00 0 0 6.00 327.4 81.3)" fill="#ea671d"/>
<use href="#bt9" transform="matrix(3.00 0 0 3.00 297.9 73.1)" fill="#3b80e4"/>
<use href="#bt12" transform="matrix(2.50 0 0 2.50 302.8 60.0)" fill="#3f981b"/>
<use href="#bt15" transform="matrix(9.00 0 0 9.00 333.9 125.5)" fill="#3f981b"/>
<use href="#bt2" transform="matrix(6.00 0 0 6.00 358.5 125.5)" fill="#3b80e4"/>
<use href="#bt5" transform="matrix(5.00 0 0 5.00 365.0 130.4)" fill="#3f981b"/>
<use href="#bt8" transform="matrix(3.00 0 0 3.00 366.6 107.5)" fill="#3b80e4"/>
<use href="#bt11" transform="matrix(8.00 0 0 8.00 335.5 145.1)" fill="#3f981b"/>
<use href="#bt14" transform="matrix(6.00 0 0 6.00 312.6 145.1)" fill="#3b80e4"/>
<use href="#bt1" transform="matrix(4.00 0 0 4.00 248.8 136.9)" fill="#3f981b"/>
<use href="#bt4" transform="matrix(3.00 0 0 3.00 266.8 133.7)" fill="#3f981b"/>
<use href="#bt7" transform="matrix(3.00 0 0 3.00 260.3 118.9)" fill="#3f981b"/>
<use href="#bt10" transform="matrix(6.00 0 0 6.00 217.7 138.6)" fill="#3b80e4"/>
<use href="#bt13" transform="matrix(6.00 0 0 6.00 209.5 146.7)" fill="#3f981b"/>
<use href="#bt0" transform="matrix(6.00 0 0 6.00 217.7 159.8)" fill="#ea671d"/>
<use href="#bt3" transform="matrix(2.50 0 0 2.50 227.5 161.5)" fill="#ea671d"/>
<use href="#bt6" transform="matrix(7.00 0 0 7.00 193.2 176.2)" fill="#3b80e4"/>
<use href="#bt9" transform="matrix(4.00 0 0 4.00 201.4 169.7)" fill="#3b80e4"/>
<use href="#bt12" transform="matrix(3.00 0 0 3.00 283.2 159.8)" fill="#3f981b"/>
<use href="#bt15" transform="matrix(1.50 0 0 1.50 114.6 81.3)" fill="#3f981b"/>
</g>
<use href="#edge_latL"/>
</g>
<g transform="translate(0 645.4)">
<g clip-path="url(#clip_medL)">
<use href="#body_medL"/>
<use href="#bt11" transform="matrix(12.00 0 0 12.00 558.2 37.2)" fill="#3f981b"/>
<use href="#bt14" transform="matrix(3.50 0 0 3.50 528.8 14.2)" fill="#3b80e4"/>
<use href="#bt1" transform="matrix(3.00 0 0 3.00 520.6 19.1)" fill="#3f981b"/>
<use href="#bt4" transform="matrix(3.00 0 0 3.00 527.1 25.7)" fill="#3f981b"/>
<use href="#bt7" transform="matrix(3.00 0 0 3.00 532.0 29.8)" fill="#3f981b"/>
<use href="#bt10" transform="matrix(4.00 0 0 4.00 518.9 37.2)" fill="#3f981b"/>
<use href="#bt13" transform="matrix(2.50 0 0 2.50 518.9 31.4)" fill="#ea671d"/>
<use href="#bt0" transform="matrix(1.50 0 0 1.50 514.0 34.7)" fill="#ea671d"/>
<use href="#bt3" transform="matrix(2.50 0 0 2.50 550.9 20.8)" fill="#3f981b"/>
<use href="#bt6" transform="matrix(4.00 0 0 4.00 581.1 28.2)" fill="#3b80e4"/>
<use href="#bt9" transform="matrix(3.00 0 0 3.00 584.4 44.5)" fill="#3f981b"/>
<use href="#bt12" transform="matrix(3.00 0 0 3.00 587.7 47.0)" fill="#ea671d"/>
<use href="#bt15" transform="matrix(1.50 0 0 1.50 566.4 19.1)" fill="#ea671d"/>
<use href="#bt2" transform="matrix(8.00 0 0 8.00 466.6 150.1)" fill="#3f981b"/>
<use href="#bt5" transform="matrix(3.00 0 0 3.00 428.9 142.7)" fill="#3f981b"/>
<use href="#bt8" transform="matrix(2.50 0 0 2.50 466.6 143.5)" fill="#3b80e4"/>
<use href="#bt11" transform="matrix(3.00 0 0 3.00 494.4 158.3)" fill="#3f981b"/>
<use href="#bt14" transform="matrix(2.50 0 0 2.50 504.2 164.8)" fill="#ea671d"/>
<use href="#bt1" transform="matrix(2.00 0 0 2.00 514.0 171.4)" fill="#ea671d"/>
<use href="#bt4" transform="matrix(3.00 0 0 3.00 383.9 135.4)" fill="#3f981b"/>
<use href="#bt7" transform="matrix(1.50 0 0 1.50 534.5 188.5)" fill="#3b80e4"/>
</g>
<use href="#edge_medL"/>
</g>
<g transform="translate(0 642.4)">
<g clip-path="url(#clip_medR)">
<use href="#body_medR"/>
<use href="#bt2" transform="matrix(9.00 0 0 9.00 767.9 39.3)" fill="#3f981b"/>
<use href="#bt5" transform="matrix(9.00 0 0 9.00 799.0 35.2)" fill="#3f981b"/>
<use href="#bt8" transform="matrix(5.00 0 0 5.00 749.9 22.1)" fill="#3f981b"/>
<use href="#bt11" transform="matrix(3.00 0 0 3.00 743.4 46.7)" fill="#3f981b"/>
<use href="#bt14" transform="matrix(3.00 0 0 3.00 812.1 23.0)" fill="#3f981b"/>
<use href="#bt1" transform="matrix(2.50 0 0 2.50 814.6 35.2)" fill="#ea671d"/>
<use href="#bt4" transform="matrix(1.50 0 0 1.50 790.8 29.5)" fill="#ea671d"/>
<use href="#bt7" transform="matrix(1.50 0 0 1.50 803.9 7.4)" fill="#ea671d"/>
<use href="#bt10" transform="matrix(6.00 0 0 6.00 843.2 151.4)" fill="#3f981b"/>
<use href="#bt13" transform="matrix(4.00 0 0 4.00 854.7 159.6)" fill="#3b80e4"/>
<use href="#bt0" transform="matrix(3.00 0 0 3.00 859.6 152.3)" fill="#3f981b"/>
<use href="#bt3" transform="matrix(4.00 0 0 4.00 891.5 147.4)" fill="#3f981b"/>
<use href="#bt6" transform="matrix(2.00 0 0 2.00 758.1 163.7)" fill="#3f981b"/>
<use href="#bt9" transform="matrix(2.00 0 0 2.00 931.6 95.8)" fill="#3f981b"/>
</g>
<use href="#edge_medR"/>
</g>
<g transform="translate(0 643.0)">
<g clip-path="url(#clip_latR)">
<use href="#body_latR"/>
<use href="#bt9" transform="matrix(10.00 0 0 10.00 992.4 98.5)" fill="#3f981b"/>
<use href="#bt12" transform="matrix(4.00 0 0 4.00 984.2 82.1)" fill="#ea671d"/>
<use href="#bt15" transform="matrix(3.00 0 0 3.00 979.3 91.9)" fill="#ea671d"/>
<use href="#bt2" transform="matrix(6.00 0 0 6.00 959.6 103.4)" fill="#3f981b"/>
<use href="#bt5" transform="matrix(4.00 0 0 4.00 974.4 105.0)" fill="#3f981b"/>
<use href="#bt8" transform="matrix(3.00 0 0 3.00 1003.8 106.7)" fill="#ea671d"/>
<use href="#bt11" transform="matrix(5.00 0 0 5.00 1020.2 87.0)" fill="#3f981b"/>
<use href="#bt14" transform="matrix(2.50 0 0 2.50 1023.5 64.1)" fill="#3b80e4"/>
<use href="#bt1" transform="matrix(5.00 0 0 5.00 1031.7 101.7)" fill="#3b80e4"/>
<use href="#bt4" transform="matrix(3.00 0 0 3.00 1030.0 88.7)" fill="#3b80e4"/>
<use href="#bt7" transform="matrix(11.00 0 0 11.00 1056.2 73.9)" fill="#3f981b"/>
<use href="#bt10" transform="matrix(3.00 0 0 3.00 1043.1 65.7)" fill="#3f981b"/>
<use href="#bt13" transform="matrix(7.00 0 0 7.00 1048.0 95.2)" fill="#3f981b"/>
<use href="#bt0" transform="matrix(3.00 0 0 3.00 1049.7 36.3)" fill="#3f981b"/>
<use href="#bt3" transform="matrix(9.00 0 0 9.00 1038.2 126.3)" fill="#3f981b"/>
<use href="#bt6" transform="matrix(7.00 0 0 7.00 1054.6 131.2)" fill="#3f981b"/>
<use href="#bt9" transform="matrix(5.00 0 0 5.00 1066.0 121.4)" fill="#3f981b"/>
<use href="#bt12" transform="matrix(7.00 0 0 7.00 1087.3 136.1)" fill="#3f981b"/>
<use href="#bt15" transform="matrix(7.00 0 0 7.00 1103.7 136.1)" fill="#3b80e4"/>
<use href="#bt2" transform="matrix(3.00 0 0 3.00 1090.6 145.9)" fill="#3f981b"/>
<use href="#bt5" transform="matrix(2.00 0 0 2.00 1113.5 139.4)" fill="#ea671d"/>
<use href="#bt8" transform="matrix(5.00 0 0 5.00 995.6 139.4)" fill="#3b80e4"/>
<use href="#bt11" transform="matrix(3.00 0 0 3.00 971.1 124.7)" fill="#3b80e4"/>
<use href="#bt14" transform="matrix(3.00 0 0 3.00 1002.2 123.0)" fill="#3f981b"/>
<use href="#bt1" transform="matrix(2.00 0 0 2.00 989.1 145.9)" fill="#3f981b"/>
<use href="#bt4" transform="matrix(2.00 0 0 2.00 1000.6 47.7)" fill="#3f981b"/>
<use href="#bt7" transform="matrix(3.00 0 0 3.00 1075.8 19.9)" fill="#3f981b"/>
<use href="#bt10" transform="matrix(4.00 0 0 4.00 1084.0 31.4)" fill="#3f981b"/>
<use href="#bt13" transform="matrix(4.00 0 0 4.00 1092.2 34.6)" fill="#3b80e4"/>
<use href="#bt0" transform="matrix(5.00 0 0 5.00 1100.4 40.4)" fill="#ea671d"/>
<use href="#bt3" transform="matrix(3.00 0 0 3.00 1095.5 47.7)" fill="#3f981b"/>
<use href="#bt6" transform="matrix(6.00 0 0 6.00 1110.2 52.6)" fill="#3f981b"/>
<use href="#bt9" transform="matrix(4.00 0 0 4.00 1118.4 59.2)" fill="#3f981b"/>
<use href="#bt12" transform="matrix(6.00 0 0 6.00 1120.0 82.1)" fill="#3f981b"/>
<use href="#bt15" transform="matrix(4.00 0 0 4.00 1126.6 75.6)" fill="#ea671d"/>
<use href="#bt2" transform="matrix(9.00 0 0 9.00 1149.5 70.6)" fill="#3f981b"/>
<use href="#bt5" transform="matrix(8.00 0 0 8.00 1152.8 88.7)" fill="#3f981b"/>
<use href="#bt8" transform="matrix(6.00 0 0 6.00 1169.1 87.0)" fill="#3f981b"/>
<use href="#bt11" transform="matrix(6.00 0 0 6.00 1141.3 39.6)" fill="#3f981b"/>
<use href="#bt14" transform="matrix(4.00 0 0 4.00 1157.7 53.5)" fill="#3b80e4"/>
<use href="#bt1" transform="matrix(3.00 0 0 3.00 1165.9 57.6)" fill="#3f981b"/>
<use href="#bt4" transform="matrix(3.00 0 0 3.00 1138.0 59.2)" fill="#3b80e4"/>
<use href="#bt7" transform="matrix(2.50 0 0 2.50 1169.1 73.1)" fill="#3b80e4"/>
<use href="#bt10" transform="matrix(5.00 0 0 5.00 1187.1 75.6)" fill="#3f981b"/>
<use href="#bt13" transform="matrix(3.50 0 0 3.50 1195.3 88.7)" fill="#ea671d"/>
<use href="#bt0" transform="matrix(6.00 0 0 6.00 1182.2 118.1)" fill="#3f981b"/>
<use href="#bt3" transform="matrix(5.00 0 0 5.00 1188.8 109.9)" fill="#3f981b"/>
<use href="#bt6" transform="matrix(4.00 0 0 4.00 1146.2 108.3)" fill="#3b80e4"/>
<use href="#bt9" transform="matrix(3.00 0 0 3.00 1141.3 96.8)" fill="#3f981b"/>
<use href="#bt12" transform="matrix(4.00 0 0 4.00 1133.1 178.7)" fill="#3b80e4"/>
<use href="#bt15" transform="matrix(2.00 0 0 2.00 1108.6 10.9)" fill="#3f981b"/>
<use href="#bt2" transform="matrix(2.00 0 0 2.00 1064.4 6.0)" fill="#3b80e4"/>
<use href="#bt5" transform="matrix(2.00 0 0 2.00 1139.7 22.4)" fill="#3f981b"/>
</g>
<use href="#edge_latR"/>
</g>
<g transform="translate(0 873.8)">
<g clip-path="url(#clip_latL)">
<use href="#body_latL"/>
<use href="#bt0" transform="matrix(11.00 0 0 11.00 152.3 72.7)" fill="#ea671d"/>
<use href="#bt3" transform="matrix(9.00 0 0 9.00 183.4 54.7)" fill="#ea671d"/>
<use href="#bt6" transform="matrix(5.00 0 0 5.00 160.5 59.7)" fill="#ea671d"/>
<use href="#bt9" transform="matrix(4.00 0 0 4.00 176.8 40.0)" fill="#3b80e4"/>
<use href="#bt12" transform="matrix(6.00 0 0 6.00 122.8 79.3)" fill="#ea671d"/>
<use href="#bt15" transform="matrix(4.00 0 0 4.00 117.9 95.7)" fill="#ea671d"/>
<use href="#bt2" transform="matrix(6.00 0 0 6.00 139.2 92.4)" fill="#3b80e4"/>
<use href="#bt5" transform="matrix(7.00 0 0 7.00 165.4 94.0)" fill="#ea671d"/>
<use href="#bt8" transform="matrix(3.00 0 0 3.00 163.7 98.9)" fill="#3b80e4"/>
<use href="#bt11" transform="matrix(5.00 0 0 5.00 183.4 97.3)" fill="#3b80e4"/>
<use href="#bt14" transform="matrix(7.00 0 0 7.00 181.7 108.7)" fill="#ea671d"/>
<use href="#bt1" transform="matrix(3.00 0 0 3.00 191.5 112.0)" fill="#ea671d"/>
<use href="#bt4" transform="matrix(3.00 0 0 3.00 194.8 71.1)" fill="#ea671d"/>
<use href="#bt7" transform="matrix(3.00 0 0 3.00 212.0 49.8)" fill="#3b80e4"/>
<use href="#bt10" transform="matrix(1.50 0 0 1.50 196.5 33.5)" fill="#ea671d"/>
<use href="#bt13" transform="matrix(2.00 0 0 2.00 206.3 13.8)" fill="#ea671d"/>
<use href="#bt0" transform="matrix(3.00 0 0 3.00 237.4 61.3)" fill="#ea671d"/>
<use href="#bt3" transform="matrix(5.00 0 0 5.00 245.5 74.4)" fill="#3f981b"/>
<use href="#bt6" transform="matrix(5.00 0 0 5.00 242.3 87.5)" fill="#ea671d"/>
<use href="#bt9" transform="matrix(10.00 0 0 10.00 268.5 74.4)" fill="#ea671d"/>
<use href="#bt12" transform="matrix(4.00 0 0 4.00 271.7 54.7)" fill="#ea671d"/>
<use href="#bt15" transform="matrix(4.00 0 0 4.00 270.1 62.9)" fill="#3b80e4"/>
<use href="#bt2" transform="matrix(5.00 0 0 5.00 296.3 76.0)" fill="#ea671d"/>
<use href="#bt5" transform="matrix(7.00 0 0 7.00 288.1 95.7)" fill="#ea671d"/>
<use href="#bt8" transform="matrix(3.00 0 0 3.00 299.6 100.6)" fill="#ea671d"/>
<use href="#bt11" transform="matrix(7.00 0 0 7.00 258.6 108.7)" fill="#ea671d"/>
<use href="#bt14" transform="matrix(4.00 0 0 4.00 252.1 118.6)" fill="#ea671d"/>
<use href="#bt1" transform="matrix(7.00 0 0 7.00 225.9 133.3)" fill="#ea671d"/>
<use href="#bt4" transform="matrix(4.00 0 0 4.00 237.4 128.4)" fill="#ea671d"/>
<use href="#bt7" transform="matrix(6.00 0 0 6.00 250.5 131.7)" fill="#3b80e4"/>
<use href="#bt10" transform="matrix(3.00 0 0 3.00 222.6 123.5)" fill="#3f981b"/>
<use href="#bt13" transform="matrix(8.00 0 0 8.00 239.0 146.4)" fill="#ea671d"/>
<use href="#bt0" transform="matrix(7.00 0 0 7.00 288.1 123.5)" fill="#ea671d"/>
<use href="#bt3" transform="matrix(3.00 0 0 3.00 276.6 130.0)" fill="#ea671d"/>
<use href="#bt6" transform="matrix(4.00 0 0 4.00 312.6 126.7)" fill="#3b80e4"/>
<use href="#bt9" transform="matrix(6.00 0 0 6.00 320.8 139.8)" fill="#ea671d"/>
<use href="#bt12" transform="matrix(9.00 0 0 9.00 327.4 110.4)" fill="#3f981b"/>
<use href="#bt15" transform="matrix(8.00 0 0 8.00 347.0 77.7)" fill="#3f981b"/>
<use href="#bt2" transform="matrix(4.00 0 0 4.00 342.1 89.1)" fill="#ea671d"/>
<use href="#bt5" transform="matrix(4.00 0 0 4.00 333.9 56.4)" fill="#ea671d"/>
<use href="#bt8" transform="matrix(3.00 0 0 3.00 337.2 98.9)" fill="#ea671d"/>
<use href="#bt11" transform="matrix(6.00 0 0 6.00 347.0 121.8)" fill="#ea671d"/>
<use href="#bt14" transform="matrix(3.00 0 0 3.00 358.5 126.7)" fill="#ea671d"/>
<use href="#bt1" transform="matrix(2.50 0 0 2.50 311.0 74.4)" fill="#3f981b"/>
<use href="#bt4" transform="matrix(2.00 0 0 2.00 288.1 56.4)" fill="#3b80e4"/>
<use href="#bt7" transform="matrix(2.00 0 0 2.00 304.5 62.9)" fill="#ea671d"/>
<use href="#bt10" transform="matrix(3.50 0 0 3.50 227.5 161.1)" fill="#ea671d"/>
<use href="#bt13" transform="matrix(3.00 0 0 3.00 212.8 162.7)" fill="#3f981b"/>
<use href="#bt0" transform="matrix(5.00 0 0 5.00 194.8 170.9)" fill="#3b80e4"/>
<use href="#bt3" transform="matrix(4.00 0 0 4.00 302.8 151.3)" fill="#3b80e4"/>
<use href="#bt6" transform="matrix(1.50 0 0 1.50 273.4 146.4)" fill="#3f981b"/>
</g>
<use href="#edge_latL"/>
</g>
<g transform="translate(0 876.4)">
<g clip-path="url(#clip_medL)">
<use href="#body_medL"/>
<use href="#bt7" transform="matrix(5.00 0 0 5.00 565.6 26.8)" fill="#ea671d"/>
<use href="#bt10" transform="matrix(3.50 0 0 3.50 562.3 39.9)" fill="#ea671d"/>
<use href="#bt13" transform="matrix(3.00 0 0 3.00 523.0 30.9)" fill="#ea671d"/>
<use href="#bt0" transform="matrix(2.00 0 0 2.00 522.2 35.8)" fill="#ea671d"/>
<use href="#bt3" transform="matrix(3.00 0 0 3.00 548.4 12.9)" fill="#3f981b"/>
<use href="#bt6" transform="matrix(5.00 0 0 5.00 558.2 174.9)" fill="#3f981b"/>
<use href="#bt9" transform="matrix(2.00 0 0 2.00 560.7 165.1)" fill="#ea671d"/>
<use href="#bt12" transform="matrix(1.50 0 0 1.50 448.6 140.5)" fill="#ea671d"/>
<use href="#bt15" transform="matrix(1.50 0 0 1.50 466.6 147.1)" fill="#ea671d"/>
<use href="#bt2" transform="matrix(2.00 0 0 2.00 520.6 178.2)" fill="#ea671d"/>
<use href="#bt5" transform="matrix(2.00 0 0 2.00 532.0 184.7)" fill="#3f981b"/>
</g>
<use href="#edge_medL"/>
</g>
<g transform="translate(0 875.5)">
<g clip-path="url(#clip_medR)">
<use href="#body_medR"/>
<use href="#bt14" transform="matrix(8.00 0 0 8.00 800.7 30.1)" fill="#3f981b"/>
<use href="#bt1" transform="matrix(5.00 0 0 5.00 812.1 33.4)" fill="#3f981b"/>
<use href="#bt4" transform="matrix(5.00 0 0 5.00 776.1 31.0)" fill="#ea671d"/>
<use href="#bt7" transform="matrix(4.00 0 0 4.00 731.9 40.0)" fill="#ea671d"/>
<use href="#bt10" transform="matrix(3.00 0 0 3.00 739.3 40.0)" fill="#3f981b"/>
<use href="#bt13" transform="matrix(3.00 0 0 3.00 779.4 44.9)" fill="#3b80e4"/>
<use href="#bt0" transform="matrix(2.00 0 0 2.00 738.5 26.1)" fill="#3f981b"/>
<use href="#bt3" transform="matrix(8.00 0 0 8.00 849.8 146.3)" fill="#3b80e4"/>
<use href="#bt6" transform="matrix(4.00 0 0 4.00 858.0 150.4)" fill="#3b80e4"/>
<use href="#bt9" transform="matrix(2.50 0 0 2.50 825.2 148.8)" fill="#3b80e4"/>
<use href="#bt12" transform="matrix(4.00 0 0 4.00 877.6 143.9)" fill="#ea671d"/>
<use href="#bt15" transform="matrix(4.00 0 0 4.00 826.8 161.1)" fill="#3f981b"/>
<use href="#bt2" transform="matrix(4.00 0 0 4.00 753.2 170.9)" fill="#3f981b"/>
<use href="#bt5" transform="matrix(3.00 0 0 3.00 763.0 184.0)" fill="#3b80e4"/>
<use href="#bt8" transform="matrix(4.00 0 0 4.00 782.7 188.9)" fill="#ea671d"/>
<use href="#bt11" transform="matrix(2.50 0 0 2.50 807.2 170.1)" fill="#3b80e4"/>
<use href="#bt14" transform="matrix(2.00 0 0 2.00 930.0 94.0)" fill="#ea671d"/>
<use href="#bt1" transform="matrix(1.50 0 0 1.50 912.8 64.5)" fill="#ea671d"/>
</g>
<use href="#edge_medR"/>
</g>
<g transform="translate(0 875.4)">
<g clip-path="url(#clip_latR)">
<use href="#body_latR"/>
<use href="#bt5" transform="matrix(8.00 0 0 8.00 992.4 53.2)" fill="#ea671d"/>
<use href="#bt8" transform="matrix(3.00 0 0 3.00 990.7 48.2)" fill="#3f981b"/>
<use href="#bt11" transform="matrix(5.00 0 0 5.00 1028.4 45.0)" fill="#3b80e4"/>
<use href="#bt14" transform="matrix(6.00 0 0 6.00 1039.8 59.7)" fill="#ea671d"/>
<use href="#bt1" transform="matrix(4.00 0 0 4.00 1057.8 49.9)" fill="#ea671d"/>
<use href="#bt4" transform="matrix(3.00 0 0 3.00 1057.0 64.6)" fill="#3f981b"/>
<use href="#bt7" transform="matrix(3.00 0 0 3.00 1061.9 61.3)" fill="#ea671d"/>
<use href="#bt10" transform="matrix(7.00 0 0 7.00 1032.5 79.3)" fill="#3b80e4"/>
<use href="#bt13" transform="matrix(3.00 0 0 3.00 1043.1 77.7)" fill="#3b80e4"/>
<use href="#bt0" transform="matrix(4.00 0 0 4.00 969.5 90.8)" fill="#3b80e4"/>
<use href="#bt3" transform="matrix(5.00 0 0 5.00 1013.6 85.9)" fill="#ea671d"/>
<use href="#bt6" transform="matrix(7.00 0 0 7.00 1023.5 95.7)" fill="#ea671d"/>
<use href="#bt9" transform="matrix(5.00 0 0 5.00 1030.0 112.1)" fill="#ea671d"/>
<use href="#bt12" transform="matrix(5.00 0 0 5.00 1041.5 113.7)" fill="#3b80e4"/>
<use href="#bt15" transform="matrix(8.00 0 0 8.00 1062.7 118.6)" fill="#ea671d"/>
<use href="#bt2" transform="matrix(3.00 0 0 3.00 1074.2 121.9)" fill="#3b80e4"/>
<use href="#bt5" transform="matrix(4.00 0 0 4.00 1056.2 131.7)" fill="#ea671d"/>
<use href="#bt8" transform="matrix(2.50 0 0 2.50 1034.9 130.1)" fill="#ea671d"/>
<use href="#bt11" transform="matrix(3.00 0 0 3.00 990.7 138.3)" fill="#3b80e4"/>
<use href="#bt14" transform="matrix(2.50 0 0 2.50 954.7 138.3)" fill="#3b80e4"/>
<use href="#bt1" transform="matrix(1.50 0 0 1.50 1002.2 143.2)" fill="#ea671d"/>
<use href="#bt4" transform="matrix(6.00 0 0 6.00 1095.5 149.7)" fill="#3b80e4"/>
<use href="#bt7" transform="matrix(3.00 0 0 3.00 1120.0 149.7)" fill="#3b80e4"/>
<use href="#bt10" transform="matrix(3.50 0 0 3.50 1128.2 162.8)" fill="#ea671d"/>
<use href="#bt13" transform="matrix(3.00 0 0 3.00 1116.8 167.7)" fill="#3b80e4"/>
<use href="#bt0" transform="matrix(3.00 0 0 3.00 1084.0 38.4)" fill="#ea671d"/>
<use href="#bt3" transform="matrix(1.50 0 0 1.50 1089.8 40.1)" fill="#3f981b"/>
<use href="#bt6" transform="matrix(6.00 0 0 6.00 1095.5 46.6)" fill="#ea671d"/>
<use href="#bt9" transform="matrix(2.00 0 0 2.00 1087.3 23.7)" fill="#3b80e4"/>
<use href="#bt12" transform="matrix(2.00 0 0 2.00 1130.7 40.1)" fill="#ea671d"/>
<use href="#bt15" transform="matrix(1.50 0 0 1.50 1141.3 47.4)" fill="#3f981b"/>
<use href="#bt2" transform="matrix(4.00 0 0 4.00 1139.7 67.9)" fill="#3b80e4"/>
<use href="#bt5" transform="matrix(3.00 0 0 3.00 1131.5 72.8)" fill="#ea671d"/>
<use href="#bt8" transform="matrix(3.00 0 0 3.00 1159.3 55.6)" fill="#ea671d"/>
<use href="#bt11" transform="matrix(3.00 0 0 3.00 1158.5 66.2)" fill="#3f981b"/>
<use href="#bt14" transform="matrix(2.00 0 0 2.00 1152.8 66.2)" fill="#ea671d"/>
<use href="#bt1" transform="matrix(4.00 0 0 4.00 1126.6 84.3)" fill="#ea671d"/>
<use href="#bt4" transform="matrix(5.00 0 0 5.00 1134.8 99.0)" fill="#ea671d"/>
<use href="#bt7" transform="matrix(7.00 0 0 7.00 1165.9 89.2)" fill="#3b80e4"/>
<use href="#bt10" transform="matrix(5.00 0 0 5.00 1177.3 77.7)" fill="#ea671d"/>
<use href="#bt13" transform="matrix(2.00 0 0 2.00 1183.9 81.0)" fill="#3b80e4"/>
<use href="#bt0" transform="matrix(4.00 0 0 4.00 1172.4 100.6)" fill="#ea671d"/>
<use href="#bt3" transform="matrix(3.00 0 0 3.00 1182.2 100.6)" fill="#ea671d"/>
<use href="#bt6" transform="matrix(2.00 0 0 2.00 1183.9 92.4)" fill="#3f981b"/>
<use href="#bt9" transform="matrix(2.00 0 0 2.00 1174.0 107.2)" fill="#3f981b"/>
<use href="#bt12" transform="matrix(3.00 0 0 3.00 1197.0 108.8)" fill="#3b80e4"/>
<use href="#bt15" transform="matrix(3.00 0 0 3.00 1192.0 120.3)" fill="#ea671d"/>
<use href="#bt2" transform="matrix(1.50 0 0 1.50 1147.9 92.4)" fill="#ea671d"/>
<use href="#bt5" transform="matrix(2.00 0 0 2.00 1120.0 81.0)" fill="#ea671d"/>
<use href="#bt8" transform="matrix(2.00 0 0 2.00 953.9 89.2)" fill="#ea671d"/>
</g>
<use href="#edge_latR"/>
</g>
<g transform="translate(0 1081.7)">
<g clip-path="url(#clip_latL)">
<use href="#body_latL"/>
<use href="#bt12" transform="matrix(5.00 0 0 5.00 185.4 33.0)" fill="#ea671d"/>
<use href="#bt15" transform="matrix(2.50 0 0 2.50 199.9 32.2)" fill="#ea671d"/>
<use href="#bt2" transform="matrix(7.00 0 0 7.00 227.3 30.6)" fill="#ea671d"/>
<use href="#bt5" transform="matrix(3.00 0 0 3.00 224.9 23.4)" fill="#3b80e4"/>
<use href="#bt8" transform="matrix(6.00 0 0 6.00 178.9 62.1)" fill="#ea671d"/>
<use href="#bt11" transform="matrix(1.50 0 0 1.50 171.7 56.4)" fill="#ea671d"/>
<use href="#bt14" transform="matrix(2.00 0 0 2.00 183.8 60.5)" fill="#3b80e4"/>
<use href="#bt1" transform="matrix(6.00 0 0 6.00 156.3 71.8)" fill="#3b80e4"/>
<use href="#bt4" transform="matrix(3.00 0 0 3.00 146.6 77.4)" fill="#ea671d"/>
<use href="#bt7" transform="matrix(2.00 0 0 2.00 203.1 63.7)" fill="#ea671d"/>
<use href="#bt10" transform="matrix(3.00 0 0 3.00 162.8 85.5)" fill="#3f981b"/>
<use href="#bt13" transform="matrix(3.00 0 0 3.00 185.4 87.9)" fill="#3f981b"/>
<use href="#bt0" transform="matrix(3.00 0 0 3.00 191.8 83.1)" fill="#3f981b"/>
<use href="#bt3" transform="matrix(2.00 0 0 2.00 200.7 91.1)" fill="#3b80e4"/>
<use href="#bt6" transform="matrix(9.00 0 0 9.00 122.4 110.5)" fill="#3b80e4"/>
<use href="#bt9" transform="matrix(6.00 0 0 6.00 132.1 100.8)" fill="#ea671d"/>
<use href="#bt12" transform="matrix(5.00 0 0 5.00 157.9 100.8)" fill="#3b80e4"/>
<use href="#bt15" transform="matrix(7.00 0 0 7.00 157.1 115.3)" fill="#ea671d"/>
<use href="#bt2" transform="matrix(4.00 0 0 4.00 135.3 123.4)" fill="#3f981b"/>
<use href="#bt5" transform="matrix(3.00 0 0 3.00 141.8 123.4)" fill="#ea671d"/>
<use href="#bt8" transform="matrix(5.00 0 0 5.00 285.4 39.5)" fill="#3b80e4"/>
<use href="#bt11" transform="matrix(2.00 0 0 2.00 295.9 37.9)" fill="#3f981b"/>
<use href="#bt14" transform="matrix(2.00 0 0 2.00 240.3 55.6)" fill="#3b80e4"/>
<use href="#bt1" transform="matrix(6.00 0 0 6.00 274.1 55.6)" fill="#ea671d"/>
<use href="#bt4" transform="matrix(9.00 0 0 9.00 259.6 70.2)" fill="#ea671d"/>
<use href="#bt7" transform="matrix(6.00 0 0 6.00 306.4 60.5)" fill="#3f981b"/>
<use href="#bt10" transform="matrix(4.00 0 0 4.00 343.5 63.7)" fill="#3b80e4"/>
<use href="#bt13" transform="matrix(3.00 0 0 3.00 342.0 79.8)" fill="#3f981b"/>
<use href="#bt0" transform="matrix(6.00 0 0 6.00 256.4 96.0)" fill="#3b80e4"/>
<use href="#bt3" transform="matrix(6.00 0 0 6.00 277.4 105.7)" fill="#3b80e4"/>
<use href="#bt6" transform="matrix(4.00 0 0 4.00 262.8 113.7)" fill="#3f981b"/>
<use href="#bt9" transform="matrix(3.00 0 0 3.00 275.8 97.6)" fill="#ea671d"/>
<use href="#bt12" transform="matrix(3.00 0 0 3.00 290.3 102.4)" fill="#3f981b"/>
<use href="#bt15" transform="matrix(7.00 0 0 7.00 303.2 100.8)" fill="#ea671d"/>
<use href="#bt2" transform="matrix(7.00 0 0 7.00 314.5 100.8)" fill="#ea671d"/>
<use href="#bt5" transform="matrix(6.00 0 0 6.00 332.3 107.3)" fill="#ea671d"/>
<use href="#bt8" transform="matrix(5.00 0 0 5.00 342.0 100.8)" fill="#3b80e4"/>
<use href="#bt11" transform="matrix(8.00 0 0 8.00 361.3 107.3)" fill="#3b80e4"/>
<use href="#bt14" transform="matrix(3.00 0 0 3.00 356.5 110.5)" fill="#ea671d"/>
<use href="#bt1" transform="matrix(3.00 0 0 3.00 332.3 123.4)" fill="#3b80e4"/>
<use href="#bt4" transform="matrix(3.00 0 0 3.00 345.2 129.9)" fill="#ea671d"/>
<use href="#bt7" transform="matrix(4.00 0 0 4.00 324.2 133.1)" fill="#3b80e4"/>
<use href="#bt10" transform="matrix(5.00 0 0 5.00 345.2 142.8)" fill="#3b80e4"/>
<use href="#bt13" transform="matrix(3.00 0 0 3.00 327.4 144.4)" fill="#3b80e4"/>
<use href="#bt0" transform="matrix(4.00 0 0 4.00 300.0 147.6)" fill="#ea671d"/>
<use href="#bt3" transform="matrix(3.00 0 0 3.00 290.3 150.9)" fill="#3b80e4"/>
<use href="#bt6" transform="matrix(2.00 0 0 2.00 301.6 126.6)" fill="#3b80e4"/>
<use href="#bt9" transform="matrix(4.00 0 0 4.00 256.4 137.9)" fill="#3f981b"/>
<use href="#bt12" transform="matrix(3.00 0 0 3.00 259.6 144.4)" fill="#3f981b"/>
<use href="#bt15" transform="matrix(2.50 0 0 2.50 238.6 137.9)" fill="#3b80e4"/>
<use href="#bt2" transform="matrix(2.50 0 0 2.50 229.0 144.4)" fill="#3f981b"/>
<use href="#bt5" transform="matrix(2.00 0 0 2.00 220.9 137.9)" fill="#ea671d"/>
<use href="#bt8" transform="matrix(3.00 0 0 3.00 214.4 149.2)" fill="#3f981b"/>
<use href="#bt11" transform="matrix(2.00 0 0 2.00 219.3 154.1)" fill="#ea671d"/>
<use href="#bt14" transform="matrix(8.00 0 0 8.00 208.0 165.4)" fill="#3b80e4"/>
<use href="#bt1" transform="matrix(1.50 0 0 1.50 180.5 20.1)" fill="#3f981b"/>
</g>
<use href="#edge_latL"/>
</g>
<g transform="translate(0 1084.2)">
<g clip-path="url(#clip_medL)">
<use href="#body_medL"/>
<use href="#bt3" transform="matrix(8.00 0 0 8.00 570.1 37.0)" fill="#3b80e4"/>
<use href="#bt6" transform="matrix(5.00 0 0 5.00 554.0 16.8)" fill="#3b80e4"/>
<use href="#bt9" transform="matrix(2.50 0 0 2.50 557.2 48.3)" fill="#3b80e4"/>
<use href="#bt12" transform="matrix(3.00 0 0 3.00 529.8 33.8)" fill="#3f981b"/>
<use href="#bt15" transform="matrix(1.50 0 0 1.50 526.5 11.2)" fill="#ea671d"/>
<use href="#bt2" transform="matrix(2.50 0 0 2.50 429.7 78.1)" fill="#3b80e4"/>
<use href="#bt5" transform="matrix(2.50 0 0 2.50 386.1 104.8)" fill="#3f981b"/>
<use href="#bt8" transform="matrix(2.50 0 0 2.50 381.3 119.3)" fill="#3b80e4"/>
<use href="#bt11" transform="matrix(5.00 0 0 5.00 495.9 162.9)" fill="#3f981b"/>
<use href="#bt14" transform="matrix(1.50 0 0 1.50 487.8 146.7)" fill="#ea671d"/>
<use href="#bt1" transform="matrix(1.50 0 0 1.50 559.6 166.1)" fill="#3b80e4"/>
</g>
<use href="#edge_medL"/>
</g>
<g transform="translate(0 1085.0)">
<g clip-path="url(#clip_medR)">
<use href="#body_medR"/>
<use href="#bt10" transform="matrix(11.00 0 0 11.00 768.0 28.1)" fill="#3b80e4"/>
<use href="#bt13" transform="matrix(8.00 0 0 8.00 782.5 36.2)" fill="#3b80e4"/>
<use href="#bt0" transform="matrix(5.00 0 0 5.00 782.5 22.5)" fill="#ea671d"/>
<use href="#bt3" transform="matrix(6.00 0 0 6.00 755.1 37.0)" fill="#ea671d"/>
<use href="#bt6" transform="matrix(4.00 0 0 4.00 734.1 45.9)" fill="#3b80e4"/>
<use href="#bt9" transform="matrix(2.50 0 0 2.50 803.5 27.3)" fill="#ea671d"/>
<use href="#bt12" transform="matrix(2.00 0 0 2.00 809.9 20.0)" fill="#ea671d"/>
<use href="#bt15" transform="matrix(2.00 0 0 2.00 795.4 13.6)" fill="#3b80e4"/>
<use href="#bt2" transform="matrix(8.00 0 0 8.00 848.6 149.1)" fill="#3f981b"/>
<use href="#bt5" transform="matrix(3.50 0 0 3.50 830.9 154.8)" fill="#ea671d"/>
<use href="#bt8" transform="matrix(3.00 0 0 3.00 880.9 142.7)" fill="#3b80e4"/>
<use href="#bt11" transform="matrix(2.00 0 0 2.00 821.2 163.7)" fill="#3b80e4"/>
<use href="#bt14" transform="matrix(2.00 0 0 2.00 758.3 181.4)" fill="#3b80e4"/>
<use href="#bt1" transform="matrix(4.00 0 0 4.00 787.3 186.3)" fill="#3f981b"/>
</g>
<use href="#edge_medR"/>
</g>
<g transform="translate(0 1083.0)">
<g clip-path="url(#clip_latR)">
<use href="#body_latR"/>
<use href="#bt1" transform="matrix(4.00 0 0 4.00 1082.4 17.6)" fill="#3b80e4"/>
<use href="#bt4" transform="matrix(5.00 0 0 5.00 1129.9 44.5)" fill="#3b80e4"/>
<use href="#bt7" transform="matrix(4.00 0 0 4.00 1034.9 53.2)" fill="#3b80e4"/>
<use href="#bt10" transform="matrix(6.00 0 0 6.00 1050.8 61.9)" fill="#3f981b"/>
<use href="#bt13" transform="matrix(2.50 0 0 2.50 1000.1 53.2)" fill="#ea671d"/>
<use href="#bt0" transform="matrix(5.00 0 0 5.00 970.1 73.0)" fill="#3b80e4"/>
<use href="#bt3" transform="matrix(4.00 0 0 4.00 976.4 76.1)" fill="#ea671d"/>
<use href="#bt6" transform="matrix(4.00 0 0 4.00 1049.2 83.2)" fill="#ea671d"/>
<use href="#bt9" transform="matrix(7.00 0 0 7.00 1053.9 104.6)" fill="#3b80e4"/>
<use href="#bt12" transform="matrix(5.00 0 0 5.00 1047.6 109.3)" fill="#ea671d"/>
<use href="#bt15" transform="matrix(4.00 0 0 4.00 1012.8 106.2)" fill="#ea671d"/>
<use href="#bt2" transform="matrix(3.00 0 0 3.00 1008.0 115.7)" fill="#ea671d"/>
<use href="#bt5" transform="matrix(8.00 0 0 8.00 1025.4 123.6)" fill="#3b80e4"/>
<use href="#bt8" transform="matrix(5.00 0 0 5.00 1057.1 131.5)" fill="#3b80e4"/>
<use href="#bt11" transform="matrix(5.00 0 0 5.00 959.0 126.7)" fill="#3b80e4"/>
<use href="#bt14" transform="matrix(1.50 0 0 1.50 949.5 110.9)" fill="#ea671d"/>
<use href="#bt1" transform="matrix(2.00 0 0 2.00 979.6 98.3)" fill="#ea671d"/>
<use href="#bt4" transform="matrix(2.00 0 0 2.00 965.3 93.5)" fill="#3b80e4"/>
<use href="#bt7" transform="matrix(2.00 0 0 2.00 998.5 110.1)" fill="#3b80e4"/>
<use href="#bt10" transform="matrix(3.00 0 0 3.00 1148.9 69.8)" fill="#3b80e4"/>
<use href="#bt13" transform="matrix(4.00 0 0 4.00 1174.2 74.5)" fill="#3f981b"/>
<use href="#bt0" transform="matrix(2.50 0 0 2.50 1166.3 95.9)" fill="#3f981b"/>
<use href="#bt3" transform="matrix(4.00 0 0 4.00 1167.8 106.2)" fill="#3f981b"/>
<use href="#bt6" transform="matrix(2.50 0 0 2.50 1190.0 107.8)" fill="#ea671d"/>
<use href="#bt9" transform="matrix(3.00 0 0 3.00 1190.0 91.9)" fill="#3b80e4"/>
<use href="#bt12" transform="matrix(5.00 0 0 5.00 1185.3 122.8)" fill="#3b80e4"/>
<use href="#bt15" transform="matrix(2.50 0 0 2.50 1201.1 110.9)" fill="#3b80e4"/>
<use href="#bt2" transform="matrix(2.00 0 0 2.00 1147.3 101.4)" fill="#3b80e4"/>
<use href="#bt5" transform="matrix(3.00 0 0 3.00 1128.3 163.1)" fill="#ea671d"/>
<use href="#bt8" transform="matrix(2.50 0 0 2.50 1120.4 171.0)" fill="#3b80e4"/>
<use href="#bt11" transform="matrix(2.00 0 0 2.00 1084.0 122.0)" fill="#3b80e4"/>
<use href="#bt14" transform="matrix(1.50 0 0 1.50 1133.8 39.7)" fill="#ea671d"/>
</g>
<use href="#edge_latR"/>
</g>
<line x1="1331.0" y1="30.0" x2="1331.0" y2="552.9" stroke="#000" stroke-width="2.2"/>
<line x1="1329.9" y1="551.8" x2="2046" y2="551.8" stroke="#000" stroke-width="2.4"/>
<text x="1322.5" y="560.2" text-anchor="end" font-size="22" font-family="'Liberation Sans', Arial, sans-serif">0</text>
<line x1="1331.0" y1="445.3" x2="1339.0" y2="445.3" stroke="#000" stroke-width="2"/>
<text x="1322.5" y="453.7" text-anchor="end" font-size="22" font-family="'Liberation Sans', Arial, sans-serif">100</text>
<line x1="1331.0" y1="338.9" x2="1339.0" y2="338.9" stroke="#000" stroke-width="2"/>
<text x="1322.5" y="347.3" text-anchor="end" font-size="22" font-family="'Liberation Sans', Arial, sans-serif">200</text>
<line x1="1331.0" y1="232.4" x2="1339.0" y2="232.4" stroke="#000" stroke-width="2"/>
<text x="1322.5" y="240.8" text-anchor="end" font-size="22" font-family="'Liberation Sans', Arial, sans-serif">300</text>
<line x1="1331.0" y1="126.0" x2="1339.0" y2="126.0" stroke="#000" stroke-width="2"/>
<text x="1322.5" y="134.4" text-anchor="end" font-size="22" font-family="'Liberation Sans', Arial, sans-serif">400</text>
<line x1="1449.8" y1="551.8" x2="1449.8" y2="543.8" stroke="#000" stroke-width="2"/>
<line x1="1687.8" y1="551.8" x2="1687.8" y2="543.8" stroke="#000" stroke-width="2"/>
<line x1="1925.6" y1="551.8" x2="1925.6" y2="543.8" stroke="#000" stroke-width="2"/>
<text x="1449.8" y="582.0" text-anchor="middle" font-size="22" font-family="'Liberation Sans', Arial, sans-serif">Chinese word</text>
<text x="1687.8" y="582.0" text-anchor="middle" font-size="22" font-family="'Liberation Sans', Arial, sans-serif">English word</text>
<text x="1925.6" y="582.0" text-anchor="middle" font-size="22" font-family="'Liberation Sans', Arial, sans-serif">Chinese pinyin</text>
<text x="1687.5" y="25.6" text-anchor="middle" font-size="22" font-family="'Liberation Sans', Arial, sans-serif">AOA range from 3-8 years</text>
<text transform="translate(1275.7 291.0) rotate(-90)" text-anchor="middle" font-size="22" font-family="'Liberation Sans', Arial, sans-serif">Cognitive Loads</text>
<line x1="1331.0" y1="734.3" x2="1331.0" y2="1241.3" stroke="#000" stroke-width="2.2"/>
<line x1="1329.9" y1="1240.2" x2="2046" y2="1240.2" stroke="#000" stroke-width="2.4"/>
<text x="1322.5" y="1248.6" text-anchor="end" font-size="22" font-family="'Liberation Sans', Arial, sans-serif">0</text>
<line x1="1331.0" y1="1128.1" x2="1339.0" y2="1128.1" stroke="#000" stroke-width="2"/>
<text x="1322.5" y="1136.5" text-anchor="end" font-size="22" font-family="'Liberation Sans', Arial, sans-serif">100</text>
<line x1="1331.0" y1="1016.0" x2="1339.0" y2="1016.0" stroke="#000" stroke-width="2"/>
<text x="1322.5" y="1024.4" text-anchor="end" font-size="22" font-family="'Liberation Sans', Arial, sans-serif">200</text>
<line x1="1331.0" y1="903.9" x2="1339.0" y2="903.9" stroke="#000" stroke-width="2"/>
<text x="1322.5" y="912.3" text-anchor="end" font-size="22" font-family="'Liberation Sans', Arial, sans-serif">300</text>
<line x1="1331.0" y1="791.8" x2="1339.0" y2="791.8" stroke="#000" stroke-width="2"/>
<text x="1322.5" y="800.2" text-anchor="end" font-size="22" font-family="'Liberation Sans', Arial, sans-serif">400</text>
<line x1="1449.8" y1="1240.2" x2="1449.8" y2="1232.2" stroke="#000" stroke-width="2"/>
<line x1="1687.8" y1="1240.2" x2="1687.8" y2="1232.2" stroke="#000" stroke-width="2"/>
<line x1="1925.6" y1="1240.2" x2="1925.6" y2="1232.2" stroke="#000" stroke-width="2"/>
<text x="1449.8" y="1270.4" text-anchor="middle" font-size="22" font-family="'Liberation Sans', Arial, sans-serif">Chinese word</text>
<text x="1687.8" y="1270.4" text-anchor="middle" font-size="22" font-family="'Liberation Sans', Arial, sans-serif">English word</text>
<text x="1925.6" y="1270.4" text-anchor="middle" font-size="22" font-family="'Liberation Sans', Arial, sans-serif">Chinese pinyin</text>
<text x="1687.5" y="730.3" text-anchor="middle" font-size="22" font-family="'Liberation Sans', Arial, sans-serif">AOA range from 9-15 years</text>
<text transform="translate(1275.7 987.3) rotate(-90)" text-anchor="middle" font-size="22" font-family="'Liberation Sans', Arial, sans-serif">Cognitive Loads</text>
<polygon points="1394.00,512.80 1394.00,505.50 1402.10,496.70 1394.00,490.20 1394.00,488.30 1426.00,488.30 1426.00,490.20 1417.90,496.70 1426.00,505.50 1426.00,512.80" fill="none" stroke="#1a6fff" stroke-width="2.30" stroke-linejoin="round"/>
<line x1="1402.10" y1="496.70" x2="1417.90" y2="496.70" stroke="#1a6fff" stroke-width="2.30"/>
<line x1="1410.00" y1="488.30" x2="1410.00" y2="457.40" stroke="#1a6fff" stroke-width="2.30" stroke-dasharray="10 11.5"/>
<line x1="1410.00" y1="526.80" x2="1410.00" y2="512.80" stroke="#1a6fff" stroke-width="2.30" stroke-dasharray="10 11.5"/>
<line x1="1402.30" y1="457.40" x2="1417.70" y2="457.40" stroke="#1a6fff" stroke-width="2.30" stroke-linecap="round"/>
<line x1="1402.30" y1="526.80" x2="1417.70" y2="526.80" stroke="#1a6fff" stroke-width="2.30" stroke-linecap="round"/>
<polygon points="1433.80,510.10 1433.80,510.10 1441.90,499.20 1433.80,487.80 1433.80,477.40 1465.80,477.40 1465.80,487.80 1457.70,499.20 1465.80,510.10 1465.80,510.10" fill="none" stroke="#2e9a00" stroke-width="2.30" stroke-linejoin="round"/>
<line x1="1441.90" y1="499.20" x2="1457.70" y2="499.20" stroke="#2e9a00" stroke-width="2.30"/>
<line x1="1449.80" y1="477.40" x2="1449.80" y2="431.70" stroke="#2e9a00" stroke-width="2.30" stroke-dasharray="10 11.5"/>
<line x1="1449.80" y1="530.10" x2="1449.80" y2="510.10" stroke="#2e9a00" stroke-width="2.30" stroke-dasharray="10 11.5"/>
<line x1="1442.10" y1="431.70" x2="1457.50" y2="431.70" stroke="#2e9a00" stroke-width="2.30" stroke-linecap="round"/>
<line x1="1442.10" y1="530.10" x2="1457.50" y2="530.10" stroke="#2e9a00" stroke-width="2.30" stroke-linecap="round"/>
<polygon points="1473.60,510.10 1473.60,505.80 1481.70,500.30 1473.60,494.90 1473.60,493.30 1505.60,493.30 1505.60,494.90 1497.50,500.30 1505.60,505.80 1505.60,510.10" fill="none" stroke="#ff5200" stroke-width="2.30" stroke-linejoin="round"/>
<line x1="1481.70" y1="500.30" x2="1497.50" y2="500.30" stroke="#ff5200" stroke-width="2.30"/>
<line x1="1489.60" y1="493.30" x2="1489.60" y2="479.60" stroke="#ff5200" stroke-width="2.30" stroke-dasharray="10 11.5"/>
<line x1="1489.60" y1="532.00" x2="1489.60" y2="510.10" stroke="#ff5200" stroke-width="2.30" stroke-dasharray="10 11.5"/>
<line x1="1481.90" y1="479.60" x2="1497.30" y2="479.60" stroke="#ff5200" stroke-width="2.30" stroke-linecap="round"/>
<line x1="1481.90" y1="532.00" x2="1497.30" y2="532.00" stroke="#ff5200" stroke-width="2.30" stroke-linecap="round"/>
<polygon points="1632.00,503.20 1632.00,503.00 1640.10,485.00 1632.00,470.20 1632.00,459.40 1664.00,459.40 1664.00,470.20 1655.90,485.00 1664.00,503.00 1664.00,503.20" fill="none" stroke="#1a6fff" stroke-width="2.30" stroke-linejoin="round"/>
<line x1="1640.10" y1="485.00" x2="1655.90" y2="485.00" stroke="#1a6fff" stroke-width="2.30"/>
<line x1="1648.00" y1="459.40" x2="1648.00" y2="412.40" stroke="#1a6fff" stroke-width="2.30" stroke-dasharray="10 11.5"/>
<line x1="1648.00" y1="525.50" x2="1648.00" y2="503.20" stroke="#1a6fff" stroke-width="2.30" stroke-dasharray="10 11.5"/>
<line x1="1640.30" y1="412.40" x2="1655.70" y2="412.40" stroke="#1a6fff" stroke-width="2.30" stroke-linecap="round"/>
<line x1="1640.30" y1="525.50" x2="1655.70" y2="525.50" stroke="#1a6fff" stroke-width="2.30" stroke-linecap="round"/>
<polygon points="1671.80,378.00 1671.80,371.90 1679.90,309.60 1671.80,248.30 1671.80,198.70 1703.80,198.70 1703.80,248.30 1695.70,309.60 1703.80,371.90 1703.80,378.00" fill="none" stroke="#2e9a00" stroke-width="2.30" stroke-linejoin="round"/>
<line x1="1679.90" y1="309.60" x2="1695.70" y2="309.60" stroke="#2e9a00" stroke-width="2.30"/>
<line x1="1687.80" y1="198.70" x2="1687.80" y2="94.50" stroke="#2e9a00" stroke-width="2.30" stroke-dasharray="10 11.5"/>
<line x1="1687.80" y1="412.60" x2="1687.80" y2="378.00" stroke="#2e9a00" stroke-width="2.30" stroke-dasharray="10 11.5"/>
<line x1="1680.10" y1="94.50" x2="1695.50" y2="94.50" stroke="#2e9a00" stroke-width="2.30" stroke-linecap="round"/>
<line x1="1680.10" y1="412.60" x2="1695.50" y2="412.60" stroke="#2e9a00" stroke-width="2.30" stroke-linecap="round"/>
<polygon points="1711.60,524.30 1711.60,520.80 1719.70,513.30 1711.60,504.60 1711.60,499.60 1743.60,499.60 1743.60,504.60 1735.50,513.30 1743.60,520.80 1743.60,524.30" fill="none" stroke="#ff5200" stroke-width="2.30" stroke-linejoin="round"/>
<line x1="1719.70" y1="513.30" x2="1735.50" y2="513.30" stroke="#ff5200" stroke-width="2.30"/>
<line x1="1727.60" y1="499.60" x2="1727.60" y2="478.30" stroke="#ff5200" stroke-width="2.30" stroke-dasharray="10 11.5"/>
<line x1="1727.60" y1="537.60" x2="1727.60" y2="524.30" stroke="#ff5200" stroke-width="2.30" stroke-dasharray="10 11.5"/>
<line x1="1719.90" y1="478.30" x2="1735.30" y2="478.30" stroke="#ff5200" stroke-width="2.30" stroke-linecap="round"/>
<line x1="1719.90" y1="537.60" x2="1735.30" y2="537.60" stroke="#ff5200" stroke-width="2.30" stroke-linecap="round"/>
<polygon points="1869.80,496.90 1869.80,485.60 1877.90,468.80 1869.80,451.50 1869.80,446.90 1901.80,446.90 1901.80,451.50 1893.70,468.80 1901.80,485.60 1901.80,496.90" fill="none" stroke="#1a6fff" stroke-width="2.30" stroke-linejoin="round"/>
<line x1="1877.90" y1="468.80" x2="1893.70" y2="468.80" stroke="#1a6fff" stroke-width="2.30"/>
<line x1="1885.80" y1="446.90" x2="1885.80" y2="384.90" stroke="#1a6fff" stroke-width="2.30" stroke-dasharray="10 11.5"/>
<line x1="1885.80" y1="515.00" x2="1885.80" y2="496.90" stroke="#1a6fff" stroke-width="2.30" stroke-dasharray="10 11.5"/>
<line x1="1878.10" y1="384.90" x2="1893.50" y2="384.90" stroke="#1a6fff" stroke-width="2.30" stroke-linecap="round"/>
<line x1="1878.10" y1="515.00" x2="1893.50" y2="515.00" stroke="#1a6fff" stroke-width="2.30" stroke-linecap="round"/>
<path d="M1880.30 347.10h11M1885.80 341.60v11" stroke="#ff0000" stroke-width="2.5" stroke-linecap="round"/>
<polygon points="1909.60,537.30 1909.60,537.30 1917.70,532.00 1909.60,526.60 1909.60,523.40 1941.60,523.40 1941.60,526.60 1933.50,532.00 1941.60,537.30 1941.60,537.30" fill="none" stroke="#2e9a00" stroke-width="2.30" stroke-linejoin="round"/>
<line x1="1917.70" y1="532.00" x2="1933.50" y2="532.00" stroke="#2e9a00" stroke-width="2.30"/>
<line x1="1925.60" y1="523.40" x2="1925.60" y2="510.90" stroke="#2e9a00" stroke-width="2.30" stroke-dasharray="10 11.5"/>
<line x1="1925.60" y1="547.40" x2="1925.60" y2="537.30" stroke="#2e9a00" stroke-width="2.30" stroke-dasharray="10 11.5"/>
<line x1="1917.90" y1="510.90" x2="1933.30" y2="510.90" stroke="#2e9a00" stroke-width="2.30" stroke-linecap="round"/>
<line x1="1917.90" y1="547.40" x2="1933.30" y2="547.40" stroke="#2e9a00" stroke-width="2.30" stroke-linecap="round"/>
<path d="M1920.10 501.90h11M1925.60 496.40v11" stroke="#ff0000" stroke-width="2.5" stroke-linecap="round"/>
<polygon points="1949.40,461.30 1949.40,461.30 1957.50,424.40 1949.40,386.40 1949.40,350.90 1981.40,350.90 1981.40,386.40 1973.30,424.40 1981.40,461.30 1981.40,461.30" fill="none" stroke="#ff5200" stroke-width="2.30" stroke-linejoin="round"/>
<line x1="1957.50" y1="424.40" x2="1973.30" y2="424.40" stroke="#ff5200" stroke-width="2.30"/>
<line x1="1965.40" y1="350.90" x2="1965.40" y2="188.60" stroke="#ff5200" stroke-width="2.30" stroke-dasharray="10 11.5"/>
<line x1="1965.40" y1="519.90" x2="1965.40" y2="461.30" stroke="#ff5200" stroke-width="2.30" stroke-dasharray="10 11.5"/>
<line x1="1957.70" y1="188.60" x2="1973.10" y2="188.60" stroke="#ff5200" stroke-width="2.30" stroke-linecap="round"/>
<line x1="1957.70" y1="519.90" x2="1973.10" y2="519.90" stroke="#ff5200" stroke-width="2.30" stroke-linecap="round"/>
<polygon points="1394.00,1204.60 1394.00,1203.00 1402.10,1189.50 1394.00,1176.60 1394.00,1164.10 1426.00,1164.10 1426.00,1176.60 1417.90,1189.50 1426.00,1203.00 1426.00,1204.60" fill="none" stroke="#1a6fff" stroke-width="2.30" stroke-linejoin="round"/>
<line x1="1402.10" y1="1189.50" x2="1417.90" y2="1189.50" stroke="#1a6fff" stroke-width="2.30"/>
<line x1="1410.00" y1="1164.10" x2="1410.00" y2="1150.80" stroke="#1a6fff" stroke-width="2.30" stroke-dasharray="10 11.5"/>
<line x1="1410.00" y1="1224.10" x2="1410.00" y2="1204.60" stroke="#1a6fff" stroke-width="2.30" stroke-dasharray="10 11.5"/>
<line x1="1402.30" y1="1150.80" x2="1417.70" y2="1150.80" stroke="#1a6fff" stroke-width="2.30" stroke-linecap="round"/>
<line x1="1402.30" y1="1224.10" x2="1417.70" y2="1224.10" stroke="#1a6fff" stroke-width="2.30" stroke-linecap="round"/>
<polygon points="1433.80,1198.70 1433.80,1196.00 1441.90,1183.60 1433.80,1172.70 1433.80,1162.80 1465.80,1162.80 1465.80,1172.70 1457.70,1183.60 1465.80,1196.00 1465.80,1198.70" fill="none" stroke="#2e9a00" stroke-width="2.30" stroke-linejoin="round"/>
<line x1="1441.90" y1="1183.60" x2="1457.70" y2="1183.60" stroke="#2e9a00" stroke-width="2.30"/>
<line x1="1449.80" y1="1162.80" x2="1449.80" y2="1149.30" stroke="#2e9a00" stroke-width="2.30" stroke-dasharray="10 11.5"/>
<line x1="1449.80" y1="1225.70" x2="1449.80" y2="1198.70" stroke="#2e9a00" stroke-width="2.30" stroke-dasharray="10 11.5"/>
<line x1="1442.10" y1="1149.30" x2="1457.50" y2="1149.30" stroke="#2e9a00" stroke-width="2.30" stroke-linecap="round"/>
<line x1="1442.10" y1="1225.70" x2="1457.50" y2="1225.70" stroke="#2e9a00" stroke-width="2.30" stroke-linecap="round"/>
<polygon points="1473.60,1198.40 1473.60,1193.00 1481.70,1186.70 1473.60,1181.50 1473.60,1180.00 1505.60,1180.00 1505.60,1181.50 1497.50,1186.70 1505.60,1193.00 1505.60,1198.40" fill="none" stroke="#ff5200" stroke-width="2.30" stroke-linejoin="round"/>
<line x1="1481.70" y1="1186.70" x2="1497.50" y2="1186.70" stroke="#ff5200" stroke-width="2.30"/>
<line x1="1489.60" y1="1180.00" x2="1489.60" y2="1162.20" stroke="#ff5200" stroke-width="2.30" stroke-dasharray="10 11.5"/>
<line x1="1489.60" y1="1221.30" x2="1489.60" y2="1198.40" stroke="#ff5200" stroke-width="2.30" stroke-dasharray="10 11.5"/>
<line x1="1481.90" y1="1162.20" x2="1497.30" y2="1162.20" stroke="#ff5200" stroke-width="2.30" stroke-linecap="round"/>
<line x1="1481.90" y1="1221.30" x2="1497.30" y2="1221.30" stroke="#ff5200" stroke-width="2.30" stroke-linecap="round"/>
<path d="M1484.10 1140.40h11M1489.60 1134.90v11" stroke="#ff0000" stroke-width="2.5" stroke-linecap="round"/>
<polygon points="1632.00,1178.00 1632.00,1174.40 1640.10,1160.20 1632.00,1147.00 1632.00,1135.30 1664.00,1135.30 1664.00,1147.00 1655.90,1160.20 1664.00,1174.40 1664.00,1178.00" fill="none" stroke="#1a6fff" stroke-width="2.30" stroke-linejoin="round"/>
<line x1="1640.10" y1="1160.20" x2="1655.90" y2="1160.20" stroke="#1a6fff" stroke-width="2.30"/>
<line x1="1648.00" y1="1135.30" x2="1648.00" y2="1087.60" stroke="#1a6fff" stroke-width="2.30" stroke-dasharray="10 11.5"/>
<line x1="1648.00" y1="1209.20" x2="1648.00" y2="1178.00" stroke="#1a6fff" stroke-width="2.30" stroke-dasharray="10 11.5"/>
<line x1="1640.30" y1="1087.60" x2="1655.70" y2="1087.60" stroke="#1a6fff" stroke-width="2.30" stroke-linecap="round"/>
<line x1="1640.30" y1="1209.20" x2="1655.70" y2="1209.20" stroke="#1a6fff" stroke-width="2.30" stroke-linecap="round"/>
<polygon points="1671.80,1058.30 1671.80,1054.80 1679.90,1014.30 1671.80,974.60 1671.80,930.40 1703.80,930.40 1703.80,974.60 1695.70,1014.30 1703.80,1054.80 1703.80,1058.30" fill="none" stroke="#2e9a00" stroke-width="2.30" stroke-linejoin="round"/>
<line x1="1679.90" y1="1014.30" x2="1695.70" y2="1014.30" stroke="#2e9a00" stroke-width="2.30"/>
<line x1="1687.80" y1="930.40" x2="1687.80" y2="829.70" stroke="#2e9a00" stroke-width="2.30" stroke-dasharray="10 11.5"/>
<line x1="1687.80" y1="1188.10" x2="1687.80" y2="1058.30" stroke="#2e9a00" stroke-width="2.30" stroke-dasharray="10 11.5"/>
<line x1="1680.10" y1="829.70" x2="1695.50" y2="829.70" stroke="#2e9a00" stroke-width="2.30" stroke-linecap="round"/>
<line x1="1680.10" y1="1188.10" x2="1695.50" y2="1188.10" stroke="#2e9a00" stroke-width="2.30" stroke-linecap="round"/>
<polygon points="1711.60,1213.50 1711.60,1211.50 1719.70,1206.40 1711.60,1201.70 1711.60,1199.70 1743.60,1199.70 1743.60,1201.70 1735.50,1206.40 1743.60,1211.50 1743.60,1213.50" fill="none" stroke="#ff5200" stroke-width="2.30" stroke-linejoin="round"/>
<line x1="1719.70" y1="1206.40" x2="1735.50" y2="1206.40" stroke="#ff5200" stroke-width="2.30"/>
<line x1="1727.60" y1="1199.70" x2="1727.60" y2="1179.00" stroke="#ff5200" stroke-width="2.30" stroke-dasharray="10 11.5"/>
<line x1="1727.60" y1="1228.50" x2="1727.60" y2="1213.50" stroke="#ff5200" stroke-width="2.30" stroke-dasharray="10 11.5"/>
<line x1="1719.90" y1="1179.00" x2="1735.30" y2="1179.00" stroke="#ff5200" stroke-width="2.30" stroke-linecap="round"/>
<line x1="1719.90" y1="1228.50" x2="1735.30" y2="1228.50" stroke="#ff5200" stroke-width="2.30" stroke-linecap="round"/>
<path d="M1722.10 1155.70h11M1727.60 1150.20v11" stroke="#ff0000" stroke-width="2.5" stroke-linecap="round"/>
<path d="M1722.10 1176.00h11M1727.60 1170.50v11" stroke="#ff0000" stroke-width="2.5" stroke-linecap="round"/>
<polygon points="1869.80,1195.00 1869.80,1178.90 1877.90,1163.10 1869.80,1147.00 1869.80,1143.90 1901.80,1143.90 1901.80,1147.00 1893.70,1163.10 1901.80,1178.90 1901.80,1195.00" fill="none" stroke="#1a6fff" stroke-width="2.30" stroke-linejoin="round"/>
<line x1="1877.90" y1="1163.10" x2="1893.70" y2="1163.10" stroke="#1a6fff" stroke-width="2.30"/>
<line x1="1885.80" y1="1143.90" x2="1885.80" y2="1085.30" stroke="#1a6fff" stroke-width="2.30" stroke-dasharray="10 11.5"/>
<line x1="1885.80" y1="1222.30" x2="1885.80" y2="1195.00" stroke="#1a6fff" stroke-width="2.30" stroke-dasharray="10 11.5"/>
<line x1="1878.10" y1="1085.30" x2="1893.50" y2="1085.30" stroke="#1a6fff" stroke-width="2.30" stroke-linecap="round"/>
<line x1="1878.10" y1="1222.30" x2="1893.50" y2="1222.30" stroke="#1a6fff" stroke-width="2.30" stroke-linecap="round"/>
<polygon points="1909.60,1222.90 1909.60,1222.90 1917.70,1216.80 1909.60,1211.00 1909.60,1209.20 1941.60,1209.20 1941.60,1211.00 1933.50,1216.80 1941.60,1222.90 1941.60,1222.90" fill="none" stroke="#2e9a00" stroke-width="2.30" stroke-linejoin="round"/>
<line x1="1917.70" y1="1216.80" x2="1933.50" y2="1216.80" stroke="#2e9a00" stroke-width="2.30"/>
<line x1="1925.60" y1="1209.20" x2="1925.60" y2="1204.70" stroke="#2e9a00" stroke-width="2.30" stroke-dasharray="10 11.5"/>
<line x1="1925.60" y1="1231.10" x2="1925.60" y2="1222.90" stroke="#2e9a00" stroke-width="2.30" stroke-dasharray="10 11.5"/>
<line x1="1917.90" y1="1204.70" x2="1933.30" y2="1204.70" stroke="#2e9a00" stroke-width="2.30" stroke-linecap="round"/>
<line x1="1917.90" y1="1231.10" x2="1933.30" y2="1231.10" stroke="#2e9a00" stroke-width="2.30" stroke-linecap="round"/>
<polygon points="1949.40,1131.80 1949.40,1102.90 1957.50,1068.60 1949.40,1033.70 1949.40,1020.30 1981.40,1020.30 1981.40,1033.70 1973.30,1068.60 1981.40,1102.90 1981.40,1131.80" fill="none" stroke="#ff5200" stroke-width="2.30" stroke-linejoin="round"/>
<line x1="1957.50" y1="1068.60" x2="1973.30" y2="1068.60" stroke="#ff5200" stroke-width="2.30"/>
<line x1="1965.40" y1="1020.30" x2="1965.40" y2="966.30" stroke="#ff5200" stroke-width="2.30" stroke-dasharray="10 11.5"/>
<line x1="1965.40" y1="1204.00" x2="1965.40" y2="1131.80" stroke="#ff5200" stroke-width="2.30" stroke-dasharray="10 11.5"/>
<line x1="1957.70" y1="966.30" x2="1973.10" y2="966.30" stroke="#ff5200" stroke-width="2.30" stroke-linecap="round"/>
<line x1="1957.70" y1="1204.00" x2="1973.10" y2="1204.00" stroke="#ff5200" stroke-width="2.30" stroke-linecap="round"/>
<line x1="1408.2" y1="349.8" x2="1491.4" y2="349.8" stroke="#000" stroke-width="3"/>
<line x1="1408.2" y1="392.1" x2="1447.6" y2="392.1" stroke="#000" stroke-width="3"/>
<line x1="1452.0" y1="392.1" x2="1491.4" y2="392.1" stroke="#000" stroke-width="3"/>
<text x="1449.8" y="345.2" text-anchor="middle" font-size="22" font-family="'Liberation Sans', Arial, sans-serif">NS</text>
<text x="1430.0" y="387.5" text-anchor="middle" font-size="22" font-family="'Liberation Sans', Arial, sans-serif">NS</text>
<text x="1469.6" y="387.5" text-anchor="middle" font-size="22" font-family="'Liberation Sans', Arial, sans-serif">NS</text>
<line x1="1646.2" y1="51.9" x2="1729.4" y2="51.9" stroke="#000" stroke-width="3"/>
<line x1="1646.2" y1="83.8" x2="1685.6" y2="83.8" stroke="#000" stroke-width="3"/>
<line x1="1690.0" y1="83.8" x2="1729.4" y2="83.8" stroke="#000" stroke-width="3"/>
<text x="1687.8" y="50.9" text-anchor="middle" font-size="22" font-family="'Liberation Sans', Arial, sans-serif">***</text>
<text x="1668.0" y="82.8" text-anchor="middle" font-size="22" font-family="'Liberation Sans', Arial, sans-serif">***</text>
<text x="1707.6" y="82.8" text-anchor="middle" font-size="22" font-family="'Liberation Sans', Arial, sans-serif">***</text>
<line x1="1884.0" y1="126.5" x2="1967.2" y2="126.5" stroke="#000" stroke-width="3"/>
<line x1="1884.0" y1="158.5" x2="1923.4" y2="158.5" stroke="#000" stroke-width="3"/>
<line x1="1927.8" y1="158.5" x2="1967.2" y2="158.5" stroke="#000" stroke-width="3"/>
<text x="1925.6" y="125.5" text-anchor="middle" font-size="22" font-family="'Liberation Sans', Arial, sans-serif">***</text>
<text x="1905.8" y="157.5" text-anchor="middle" font-size="22" font-family="'Liberation Sans', Arial, sans-serif">***</text>
<text x="1945.4" y="157.5" text-anchor="middle" font-size="22" font-family="'Liberation Sans', Arial, sans-serif">***</text>
<line x1="1408.2" y1="1049.6" x2="1491.4" y2="1049.6" stroke="#000" stroke-width="3"/>
<line x1="1408.2" y1="1094.2" x2="1447.6" y2="1094.2" stroke="#000" stroke-width="3"/>
<line x1="1452.0" y1="1094.2" x2="1491.4" y2="1094.2" stroke="#000" stroke-width="3"/>
<text x="1449.8" y="1045.0" text-anchor="middle" font-size="22" font-family="'Liberation Sans', Arial, sans-serif">NS</text>
<text x="1430.0" y="1089.6" text-anchor="middle" font-size="22" font-family="'Liberation Sans', Arial, sans-serif">NS</text>
<text x="1469.6" y="1089.6" text-anchor="middle" font-size="22" font-family="'Liberation Sans', Arial, sans-serif">NS</text>
<line x1="1646.2" y1="769.4" x2="1729.4" y2="769.4" stroke="#000" stroke-width="3"/>
<line x1="1646.2" y1="803.0" x2="1685.6" y2="803.0" stroke="#000" stroke-width="3"/>
<line x1="1690.0" y1="803.0" x2="1729.4" y2="803.0" stroke="#000" stroke-width="3"/>
<text x="1687.8" y="768.4" text-anchor="middle" font-size="22" font-family="'Liberation Sans', Arial, sans-serif">***</text>
<text x="1668.0" y="802.0" text-anchor="middle" font-size="22" font-family="'Liberation Sans', Arial, sans-serif">***</text>
<text x="1707.6" y="802.0" text-anchor="middle" font-size="22" font-family="'Liberation Sans', Arial, sans-serif">***</text>
<line x1="1884.0" y1="891.9" x2="1967.2" y2="891.9" stroke="#000" stroke-width="3"/>
<line x1="1884.0" y1="925.9" x2="1923.4" y2="925.9" stroke="#000" stroke-width="3"/>
<line x1="1927.8" y1="925.9" x2="1967.2" y2="925.9" stroke="#000" stroke-width="3"/>
<text x="1925.6" y="890.9" text-anchor="middle" font-size="22" font-family="'Liberation Sans', Arial, sans-serif">***</text>
<text x="1905.8" y="924.9" text-anchor="middle" font-size="22" font-family="'Liberation Sans', Arial, sans-serif">***</text>
<text x="1945.4" y="924.9" text-anchor="middle" font-size="22" font-family="'Liberation Sans', Arial, sans-serif">***</text>
<text x="1252.7" y="33.4" font-size="41" font-family="'Liberation Sans', Arial, sans-serif">b)</text>
<text transform="translate(52.4 206.0) rotate(-90)" text-anchor="middle" font-size="25.75" font-family="'Liberation Sans', Arial, sans-serif">Chinese word</text>
<text transform="translate(51.4 639.7) rotate(-90)" text-anchor="middle" font-size="25.75" font-family="'Liberation Sans', Arial, sans-serif">English word</text>
<text transform="translate(50.6 1081.4) rotate(-90)" text-anchor="middle" font-size="25.75" font-family="'Liberation Sans', Arial, sans-serif">Chinese pinyin</text>
<text transform="translate(81.2 103.5) rotate(-90)" text-anchor="middle" font-size="25.75" font-family="'Liberation Sans', Arial, sans-serif">Eearly AOA</text>
<text transform="translate(83.5 538.4) rotate(-90)" text-anchor="middle" font-size="25.75" font-family="'Liberation Sans', Arial, sans-serif">Eearly AOA</text>
<text transform="translate(81.7 976.9) rotate(-90)" text-anchor="middle" font-size="25.75" font-family="'Liberation Sans', Arial, sans-serif">Eearly AOA</text>
<text transform="translate(81.7 313.4) rotate(-90)" text-anchor="middle" font-size="25.75" font-family="'Liberation Sans', Arial, sans-serif">Late AOA</text>
<text transform="translate(87.6 747.3) rotate(-90)" text-anchor="middle" font-size="25.75" font-family="'Liberation Sans', Arial, sans-serif">Late AOA</text>
<text transform="translate(82.6 1184.1) rotate(-90)" text-anchor="middle" font-size="25.75" font-family="'Liberation Sans', Arial, sans-serif">Late AOA</text>
<text x="-0.6" y="36.9" font-size="41" font-family="'Liberation Sans', Arial, sans-serif">a)</text>
<text x="92.6" y="22.7" font-size="29" font-weight="bold" font-family="'Liberation Sans', Arial, sans-serif">L</text>
<text x="1199.1" y="22.7" font-size="29" font-weight="bold" font-family="'Liberation Sans', Arial, sans-serif">R</text>
</svg>
</body></html>
